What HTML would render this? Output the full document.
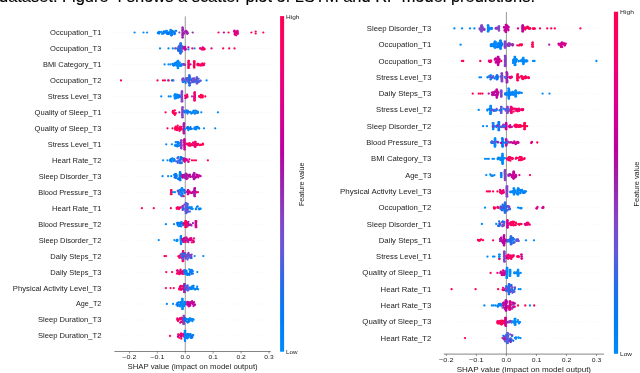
<!DOCTYPE html><html><head><meta charset="utf-8"><style>html,body{margin:0;padding:0;background:#fff;width:640px;height:373px;overflow:hidden}svg{display:block;filter:blur(0.3px)}</style></head><body><svg width="640" height="373" viewBox="0 0 640 373" font-family="Liberation Sans, sans-serif">
<defs><linearGradient id="cg" x1="0" y1="0" x2="0" y2="1"><stop offset="0.0" stop-color="#ff0051"/><stop offset="0.1" stop-color="#f90067"/><stop offset="0.2" stop-color="#e9007c"/><stop offset="0.3" stop-color="#d5008f"/><stop offset="0.4" stop-color="#bb00a0"/><stop offset="0.5" stop-color="#9b23ad"/><stop offset="0.6" stop-color="#8443c6"/><stop offset="0.7" stop-color="#6359da"/><stop offset="0.8" stop-color="#236cea"/><stop offset="0.9" stop-color="#007cf5"/><stop offset="1.0" stop-color="#008bfb"/></linearGradient></defs>
<rect width="640" height="373" fill="#ffffff"/>
<text x="-1" y="2.2" font-size="16.4" textLength="536" lengthAdjust="spacingAndGlyphs" fill="#000000" stroke="#000" stroke-width="0.12">dataset. Figure 4 shows a scatter plot of LSTM and RF model predictions.</text>
<line x1="114.40" y1="32.50" x2="270.80" y2="32.50" stroke="#d8d8d8" stroke-width="0.5" stroke-dasharray="0.5 2.6"/>
<line x1="114.40" y1="48.47" x2="270.80" y2="48.47" stroke="#d8d8d8" stroke-width="0.5" stroke-dasharray="0.5 2.6"/>
<line x1="114.40" y1="64.44" x2="270.80" y2="64.44" stroke="#d8d8d8" stroke-width="0.5" stroke-dasharray="0.5 2.6"/>
<line x1="114.40" y1="80.41" x2="270.80" y2="80.41" stroke="#d8d8d8" stroke-width="0.5" stroke-dasharray="0.5 2.6"/>
<line x1="114.40" y1="96.38" x2="270.80" y2="96.38" stroke="#d8d8d8" stroke-width="0.5" stroke-dasharray="0.5 2.6"/>
<line x1="114.40" y1="112.35" x2="270.80" y2="112.35" stroke="#d8d8d8" stroke-width="0.5" stroke-dasharray="0.5 2.6"/>
<line x1="114.40" y1="128.32" x2="270.80" y2="128.32" stroke="#d8d8d8" stroke-width="0.5" stroke-dasharray="0.5 2.6"/>
<line x1="114.40" y1="144.29" x2="270.80" y2="144.29" stroke="#d8d8d8" stroke-width="0.5" stroke-dasharray="0.5 2.6"/>
<line x1="114.40" y1="160.26" x2="270.80" y2="160.26" stroke="#d8d8d8" stroke-width="0.5" stroke-dasharray="0.5 2.6"/>
<line x1="114.40" y1="176.23" x2="270.80" y2="176.23" stroke="#d8d8d8" stroke-width="0.5" stroke-dasharray="0.5 2.6"/>
<line x1="114.40" y1="192.20" x2="270.80" y2="192.20" stroke="#d8d8d8" stroke-width="0.5" stroke-dasharray="0.5 2.6"/>
<line x1="114.40" y1="208.17" x2="270.80" y2="208.17" stroke="#d8d8d8" stroke-width="0.5" stroke-dasharray="0.5 2.6"/>
<line x1="114.40" y1="224.14" x2="270.80" y2="224.14" stroke="#d8d8d8" stroke-width="0.5" stroke-dasharray="0.5 2.6"/>
<line x1="114.40" y1="240.11" x2="270.80" y2="240.11" stroke="#d8d8d8" stroke-width="0.5" stroke-dasharray="0.5 2.6"/>
<line x1="114.40" y1="256.08" x2="270.80" y2="256.08" stroke="#d8d8d8" stroke-width="0.5" stroke-dasharray="0.5 2.6"/>
<line x1="114.40" y1="272.05" x2="270.80" y2="272.05" stroke="#d8d8d8" stroke-width="0.5" stroke-dasharray="0.5 2.6"/>
<line x1="114.40" y1="288.02" x2="270.80" y2="288.02" stroke="#d8d8d8" stroke-width="0.5" stroke-dasharray="0.5 2.6"/>
<line x1="114.40" y1="303.99" x2="270.80" y2="303.99" stroke="#d8d8d8" stroke-width="0.5" stroke-dasharray="0.5 2.6"/>
<line x1="114.40" y1="319.96" x2="270.80" y2="319.96" stroke="#d8d8d8" stroke-width="0.5" stroke-dasharray="0.5 2.6"/>
<line x1="114.40" y1="335.93" x2="270.80" y2="335.93" stroke="#d8d8d8" stroke-width="0.5" stroke-dasharray="0.5 2.6"/>
<line x1="185.25" y1="16.40" x2="185.25" y2="351.50" stroke="#999999" stroke-width="1"/>
<text x="101.40" y="34.98" text-anchor="end" font-size="7.31" textLength="51.27" lengthAdjust="spacingAndGlyphs" fill="#222222">Occupation_T1</text>
<text x="101.40" y="50.95" text-anchor="end" font-size="7.31" textLength="51.27" lengthAdjust="spacingAndGlyphs" fill="#222222">Occupation_T3</text>
<text x="101.40" y="66.92" text-anchor="end" font-size="7.31" textLength="58.49" lengthAdjust="spacingAndGlyphs" fill="#222222">BMI Category_T1</text>
<text x="101.40" y="82.89" text-anchor="end" font-size="7.31" textLength="51.27" lengthAdjust="spacingAndGlyphs" fill="#222222">Occupation_T2</text>
<text x="101.40" y="98.86" text-anchor="end" font-size="7.31" textLength="53.67" lengthAdjust="spacingAndGlyphs" fill="#222222">Stress Level_T3</text>
<text x="101.40" y="114.83" text-anchor="end" font-size="7.31" textLength="66.91" lengthAdjust="spacingAndGlyphs" fill="#222222">Quality of Sleep_T1</text>
<text x="101.40" y="130.80" text-anchor="end" font-size="7.31" textLength="66.91" lengthAdjust="spacingAndGlyphs" fill="#222222">Quality of Sleep_T3</text>
<text x="101.40" y="146.77" text-anchor="end" font-size="7.31" textLength="53.67" lengthAdjust="spacingAndGlyphs" fill="#222222">Stress Level_T1</text>
<text x="101.40" y="162.74" text-anchor="end" font-size="7.31" textLength="49.27" lengthAdjust="spacingAndGlyphs" fill="#222222">Heart Rate_T2</text>
<text x="101.40" y="178.71" text-anchor="end" font-size="7.31" textLength="62.64" lengthAdjust="spacingAndGlyphs" fill="#222222">Sleep Disorder_T3</text>
<text x="101.40" y="194.68" text-anchor="end" font-size="7.31" textLength="63.19" lengthAdjust="spacingAndGlyphs" fill="#222222">Blood Pressure_T3</text>
<text x="101.40" y="210.65" text-anchor="end" font-size="7.31" textLength="49.27" lengthAdjust="spacingAndGlyphs" fill="#222222">Heart Rate_T1</text>
<text x="101.40" y="226.62" text-anchor="end" font-size="7.31" textLength="63.19" lengthAdjust="spacingAndGlyphs" fill="#222222">Blood Pressure_T2</text>
<text x="101.40" y="242.59" text-anchor="end" font-size="7.31" textLength="62.64" lengthAdjust="spacingAndGlyphs" fill="#222222">Sleep Disorder_T2</text>
<text x="101.40" y="258.56" text-anchor="end" font-size="7.31" textLength="51.01" lengthAdjust="spacingAndGlyphs" fill="#222222">Daily Steps_T2</text>
<text x="101.40" y="274.53" text-anchor="end" font-size="7.31" textLength="51.01" lengthAdjust="spacingAndGlyphs" fill="#222222">Daily Steps_T3</text>
<text x="101.40" y="290.50" text-anchor="end" font-size="7.31" textLength="88.53" lengthAdjust="spacingAndGlyphs" fill="#222222">Physical Activity Level_T3</text>
<text x="101.40" y="306.47" text-anchor="end" font-size="7.31" textLength="25.40" lengthAdjust="spacingAndGlyphs" fill="#222222">Age_T2</text>
<text x="101.40" y="322.44" text-anchor="end" font-size="7.31" textLength="63.38" lengthAdjust="spacingAndGlyphs" fill="#222222">Sleep Duration_T3</text>
<text x="101.40" y="338.41" text-anchor="end" font-size="7.31" textLength="63.38" lengthAdjust="spacingAndGlyphs" fill="#222222">Sleep Duration_T2</text>
<line x1="114.40" y1="351.50" x2="270.80" y2="351.50" stroke="#333333" stroke-width="0.6"/>
<line x1="129.41" y1="351.50" x2="129.41" y2="353.50" stroke="#333333" stroke-width="0.5"/>
<text x="129.41" y="358.96" text-anchor="middle" font-size="5.84" textLength="14.18" lengthAdjust="spacingAndGlyphs" fill="#222222">−0.2</text>
<line x1="157.33" y1="351.50" x2="157.33" y2="353.50" stroke="#333333" stroke-width="0.5"/>
<text x="157.33" y="358.96" text-anchor="middle" font-size="5.84" textLength="14.18" lengthAdjust="spacingAndGlyphs" fill="#222222">−0.1</text>
<line x1="185.25" y1="351.50" x2="185.25" y2="353.50" stroke="#333333" stroke-width="0.5"/>
<text x="185.25" y="358.96" text-anchor="middle" font-size="5.84" textLength="9.29" lengthAdjust="spacingAndGlyphs" fill="#222222">0.0</text>
<line x1="213.17" y1="351.50" x2="213.17" y2="353.50" stroke="#333333" stroke-width="0.5"/>
<text x="213.17" y="358.96" text-anchor="middle" font-size="5.84" textLength="9.29" lengthAdjust="spacingAndGlyphs" fill="#222222">0.1</text>
<line x1="241.09" y1="351.50" x2="241.09" y2="353.50" stroke="#333333" stroke-width="0.5"/>
<text x="241.09" y="358.96" text-anchor="middle" font-size="5.84" textLength="9.29" lengthAdjust="spacingAndGlyphs" fill="#222222">0.2</text>
<line x1="269.01" y1="351.50" x2="269.01" y2="353.50" stroke="#333333" stroke-width="0.5"/>
<text x="269.01" y="358.96" text-anchor="middle" font-size="5.84" textLength="9.29" lengthAdjust="spacingAndGlyphs" fill="#222222">0.3</text>
<text x="192.60" y="369.00" text-anchor="middle" font-size="6.90" textLength="130.23" lengthAdjust="spacingAndGlyphs" fill="#222222">SHAP value (impact on model output)</text>
<rect x="280.10" y="16.10" width="4.00" height="335.60" fill="url(#cg)"/>
<text x="286.10" y="18.70" font-size="5.84" textLength="13.42" lengthAdjust="spacingAndGlyphs" fill="#222222">High</text>
<text x="286.10" y="354.10" font-size="5.84" textLength="11.50" lengthAdjust="spacingAndGlyphs" fill="#222222">Low</text>
<text transform="translate(304.49,184.30) rotate(-90)" text-anchor="middle" font-size="6.37" textLength="43.49" lengthAdjust="spacingAndGlyphs" fill="#222222">Feature value</text>
<circle cx="134.60" cy="32.50" r="1.12" fill="#008bfb"/>
<circle cx="143.50" cy="32.50" r="1.12" fill="#008bfb"/>
<circle cx="147.10" cy="32.50" r="1.12" fill="#008bfb"/>
<circle cx="158.64" cy="33.16" r="1.12" fill="#0080f7"/>
<circle cx="159.67" cy="32.49" r="1.12" fill="#0084f9"/>
<circle cx="163.04" cy="33.23" r="1.12" fill="#0089fa"/>
<circle cx="157.74" cy="33.03" r="1.12" fill="#0085f9"/>
<circle cx="163.98" cy="31.40" r="1.12" fill="#0084f9"/>
<circle cx="163.63" cy="31.87" r="1.12" fill="#007df6"/>
<circle cx="165.16" cy="31.66" r="1.12" fill="#008afb"/>
<circle cx="162.10" cy="33.76" r="1.12" fill="#0085f9"/>
<circle cx="159.34" cy="32.33" r="1.12" fill="#008afb"/>
<circle cx="159.38" cy="32.37" r="1.12" fill="#0084f9"/>
<circle cx="159.48" cy="31.91" r="1.12" fill="#0088fa"/>
<circle cx="161.41" cy="31.89" r="1.12" fill="#008afb"/>
<circle cx="164.62" cy="32.61" r="1.12" fill="#0082f8"/>
<circle cx="159.08" cy="33.51" r="1.12" fill="#007ef6"/>
<circle cx="158.53" cy="32.19" r="1.12" fill="#0080f7"/>
<circle cx="163.55" cy="33.53" r="1.12" fill="#0085f9"/>
<circle cx="174.72" cy="33.18" r="1.12" fill="#0082f8"/>
<circle cx="172.17" cy="34.59" r="1.12" fill="#0071ee"/>
<circle cx="171.31" cy="33.03" r="1.12" fill="#008afb"/>
<circle cx="168.55" cy="33.83" r="1.12" fill="#007ff6"/>
<circle cx="167.82" cy="32.70" r="1.12" fill="#0076f1"/>
<circle cx="173.08" cy="31.88" r="1.12" fill="#007ef6"/>
<circle cx="171.34" cy="34.16" r="1.12" fill="#007cf5"/>
<circle cx="170.13" cy="32.44" r="1.12" fill="#008afb"/>
<circle cx="166.46" cy="33.16" r="1.12" fill="#1f6deb"/>
<circle cx="172.23" cy="31.92" r="1.12" fill="#0086f9"/>
<circle cx="171.27" cy="35.39" r="1.12" fill="#0074f0"/>
<circle cx="171.67" cy="34.58" r="1.12" fill="#0084f9"/>
<circle cx="171.39" cy="35.18" r="1.12" fill="#007af4"/>
<circle cx="170.82" cy="31.17" r="1.12" fill="#007bf4"/>
<circle cx="176.05" cy="30.89" r="1.12" fill="#0073f0"/>
<circle cx="174.62" cy="34.07" r="1.12" fill="#0075f1"/>
<circle cx="174.50" cy="32.58" r="1.12" fill="#007af4"/>
<circle cx="170.47" cy="30.03" r="1.12" fill="#0070ee"/>
<circle cx="171.98" cy="30.83" r="1.12" fill="#007cf5"/>
<circle cx="171.09" cy="31.65" r="1.12" fill="#0081f7"/>
<circle cx="171.65" cy="33.21" r="1.12" fill="#0079f3"/>
<circle cx="170.81" cy="29.79" r="1.12" fill="#0084f9"/>
<circle cx="167.86" cy="32.84" r="1.12" fill="#0071ee"/>
<circle cx="174.38" cy="33.75" r="1.12" fill="#0072ef"/>
<circle cx="168.68" cy="34.05" r="1.12" fill="#0077f2"/>
<circle cx="166.87" cy="30.81" r="1.12" fill="#008afb"/>
<circle cx="173.93" cy="31.38" r="1.12" fill="#0088fa"/>
<circle cx="172.56" cy="31.68" r="1.12" fill="#0089fa"/>
<circle cx="167.68" cy="32.61" r="1.12" fill="#0086f9"/>
<circle cx="168.87" cy="33.48" r="1.12" fill="#007ef6"/>
<circle cx="169.38" cy="32.37" r="1.12" fill="#008afb"/>
<circle cx="170.06" cy="32.08" r="1.12" fill="#0085f9"/>
<circle cx="167.14" cy="33.96" r="1.12" fill="#007cf5"/>
<circle cx="168.20" cy="32.95" r="1.12" fill="#0072ef"/>
<circle cx="166.22" cy="30.99" r="1.12" fill="#0087fa"/>
<circle cx="179.40" cy="32.50" r="1.12" fill="#6359da"/>
<circle cx="182.39" cy="27.50" r="1.12" fill="#9b23ad"/>
<circle cx="182.76" cy="27.50" r="1.12" fill="#9b23ad"/>
<circle cx="182.38" cy="29.17" r="1.12" fill="#9b23ad"/>
<circle cx="182.97" cy="29.17" r="1.12" fill="#9b23ad"/>
<circle cx="182.32" cy="30.83" r="1.12" fill="#9b23ad"/>
<circle cx="182.79" cy="30.83" r="1.12" fill="#9b23ad"/>
<circle cx="182.49" cy="32.50" r="1.12" fill="#9b23ad"/>
<circle cx="183.02" cy="32.50" r="1.12" fill="#9b23ad"/>
<circle cx="182.31" cy="34.17" r="1.12" fill="#9b23ad"/>
<circle cx="182.79" cy="34.17" r="1.12" fill="#9b23ad"/>
<circle cx="182.36" cy="35.83" r="1.12" fill="#9b23ad"/>
<circle cx="182.86" cy="35.83" r="1.12" fill="#9b23ad"/>
<circle cx="182.33" cy="37.50" r="1.12" fill="#9b23ad"/>
<circle cx="182.83" cy="37.50" r="1.12" fill="#9b23ad"/>
<circle cx="186.34" cy="30.97" r="1.12" fill="#a01fab"/>
<circle cx="187.86" cy="33.30" r="1.12" fill="#a01fab"/>
<circle cx="187.36" cy="32.01" r="1.12" fill="#aa16a7"/>
<circle cx="186.85" cy="32.25" r="1.12" fill="#9f20ab"/>
<circle cx="183.54" cy="33.27" r="1.12" fill="#9c23ad"/>
<circle cx="187.19" cy="33.76" r="1.12" fill="#a51ca9"/>
<circle cx="184.27" cy="33.49" r="1.12" fill="#ab16a7"/>
<circle cx="186.67" cy="32.53" r="1.12" fill="#a11eab"/>
<circle cx="185.06" cy="31.50" r="1.12" fill="#a61aa9"/>
<circle cx="185.45" cy="31.36" r="1.12" fill="#9d22ac"/>
<circle cx="192.70" cy="32.50" r="1.12" fill="#9b23ad"/>
<circle cx="218.50" cy="32.50" r="1.12" fill="#ff0051"/>
<circle cx="223.90" cy="32.50" r="1.12" fill="#bb00a0"/>
<circle cx="228.50" cy="32.50" r="1.12" fill="#ff0051"/>
<circle cx="236.66" cy="31.31" r="1.12" fill="#e00086"/>
<circle cx="235.30" cy="34.65" r="1.12" fill="#e7007e"/>
<circle cx="234.07" cy="31.42" r="1.12" fill="#dc0089"/>
<circle cx="237.95" cy="33.52" r="1.12" fill="#dc0089"/>
<circle cx="234.85" cy="33.37" r="1.12" fill="#e6007f"/>
<circle cx="237.73" cy="31.88" r="1.12" fill="#e7007e"/>
<circle cx="236.75" cy="32.41" r="1.12" fill="#e9007c"/>
<circle cx="234.94" cy="33.66" r="1.12" fill="#d7008d"/>
<circle cx="234.68" cy="34.43" r="1.12" fill="#d9008b"/>
<circle cx="237.04" cy="33.02" r="1.12" fill="#e6007f"/>
<circle cx="235.47" cy="31.53" r="1.12" fill="#db008a"/>
<circle cx="237.47" cy="32.96" r="1.12" fill="#e8007d"/>
<circle cx="237.55" cy="30.94" r="1.12" fill="#e10085"/>
<circle cx="234.42" cy="30.55" r="1.12" fill="#d6008e"/>
<circle cx="237.46" cy="33.78" r="1.12" fill="#e6007f"/>
<circle cx="235.36" cy="33.18" r="1.12" fill="#e50080"/>
<circle cx="235.51" cy="32.94" r="1.12" fill="#da008b"/>
<circle cx="234.33" cy="31.55" r="1.12" fill="#e7007e"/>
<circle cx="236.26" cy="35.28" r="1.12" fill="#df0087"/>
<circle cx="251.40" cy="32.50" r="1.12" fill="#ff0051"/>
<circle cx="255.70" cy="31.50" r="1.12" fill="#ff0051"/>
<circle cx="255.70" cy="33.50" r="1.12" fill="#ff0051"/>
<circle cx="263.30" cy="32.50" r="1.12" fill="#ff0051"/>
<circle cx="160.00" cy="48.47" r="1.12" fill="#008bfb"/>
<circle cx="168.50" cy="48.47" r="1.12" fill="#008bfb"/>
<circle cx="172.80" cy="48.47" r="1.12" fill="#008bfb"/>
<circle cx="175.20" cy="48.47" r="1.12" fill="#ff0051"/>
<circle cx="176.00" cy="48.47" r="1.12" fill="#008bfb"/>
<circle cx="179.50" cy="50.25" r="1.12" fill="#8145c8"/>
<circle cx="178.07" cy="49.17" r="1.12" fill="#0077f2"/>
<circle cx="178.62" cy="50.36" r="1.12" fill="#007af4"/>
<circle cx="179.29" cy="51.36" r="1.12" fill="#4964e3"/>
<circle cx="178.62" cy="46.83" r="1.12" fill="#066fec"/>
<circle cx="182.02" cy="46.07" r="1.12" fill="#893ec1"/>
<circle cx="180.04" cy="51.77" r="1.12" fill="#893ec1"/>
<circle cx="179.59" cy="46.90" r="1.12" fill="#5460e0"/>
<circle cx="178.54" cy="49.20" r="1.12" fill="#007af4"/>
<circle cx="178.06" cy="50.44" r="1.12" fill="#286bea"/>
<circle cx="181.22" cy="48.11" r="1.12" fill="#2e6ae9"/>
<circle cx="178.34" cy="50.33" r="1.12" fill="#8e38bc"/>
<circle cx="183.24" cy="46.82" r="1.12" fill="#0070ed"/>
<circle cx="181.34" cy="51.86" r="1.12" fill="#5e5bdc"/>
<circle cx="181.72" cy="49.52" r="1.12" fill="#156eec"/>
<circle cx="180.92" cy="46.99" r="1.12" fill="#0b6eec"/>
<circle cx="178.44" cy="47.45" r="1.12" fill="#8f37bb"/>
<circle cx="180.42" cy="49.62" r="1.12" fill="#6c54d6"/>
<circle cx="183.08" cy="47.98" r="1.12" fill="#2c6be9"/>
<circle cx="179.77" cy="47.26" r="1.12" fill="#8344c6"/>
<circle cx="182.82" cy="47.51" r="1.12" fill="#3469e8"/>
<circle cx="180.94" cy="49.07" r="1.12" fill="#6658d9"/>
<circle cx="179.32" cy="45.61" r="1.12" fill="#086fec"/>
<circle cx="178.39" cy="48.70" r="1.12" fill="#0078f3"/>
<circle cx="178.41" cy="49.09" r="1.12" fill="#266cea"/>
<circle cx="182.28" cy="48.43" r="1.12" fill="#8542c5"/>
<circle cx="178.83" cy="48.48" r="1.12" fill="#7e48cb"/>
<circle cx="178.42" cy="50.54" r="1.12" fill="#0073ef"/>
<circle cx="182.19" cy="51.28" r="1.12" fill="#8146c9"/>
<circle cx="179.73" cy="45.89" r="1.12" fill="#5a5dde"/>
<circle cx="182.96" cy="47.51" r="1.12" fill="#873fc3"/>
<circle cx="178.77" cy="50.58" r="1.12" fill="#007bf4"/>
<circle cx="180.23" cy="43.47" r="1.12" fill="#236cea"/>
<circle cx="181.06" cy="43.47" r="1.12" fill="#236cea"/>
<circle cx="180.42" cy="45.14" r="1.12" fill="#236cea"/>
<circle cx="181.06" cy="45.14" r="1.12" fill="#236cea"/>
<circle cx="180.44" cy="46.80" r="1.12" fill="#236cea"/>
<circle cx="181.00" cy="46.80" r="1.12" fill="#236cea"/>
<circle cx="180.38" cy="48.47" r="1.12" fill="#236cea"/>
<circle cx="180.77" cy="48.47" r="1.12" fill="#236cea"/>
<circle cx="180.27" cy="50.14" r="1.12" fill="#236cea"/>
<circle cx="180.76" cy="50.14" r="1.12" fill="#236cea"/>
<circle cx="180.39" cy="51.80" r="1.12" fill="#236cea"/>
<circle cx="180.97" cy="51.80" r="1.12" fill="#236cea"/>
<circle cx="180.20" cy="53.47" r="1.12" fill="#236cea"/>
<circle cx="180.73" cy="53.47" r="1.12" fill="#236cea"/>
<circle cx="185.93" cy="49.13" r="1.12" fill="#ca0097"/>
<circle cx="185.08" cy="49.82" r="1.12" fill="#c70098"/>
<circle cx="184.79" cy="47.89" r="1.12" fill="#c2009c"/>
<circle cx="184.05" cy="48.78" r="1.12" fill="#c60099"/>
<circle cx="185.14" cy="46.84" r="1.12" fill="#c4009a"/>
<circle cx="184.28" cy="47.51" r="1.12" fill="#c2009c"/>
<circle cx="188.40" cy="47.47" r="1.12" fill="#bb00a0"/>
<circle cx="188.40" cy="49.47" r="1.12" fill="#008bfb"/>
<circle cx="192.30" cy="48.47" r="1.12" fill="#ff0051"/>
<circle cx="194.50" cy="48.47" r="1.12" fill="#008bfb"/>
<circle cx="204.07" cy="48.26" r="1.12" fill="#ed0078"/>
<circle cx="202.64" cy="47.76" r="1.12" fill="#d5008f"/>
<circle cx="202.09" cy="48.47" r="1.12" fill="#f80068"/>
<circle cx="201.49" cy="49.00" r="1.12" fill="#fb0063"/>
<circle cx="200.17" cy="48.46" r="1.12" fill="#f10073"/>
<circle cx="200.09" cy="48.28" r="1.12" fill="#f4006e"/>
<circle cx="204.59" cy="49.21" r="1.12" fill="#e6007f"/>
<circle cx="202.87" cy="47.31" r="1.12" fill="#d9008b"/>
<circle cx="201.98" cy="49.59" r="1.12" fill="#df0086"/>
<circle cx="203.66" cy="49.31" r="1.12" fill="#e8007d"/>
<circle cx="203.17" cy="49.32" r="1.12" fill="#eb007a"/>
<circle cx="203.23" cy="49.04" r="1.12" fill="#f6006c"/>
<circle cx="204.25" cy="49.24" r="1.12" fill="#ff0054"/>
<circle cx="211.50" cy="48.47" r="1.12" fill="#d5008f"/>
<circle cx="223.20" cy="48.47" r="1.12" fill="#ff0051"/>
<circle cx="229.20" cy="48.47" r="1.12" fill="#ff0051"/>
<circle cx="234.50" cy="48.47" r="1.12" fill="#ff0051"/>
<circle cx="164.60" cy="64.44" r="1.12" fill="#008bfb"/>
<circle cx="168.50" cy="64.44" r="1.12" fill="#008bfb"/>
<circle cx="170.50" cy="64.44" r="1.12" fill="#008bfb"/>
<circle cx="177.93" cy="62.94" r="1.12" fill="#0087fa"/>
<circle cx="174.57" cy="64.69" r="1.12" fill="#0080f7"/>
<circle cx="173.00" cy="64.94" r="1.12" fill="#0080f7"/>
<circle cx="175.81" cy="64.50" r="1.12" fill="#0088fa"/>
<circle cx="179.43" cy="62.67" r="1.12" fill="#007df5"/>
<circle cx="180.18" cy="64.88" r="1.12" fill="#0087fa"/>
<circle cx="181.17" cy="65.79" r="1.12" fill="#0089fa"/>
<circle cx="179.87" cy="65.68" r="1.12" fill="#0081f8"/>
<circle cx="179.15" cy="64.22" r="1.12" fill="#007df6"/>
<circle cx="181.73" cy="64.13" r="1.12" fill="#007ff7"/>
<circle cx="176.61" cy="62.88" r="1.12" fill="#0086f9"/>
<circle cx="173.70" cy="65.72" r="1.12" fill="#007df5"/>
<circle cx="173.63" cy="64.75" r="1.12" fill="#0085f9"/>
<circle cx="173.62" cy="63.81" r="1.12" fill="#0087fa"/>
<circle cx="179.62" cy="62.58" r="1.12" fill="#0088fa"/>
<circle cx="176.67" cy="62.19" r="1.12" fill="#0082f8"/>
<circle cx="178.25" cy="65.94" r="1.12" fill="#0088fa"/>
<circle cx="175.21" cy="64.61" r="1.12" fill="#0087fa"/>
<circle cx="178.06" cy="63.30" r="1.12" fill="#0081f7"/>
<circle cx="180.02" cy="65.53" r="1.12" fill="#007df5"/>
<circle cx="177.68" cy="64.40" r="1.12" fill="#007ef6"/>
<circle cx="179.81" cy="64.70" r="1.12" fill="#0085f9"/>
<circle cx="175.20" cy="62.90" r="1.12" fill="#007ff7"/>
<circle cx="173.62" cy="65.20" r="1.12" fill="#0083f8"/>
<circle cx="181.67" cy="65.14" r="1.12" fill="#007df5"/>
<circle cx="173.80" cy="64.44" r="1.12" fill="#0083f8"/>
<circle cx="175.46" cy="64.45" r="1.12" fill="#0086f9"/>
<circle cx="177.52" cy="62.02" r="1.12" fill="#0084f9"/>
<circle cx="176.77" cy="63.51" r="1.12" fill="#0085f9"/>
<circle cx="179.94" cy="65.10" r="1.12" fill="#0084f9"/>
<circle cx="178.65" cy="63.92" r="1.12" fill="#0088fa"/>
<circle cx="172.54" cy="63.88" r="1.12" fill="#0082f8"/>
<circle cx="180.88" cy="65.46" r="1.12" fill="#0083f8"/>
<circle cx="181.88" cy="64.34" r="1.12" fill="#007ff6"/>
<circle cx="176.39" cy="65.55" r="1.12" fill="#007cf5"/>
<circle cx="175.40" cy="63.11" r="1.12" fill="#0082f8"/>
<circle cx="177.54" cy="63.76" r="1.12" fill="#008bfb"/>
<circle cx="176.20" cy="64.11" r="1.12" fill="#0085f9"/>
<circle cx="177.74" cy="60.84" r="1.12" fill="#008bfb"/>
<circle cx="178.23" cy="60.84" r="1.12" fill="#008bfb"/>
<circle cx="177.69" cy="62.64" r="1.12" fill="#008bfb"/>
<circle cx="178.36" cy="62.64" r="1.12" fill="#008bfb"/>
<circle cx="177.70" cy="64.44" r="1.12" fill="#008bfb"/>
<circle cx="178.20" cy="64.44" r="1.12" fill="#008bfb"/>
<circle cx="177.70" cy="66.24" r="1.12" fill="#008bfb"/>
<circle cx="178.26" cy="66.24" r="1.12" fill="#008bfb"/>
<circle cx="177.66" cy="68.04" r="1.12" fill="#008bfb"/>
<circle cx="178.25" cy="68.04" r="1.12" fill="#008bfb"/>
<circle cx="183.81" cy="64.67" r="1.12" fill="#9331b6"/>
<circle cx="184.87" cy="64.76" r="1.12" fill="#9829b1"/>
<circle cx="184.53" cy="64.90" r="1.12" fill="#9331b7"/>
<circle cx="183.70" cy="64.04" r="1.12" fill="#952eb4"/>
<circle cx="184.75" cy="64.50" r="1.12" fill="#883fc2"/>
<circle cx="188.43" cy="60.94" r="1.12" fill="#ff0051"/>
<circle cx="188.89" cy="60.94" r="1.12" fill="#ff0051"/>
<circle cx="188.29" cy="62.69" r="1.12" fill="#ff0051"/>
<circle cx="188.72" cy="62.69" r="1.12" fill="#ff0051"/>
<circle cx="188.30" cy="64.44" r="1.12" fill="#ff0051"/>
<circle cx="189.00" cy="64.44" r="1.12" fill="#ff0051"/>
<circle cx="188.27" cy="66.19" r="1.12" fill="#ff0051"/>
<circle cx="188.84" cy="66.19" r="1.12" fill="#ff0051"/>
<circle cx="188.36" cy="67.94" r="1.12" fill="#ff0051"/>
<circle cx="188.71" cy="67.94" r="1.12" fill="#ff0051"/>
<circle cx="190.50" cy="64.44" r="1.12" fill="#bb00a0"/>
<circle cx="193.90" cy="61.44" r="1.12" fill="#ff0051"/>
<circle cx="194.68" cy="61.44" r="1.12" fill="#ff0051"/>
<circle cx="193.98" cy="62.94" r="1.12" fill="#ff0051"/>
<circle cx="194.46" cy="62.94" r="1.12" fill="#ff0051"/>
<circle cx="193.98" cy="64.44" r="1.12" fill="#ff0051"/>
<circle cx="194.54" cy="64.44" r="1.12" fill="#ff0051"/>
<circle cx="193.78" cy="65.94" r="1.12" fill="#ff0051"/>
<circle cx="194.38" cy="65.94" r="1.12" fill="#ff0051"/>
<circle cx="194.05" cy="67.44" r="1.12" fill="#ff0051"/>
<circle cx="194.41" cy="67.44" r="1.12" fill="#ff0051"/>
<circle cx="197.37" cy="65.01" r="1.12" fill="#fc0061"/>
<circle cx="200.01" cy="64.47" r="1.12" fill="#ff005a"/>
<circle cx="198.22" cy="64.75" r="1.12" fill="#ff005b"/>
<circle cx="204.04" cy="63.97" r="1.12" fill="#fd005e"/>
<circle cx="198.79" cy="64.57" r="1.12" fill="#f5006c"/>
<circle cx="203.81" cy="65.22" r="1.12" fill="#f90067"/>
<circle cx="198.70" cy="65.45" r="1.12" fill="#ff005b"/>
<circle cx="204.29" cy="63.52" r="1.12" fill="#ff0054"/>
<circle cx="202.30" cy="63.96" r="1.12" fill="#fa0064"/>
<circle cx="203.55" cy="65.07" r="1.12" fill="#f6006c"/>
<circle cx="202.33" cy="63.56" r="1.12" fill="#ff0052"/>
<circle cx="200.69" cy="65.61" r="1.12" fill="#ff005a"/>
<circle cx="202.16" cy="63.80" r="1.12" fill="#fc0061"/>
<circle cx="197.95" cy="63.75" r="1.12" fill="#ff005b"/>
<circle cx="199.95" cy="65.09" r="1.12" fill="#f7006a"/>
<circle cx="203.16" cy="64.95" r="1.12" fill="#f80068"/>
<circle cx="197.66" cy="64.25" r="1.12" fill="#fb0062"/>
<circle cx="197.60" cy="63.88" r="1.12" fill="#f30070"/>
<circle cx="202.08" cy="65.49" r="1.12" fill="#f6006b"/>
<circle cx="121.00" cy="80.41" r="1.12" fill="#ff0051"/>
<circle cx="157.50" cy="80.41" r="1.12" fill="#ff0051"/>
<circle cx="163.00" cy="80.41" r="1.12" fill="#ff0051"/>
<circle cx="165.00" cy="80.41" r="1.12" fill="#ff0051"/>
<circle cx="168.00" cy="80.41" r="1.12" fill="#008bfb"/>
<circle cx="168.75" cy="80.41" r="1.12" fill="#ff0051"/>
<circle cx="171.90" cy="80.41" r="1.12" fill="#008bfb"/>
<circle cx="172.80" cy="80.41" r="1.12" fill="#ff0051"/>
<circle cx="173.40" cy="80.41" r="1.12" fill="#008bfb"/>
<circle cx="182.68" cy="81.17" r="1.12" fill="#8641c4"/>
<circle cx="195.50" cy="80.83" r="1.12" fill="#0071ee"/>
<circle cx="193.76" cy="78.64" r="1.12" fill="#744fd1"/>
<circle cx="183.51" cy="79.99" r="1.12" fill="#4964e3"/>
<circle cx="187.41" cy="78.37" r="1.12" fill="#007af4"/>
<circle cx="193.52" cy="80.23" r="1.12" fill="#5e5bdc"/>
<circle cx="185.12" cy="81.48" r="1.12" fill="#0072ef"/>
<circle cx="190.39" cy="83.01" r="1.12" fill="#9b24ae"/>
<circle cx="182.84" cy="81.55" r="1.12" fill="#8b3bbf"/>
<circle cx="186.61" cy="79.74" r="1.12" fill="#5e5bdc"/>
<circle cx="194.88" cy="80.00" r="1.12" fill="#8e38bc"/>
<circle cx="192.67" cy="78.61" r="1.12" fill="#9233b8"/>
<circle cx="182.41" cy="79.13" r="1.12" fill="#6f53d4"/>
<circle cx="182.99" cy="79.94" r="1.12" fill="#0081f8"/>
<circle cx="188.59" cy="82.70" r="1.12" fill="#9134b9"/>
<circle cx="182.69" cy="78.76" r="1.12" fill="#893dc1"/>
<circle cx="182.79" cy="79.55" r="1.12" fill="#0082f8"/>
<circle cx="183.46" cy="78.46" r="1.12" fill="#6a55d7"/>
<circle cx="192.48" cy="81.40" r="1.12" fill="#8a3dc0"/>
<circle cx="191.35" cy="79.76" r="1.12" fill="#6956d7"/>
<circle cx="195.58" cy="80.94" r="1.12" fill="#0079f3"/>
<circle cx="183.03" cy="82.12" r="1.12" fill="#615adb"/>
<circle cx="187.02" cy="81.04" r="1.12" fill="#5a5dde"/>
<circle cx="189.41" cy="77.40" r="1.12" fill="#0070ed"/>
<circle cx="187.89" cy="78.49" r="1.12" fill="#8e38bc"/>
<circle cx="188.05" cy="81.46" r="1.12" fill="#774dcf"/>
<circle cx="192.46" cy="81.58" r="1.12" fill="#7d49cb"/>
<circle cx="185.67" cy="82.92" r="1.12" fill="#0080f7"/>
<circle cx="194.88" cy="81.85" r="1.12" fill="#8b3cc0"/>
<circle cx="182.93" cy="78.83" r="1.12" fill="#8641c4"/>
<circle cx="188.67" cy="79.53" r="1.12" fill="#9926af"/>
<circle cx="182.75" cy="80.53" r="1.12" fill="#3868e7"/>
<circle cx="183.97" cy="79.95" r="1.12" fill="#764ed0"/>
<circle cx="194.38" cy="78.35" r="1.12" fill="#5161e1"/>
<circle cx="183.45" cy="81.65" r="1.12" fill="#0085f9"/>
<circle cx="182.67" cy="79.98" r="1.12" fill="#7a4bcd"/>
<circle cx="186.52" cy="78.30" r="1.12" fill="#8343c6"/>
<circle cx="193.34" cy="82.14" r="1.12" fill="#0074f0"/>
<circle cx="188.06" cy="78.76" r="1.12" fill="#595ede"/>
<circle cx="186.76" cy="79.47" r="1.12" fill="#8245c8"/>
<circle cx="195.40" cy="80.73" r="1.12" fill="#0083f8"/>
<circle cx="191.21" cy="80.11" r="1.12" fill="#9a25ae"/>
<circle cx="192.13" cy="82.24" r="1.12" fill="#754ed0"/>
<circle cx="189.59" cy="83.09" r="1.12" fill="#883fc2"/>
<circle cx="186.22" cy="78.51" r="1.12" fill="#086fec"/>
<circle cx="189.39" cy="77.65" r="1.12" fill="#0071ee"/>
<circle cx="190.13" cy="77.45" r="1.12" fill="#8641c4"/>
<circle cx="191.19" cy="79.30" r="1.12" fill="#0075f0"/>
<circle cx="189.04" cy="75.41" r="1.12" fill="#236cea"/>
<circle cx="189.63" cy="75.41" r="1.12" fill="#236cea"/>
<circle cx="189.20" cy="77.08" r="1.12" fill="#236cea"/>
<circle cx="189.70" cy="77.08" r="1.12" fill="#236cea"/>
<circle cx="189.11" cy="78.74" r="1.12" fill="#236cea"/>
<circle cx="189.56" cy="78.74" r="1.12" fill="#236cea"/>
<circle cx="189.27" cy="80.41" r="1.12" fill="#236cea"/>
<circle cx="189.63" cy="80.41" r="1.12" fill="#236cea"/>
<circle cx="189.03" cy="82.08" r="1.12" fill="#236cea"/>
<circle cx="189.53" cy="82.08" r="1.12" fill="#236cea"/>
<circle cx="189.29" cy="83.74" r="1.12" fill="#236cea"/>
<circle cx="189.69" cy="83.74" r="1.12" fill="#236cea"/>
<circle cx="189.27" cy="85.41" r="1.12" fill="#236cea"/>
<circle cx="189.87" cy="85.41" r="1.12" fill="#236cea"/>
<circle cx="196.59" cy="77.41" r="1.12" fill="#6359da"/>
<circle cx="197.13" cy="77.41" r="1.12" fill="#6359da"/>
<circle cx="196.57" cy="78.91" r="1.12" fill="#6359da"/>
<circle cx="197.17" cy="78.91" r="1.12" fill="#6359da"/>
<circle cx="196.52" cy="80.41" r="1.12" fill="#6359da"/>
<circle cx="196.85" cy="80.41" r="1.12" fill="#6359da"/>
<circle cx="196.41" cy="81.91" r="1.12" fill="#6359da"/>
<circle cx="197.03" cy="81.91" r="1.12" fill="#6359da"/>
<circle cx="196.60" cy="83.41" r="1.12" fill="#6359da"/>
<circle cx="197.11" cy="83.41" r="1.12" fill="#6359da"/>
<circle cx="199.51" cy="81.20" r="1.12" fill="#6658d9"/>
<circle cx="200.71" cy="80.73" r="1.12" fill="#6b55d6"/>
<circle cx="198.32" cy="82.26" r="1.12" fill="#784ccf"/>
<circle cx="196.84" cy="79.47" r="1.12" fill="#8641c4"/>
<circle cx="198.81" cy="81.94" r="1.12" fill="#4e62e2"/>
<circle cx="198.06" cy="81.24" r="1.12" fill="#3369e8"/>
<circle cx="196.50" cy="80.52" r="1.12" fill="#5a5dde"/>
<circle cx="196.53" cy="79.83" r="1.12" fill="#8145c8"/>
<circle cx="198.63" cy="78.77" r="1.12" fill="#3868e7"/>
<circle cx="200.25" cy="80.78" r="1.12" fill="#4c63e3"/>
<circle cx="206.60" cy="80.41" r="1.12" fill="#008bfb"/>
<circle cx="161.25" cy="96.38" r="1.12" fill="#008bfb"/>
<circle cx="168.75" cy="96.38" r="1.12" fill="#008bfb"/>
<circle cx="170.60" cy="96.38" r="1.12" fill="#008bfb"/>
<circle cx="178.96" cy="95.16" r="1.12" fill="#0085f9"/>
<circle cx="178.86" cy="96.93" r="1.12" fill="#0087fa"/>
<circle cx="179.18" cy="96.62" r="1.12" fill="#007ef6"/>
<circle cx="179.20" cy="96.20" r="1.12" fill="#0081f7"/>
<circle cx="176.58" cy="98.08" r="1.12" fill="#007ff7"/>
<circle cx="177.94" cy="97.35" r="1.12" fill="#007cf5"/>
<circle cx="174.42" cy="95.48" r="1.12" fill="#0080f7"/>
<circle cx="178.28" cy="96.42" r="1.12" fill="#0084f9"/>
<circle cx="175.53" cy="97.76" r="1.12" fill="#007ff7"/>
<circle cx="176.88" cy="94.70" r="1.12" fill="#007ff6"/>
<circle cx="175.94" cy="95.19" r="1.12" fill="#0086fa"/>
<circle cx="177.69" cy="94.78" r="1.12" fill="#0089fa"/>
<circle cx="174.77" cy="97.62" r="1.12" fill="#0080f7"/>
<circle cx="179.78" cy="96.47" r="1.12" fill="#0083f8"/>
<circle cx="176.64" cy="96.48" r="1.12" fill="#0083f8"/>
<circle cx="178.64" cy="97.62" r="1.12" fill="#0085f9"/>
<circle cx="177.22" cy="95.71" r="1.12" fill="#0086fa"/>
<circle cx="176.30" cy="96.72" r="1.12" fill="#0083f8"/>
<circle cx="179.82" cy="95.67" r="1.12" fill="#0082f8"/>
<circle cx="179.96" cy="96.86" r="1.12" fill="#0083f8"/>
<circle cx="175.26" cy="96.04" r="1.12" fill="#007df6"/>
<circle cx="179.21" cy="96.79" r="1.12" fill="#007ef6"/>
<circle cx="174.87" cy="94.38" r="1.12" fill="#008bfb"/>
<circle cx="175.44" cy="94.38" r="1.12" fill="#008bfb"/>
<circle cx="174.65" cy="96.38" r="1.12" fill="#008bfb"/>
<circle cx="175.29" cy="96.38" r="1.12" fill="#008bfb"/>
<circle cx="174.82" cy="98.38" r="1.12" fill="#008bfb"/>
<circle cx="175.25" cy="98.38" r="1.12" fill="#008bfb"/>
<circle cx="181.70" cy="91.38" r="1.12" fill="#8443c6"/>
<circle cx="182.19" cy="91.38" r="1.12" fill="#8443c6"/>
<circle cx="181.53" cy="93.05" r="1.12" fill="#8443c6"/>
<circle cx="182.18" cy="93.05" r="1.12" fill="#8443c6"/>
<circle cx="181.45" cy="94.71" r="1.12" fill="#8443c6"/>
<circle cx="182.14" cy="94.71" r="1.12" fill="#8443c6"/>
<circle cx="181.57" cy="96.38" r="1.12" fill="#8443c6"/>
<circle cx="182.01" cy="96.38" r="1.12" fill="#8443c6"/>
<circle cx="181.47" cy="98.05" r="1.12" fill="#8443c6"/>
<circle cx="182.10" cy="98.05" r="1.12" fill="#8443c6"/>
<circle cx="181.74" cy="99.71" r="1.12" fill="#8443c6"/>
<circle cx="182.24" cy="99.71" r="1.12" fill="#8443c6"/>
<circle cx="181.51" cy="101.38" r="1.12" fill="#8443c6"/>
<circle cx="182.40" cy="101.38" r="1.12" fill="#8443c6"/>
<circle cx="185.64" cy="96.44" r="1.12" fill="#fb0062"/>
<circle cx="186.73" cy="96.06" r="1.12" fill="#fc0060"/>
<circle cx="186.21" cy="97.65" r="1.12" fill="#f10072"/>
<circle cx="187.43" cy="97.07" r="1.12" fill="#db008a"/>
<circle cx="185.32" cy="98.14" r="1.12" fill="#e30082"/>
<circle cx="185.07" cy="95.60" r="1.12" fill="#f10073"/>
<circle cx="187.38" cy="96.05" r="1.12" fill="#fb0063"/>
<circle cx="187.09" cy="94.74" r="1.12" fill="#f6006b"/>
<circle cx="192.00" cy="96.38" r="1.12" fill="#8443c6"/>
<circle cx="194.50" cy="92.38" r="1.12" fill="#f20072"/>
<circle cx="194.92" cy="92.38" r="1.12" fill="#f20072"/>
<circle cx="194.31" cy="93.71" r="1.12" fill="#f20072"/>
<circle cx="194.84" cy="93.71" r="1.12" fill="#f20072"/>
<circle cx="194.48" cy="95.05" r="1.12" fill="#f20072"/>
<circle cx="195.09" cy="95.05" r="1.12" fill="#f20072"/>
<circle cx="194.14" cy="96.38" r="1.12" fill="#f20072"/>
<circle cx="194.92" cy="96.38" r="1.12" fill="#f20072"/>
<circle cx="194.27" cy="97.71" r="1.12" fill="#f20072"/>
<circle cx="194.97" cy="97.71" r="1.12" fill="#f20072"/>
<circle cx="194.15" cy="99.05" r="1.12" fill="#f20072"/>
<circle cx="194.81" cy="99.05" r="1.12" fill="#f20072"/>
<circle cx="194.21" cy="100.38" r="1.12" fill="#f20072"/>
<circle cx="194.89" cy="100.38" r="1.12" fill="#f20072"/>
<circle cx="202.33" cy="97.14" r="1.12" fill="#ff0051"/>
<circle cx="201.78" cy="95.36" r="1.12" fill="#ff0051"/>
<circle cx="201.74" cy="95.87" r="1.12" fill="#ff0051"/>
<circle cx="202.85" cy="95.69" r="1.12" fill="#ff0051"/>
<circle cx="199.10" cy="96.17" r="1.12" fill="#ff0051"/>
<circle cx="199.55" cy="96.42" r="1.12" fill="#ff0051"/>
<circle cx="202.77" cy="97.28" r="1.12" fill="#ff0051"/>
<circle cx="200.91" cy="97.56" r="1.12" fill="#ff0051"/>
<circle cx="199.61" cy="96.94" r="1.12" fill="#ff0051"/>
<circle cx="200.88" cy="94.93" r="1.12" fill="#ff0051"/>
<circle cx="205.30" cy="96.38" r="1.12" fill="#ff0051"/>
<circle cx="165.60" cy="112.35" r="1.12" fill="#ff0051"/>
<circle cx="175.00" cy="114.50" r="1.12" fill="#ff0052"/>
<circle cx="173.52" cy="112.54" r="1.12" fill="#fe005e"/>
<circle cx="175.39" cy="113.87" r="1.12" fill="#fb0062"/>
<circle cx="173.54" cy="113.31" r="1.12" fill="#fd005e"/>
<circle cx="172.99" cy="111.20" r="1.12" fill="#ff005b"/>
<circle cx="174.77" cy="114.84" r="1.12" fill="#ff005c"/>
<circle cx="174.81" cy="110.47" r="1.12" fill="#fd005e"/>
<circle cx="173.56" cy="113.26" r="1.12" fill="#fc0061"/>
<circle cx="173.31" cy="111.78" r="1.12" fill="#fe005d"/>
<circle cx="173.79" cy="112.88" r="1.12" fill="#fb0063"/>
<circle cx="175.84" cy="113.07" r="1.12" fill="#ff005b"/>
<circle cx="172.72" cy="111.77" r="1.12" fill="#ff0058"/>
<circle cx="174.95" cy="113.95" r="1.12" fill="#ff0054"/>
<circle cx="173.70" cy="112.32" r="1.12" fill="#fc0060"/>
<circle cx="172.99" cy="110.99" r="1.12" fill="#fc0062"/>
<circle cx="172.83" cy="112.49" r="1.12" fill="#ff0058"/>
<circle cx="179.40" cy="112.35" r="1.12" fill="#bb00a0"/>
<circle cx="182.23" cy="107.35" r="1.12" fill="#8443c6"/>
<circle cx="182.87" cy="107.35" r="1.12" fill="#8443c6"/>
<circle cx="182.09" cy="109.02" r="1.12" fill="#8443c6"/>
<circle cx="182.68" cy="109.02" r="1.12" fill="#8443c6"/>
<circle cx="182.23" cy="110.68" r="1.12" fill="#8443c6"/>
<circle cx="182.95" cy="110.68" r="1.12" fill="#8443c6"/>
<circle cx="182.17" cy="112.35" r="1.12" fill="#8443c6"/>
<circle cx="182.60" cy="112.35" r="1.12" fill="#8443c6"/>
<circle cx="182.01" cy="114.02" r="1.12" fill="#8443c6"/>
<circle cx="182.72" cy="114.02" r="1.12" fill="#8443c6"/>
<circle cx="182.25" cy="115.68" r="1.12" fill="#8443c6"/>
<circle cx="182.63" cy="115.68" r="1.12" fill="#8443c6"/>
<circle cx="182.09" cy="117.35" r="1.12" fill="#8443c6"/>
<circle cx="182.87" cy="117.35" r="1.12" fill="#8443c6"/>
<circle cx="189.89" cy="112.02" r="1.12" fill="#006fed"/>
<circle cx="186.63" cy="110.48" r="1.12" fill="#007cf5"/>
<circle cx="183.98" cy="111.71" r="1.12" fill="#3f67e6"/>
<circle cx="187.77" cy="110.85" r="1.12" fill="#0087fa"/>
<circle cx="188.07" cy="111.12" r="1.12" fill="#007df5"/>
<circle cx="184.89" cy="110.96" r="1.12" fill="#0089fa"/>
<circle cx="183.97" cy="112.09" r="1.12" fill="#5a5dde"/>
<circle cx="187.47" cy="111.46" r="1.12" fill="#286bea"/>
<circle cx="184.92" cy="112.40" r="1.12" fill="#007df5"/>
<circle cx="189.64" cy="112.02" r="1.12" fill="#4565e4"/>
<circle cx="187.49" cy="113.53" r="1.12" fill="#006fed"/>
<circle cx="189.09" cy="112.11" r="1.12" fill="#286bea"/>
<circle cx="187.34" cy="112.45" r="1.12" fill="#0071ee"/>
<circle cx="186.75" cy="111.94" r="1.12" fill="#555fe0"/>
<circle cx="187.43" cy="112.52" r="1.12" fill="#0088fa"/>
<circle cx="186.56" cy="111.06" r="1.12" fill="#0082f8"/>
<circle cx="193.74" cy="112.52" r="1.12" fill="#0087fa"/>
<circle cx="192.33" cy="112.44" r="1.12" fill="#0084f9"/>
<circle cx="193.47" cy="110.92" r="1.12" fill="#0085f9"/>
<circle cx="195.63" cy="112.50" r="1.12" fill="#0083f8"/>
<circle cx="197.26" cy="112.94" r="1.12" fill="#0081f7"/>
<circle cx="190.26" cy="111.94" r="1.12" fill="#0081f7"/>
<circle cx="191.34" cy="113.43" r="1.12" fill="#0089fa"/>
<circle cx="197.56" cy="111.65" r="1.12" fill="#007ff6"/>
<circle cx="197.29" cy="111.92" r="1.12" fill="#007ef6"/>
<circle cx="191.37" cy="113.27" r="1.12" fill="#0085f9"/>
<circle cx="193.78" cy="110.91" r="1.12" fill="#0082f8"/>
<circle cx="192.32" cy="112.86" r="1.12" fill="#007ff7"/>
<circle cx="195.19" cy="110.59" r="1.12" fill="#007df5"/>
<circle cx="197.91" cy="112.68" r="1.12" fill="#0085f9"/>
<circle cx="194.83" cy="113.79" r="1.12" fill="#0084f9"/>
<circle cx="196.70" cy="112.63" r="1.12" fill="#0085f9"/>
<circle cx="198.03" cy="112.14" r="1.12" fill="#0082f8"/>
<circle cx="190.46" cy="112.29" r="1.12" fill="#008afb"/>
<circle cx="196.06" cy="110.76" r="1.12" fill="#008afb"/>
<circle cx="201.30" cy="112.35" r="1.12" fill="#008bfb"/>
<circle cx="217.90" cy="112.35" r="1.12" fill="#008bfb"/>
<circle cx="167.50" cy="128.32" r="1.12" fill="#ff0051"/>
<circle cx="172.50" cy="128.32" r="1.12" fill="#ff0051"/>
<circle cx="175.77" cy="127.00" r="1.12" fill="#fe005c"/>
<circle cx="177.46" cy="127.14" r="1.12" fill="#ff0051"/>
<circle cx="181.27" cy="128.87" r="1.12" fill="#ff0056"/>
<circle cx="180.66" cy="127.28" r="1.12" fill="#ff0055"/>
<circle cx="176.65" cy="128.60" r="1.12" fill="#fd005f"/>
<circle cx="176.09" cy="129.41" r="1.12" fill="#ff0053"/>
<circle cx="177.16" cy="130.17" r="1.12" fill="#fd0060"/>
<circle cx="179.54" cy="130.83" r="1.12" fill="#ff0056"/>
<circle cx="175.38" cy="128.10" r="1.12" fill="#fd005f"/>
<circle cx="177.03" cy="129.83" r="1.12" fill="#fe005e"/>
<circle cx="179.82" cy="128.97" r="1.12" fill="#fe005c"/>
<circle cx="175.39" cy="128.90" r="1.12" fill="#ff0054"/>
<circle cx="176.19" cy="128.90" r="1.12" fill="#fe005d"/>
<circle cx="177.35" cy="129.38" r="1.12" fill="#ff0052"/>
<circle cx="175.15" cy="129.56" r="1.12" fill="#fd005f"/>
<circle cx="180.75" cy="127.02" r="1.12" fill="#ff0057"/>
<circle cx="175.69" cy="127.73" r="1.12" fill="#ff0052"/>
<circle cx="179.53" cy="129.76" r="1.12" fill="#fe005d"/>
<circle cx="178.25" cy="128.28" r="1.12" fill="#ff0056"/>
<circle cx="179.99" cy="126.89" r="1.12" fill="#fe005e"/>
<circle cx="178.74" cy="128.73" r="1.12" fill="#ff0053"/>
<circle cx="180.79" cy="126.93" r="1.12" fill="#fd005f"/>
<circle cx="175.75" cy="126.59" r="1.12" fill="#fa0066"/>
<circle cx="176.26" cy="129.41" r="1.12" fill="#ff0059"/>
<circle cx="180.51" cy="127.43" r="1.12" fill="#fa0064"/>
<circle cx="181.71" cy="129.35" r="1.12" fill="#ff0052"/>
<circle cx="175.13" cy="128.00" r="1.12" fill="#ff0059"/>
<circle cx="180.08" cy="130.21" r="1.12" fill="#ff005b"/>
<circle cx="177.70" cy="125.68" r="1.12" fill="#ff0055"/>
<circle cx="183.64" cy="123.32" r="1.12" fill="#ab15a7"/>
<circle cx="184.21" cy="123.32" r="1.12" fill="#ab15a7"/>
<circle cx="183.51" cy="124.99" r="1.12" fill="#ab15a7"/>
<circle cx="183.99" cy="124.99" r="1.12" fill="#ab15a7"/>
<circle cx="183.35" cy="126.65" r="1.12" fill="#ab15a7"/>
<circle cx="184.16" cy="126.65" r="1.12" fill="#ab15a7"/>
<circle cx="183.62" cy="128.32" r="1.12" fill="#ab15a7"/>
<circle cx="184.23" cy="128.32" r="1.12" fill="#ab15a7"/>
<circle cx="183.32" cy="129.99" r="1.12" fill="#ab15a7"/>
<circle cx="184.08" cy="129.99" r="1.12" fill="#ab15a7"/>
<circle cx="183.46" cy="131.65" r="1.12" fill="#ab15a7"/>
<circle cx="184.02" cy="131.65" r="1.12" fill="#ab15a7"/>
<circle cx="183.57" cy="133.32" r="1.12" fill="#ab15a7"/>
<circle cx="184.22" cy="133.32" r="1.12" fill="#ab15a7"/>
<circle cx="190.07" cy="128.94" r="1.12" fill="#0076f2"/>
<circle cx="189.57" cy="128.44" r="1.12" fill="#0084f9"/>
<circle cx="190.46" cy="127.22" r="1.12" fill="#0078f2"/>
<circle cx="187.71" cy="128.53" r="1.12" fill="#0078f3"/>
<circle cx="188.35" cy="130.19" r="1.12" fill="#0084f9"/>
<circle cx="185.09" cy="129.25" r="1.12" fill="#0082f8"/>
<circle cx="186.95" cy="128.06" r="1.12" fill="#0079f3"/>
<circle cx="191.90" cy="128.75" r="1.12" fill="#0082f8"/>
<circle cx="188.74" cy="128.12" r="1.12" fill="#007cf5"/>
<circle cx="187.92" cy="127.10" r="1.12" fill="#007ff7"/>
<circle cx="187.72" cy="127.26" r="1.12" fill="#0072ef"/>
<circle cx="187.52" cy="127.12" r="1.12" fill="#007af4"/>
<circle cx="190.91" cy="129.06" r="1.12" fill="#0079f3"/>
<circle cx="198.39" cy="127.82" r="1.12" fill="#0089fa"/>
<circle cx="195.53" cy="127.87" r="1.12" fill="#0087fa"/>
<circle cx="196.81" cy="126.96" r="1.12" fill="#0089fa"/>
<circle cx="195.52" cy="127.41" r="1.12" fill="#007ff7"/>
<circle cx="197.23" cy="127.16" r="1.12" fill="#0085f9"/>
<circle cx="199.23" cy="128.51" r="1.12" fill="#0083f8"/>
<circle cx="196.35" cy="127.24" r="1.12" fill="#0082f8"/>
<circle cx="194.46" cy="128.98" r="1.12" fill="#008afb"/>
<circle cx="198.48" cy="127.97" r="1.12" fill="#0081f7"/>
<circle cx="197.55" cy="126.97" r="1.12" fill="#0083f8"/>
<circle cx="194.45" cy="127.73" r="1.12" fill="#0085f9"/>
<circle cx="195.71" cy="128.83" r="1.12" fill="#007cf5"/>
<circle cx="196.14" cy="129.48" r="1.12" fill="#0087fa"/>
<circle cx="198.26" cy="127.84" r="1.12" fill="#0083f8"/>
<circle cx="194.53" cy="129.09" r="1.12" fill="#0088fa"/>
<circle cx="196.78" cy="127.51" r="1.12" fill="#007ff7"/>
<circle cx="204.00" cy="128.32" r="1.12" fill="#008bfb"/>
<circle cx="215.20" cy="128.32" r="1.12" fill="#008bfb"/>
<circle cx="166.25" cy="144.29" r="1.12" fill="#008bfb"/>
<circle cx="171.90" cy="144.29" r="1.12" fill="#008bfb"/>
<circle cx="177.72" cy="144.92" r="1.12" fill="#0080f7"/>
<circle cx="175.83" cy="142.29" r="1.12" fill="#007ff6"/>
<circle cx="176.17" cy="145.82" r="1.12" fill="#007df5"/>
<circle cx="177.92" cy="142.22" r="1.12" fill="#007ef6"/>
<circle cx="177.95" cy="142.97" r="1.12" fill="#0088fa"/>
<circle cx="177.24" cy="142.04" r="1.12" fill="#007ef6"/>
<circle cx="178.36" cy="145.81" r="1.12" fill="#0085f9"/>
<circle cx="179.57" cy="143.02" r="1.12" fill="#0081f7"/>
<circle cx="175.83" cy="142.04" r="1.12" fill="#0089fa"/>
<circle cx="175.53" cy="145.40" r="1.12" fill="#0085f9"/>
<circle cx="177.10" cy="144.96" r="1.12" fill="#0087fa"/>
<circle cx="177.98" cy="145.18" r="1.12" fill="#007df6"/>
<circle cx="177.22" cy="146.42" r="1.12" fill="#007df5"/>
<circle cx="178.71" cy="143.94" r="1.12" fill="#0087fa"/>
<circle cx="174.95" cy="145.48" r="1.12" fill="#0089fa"/>
<circle cx="177.53" cy="144.03" r="1.12" fill="#008afb"/>
<circle cx="175.60" cy="145.67" r="1.12" fill="#0083f8"/>
<circle cx="179.58" cy="145.70" r="1.12" fill="#0089fa"/>
<circle cx="178.20" cy="142.03" r="1.12" fill="#0085f9"/>
<circle cx="180.93" cy="140.29" r="1.12" fill="#8443c6"/>
<circle cx="181.73" cy="140.29" r="1.12" fill="#8443c6"/>
<circle cx="180.99" cy="141.62" r="1.12" fill="#8443c6"/>
<circle cx="181.43" cy="141.62" r="1.12" fill="#8443c6"/>
<circle cx="180.95" cy="142.96" r="1.12" fill="#8443c6"/>
<circle cx="181.56" cy="142.96" r="1.12" fill="#8443c6"/>
<circle cx="180.83" cy="144.29" r="1.12" fill="#8443c6"/>
<circle cx="181.49" cy="144.29" r="1.12" fill="#8443c6"/>
<circle cx="181.10" cy="145.62" r="1.12" fill="#8443c6"/>
<circle cx="181.74" cy="145.62" r="1.12" fill="#8443c6"/>
<circle cx="181.06" cy="146.96" r="1.12" fill="#8443c6"/>
<circle cx="181.38" cy="146.96" r="1.12" fill="#8443c6"/>
<circle cx="181.11" cy="148.29" r="1.12" fill="#8443c6"/>
<circle cx="181.53" cy="148.29" r="1.12" fill="#8443c6"/>
<circle cx="184.23" cy="139.29" r="1.12" fill="#d5008f"/>
<circle cx="184.57" cy="139.29" r="1.12" fill="#d5008f"/>
<circle cx="183.96" cy="140.96" r="1.12" fill="#d5008f"/>
<circle cx="184.86" cy="140.96" r="1.12" fill="#d5008f"/>
<circle cx="184.01" cy="142.62" r="1.12" fill="#d5008f"/>
<circle cx="184.52" cy="142.62" r="1.12" fill="#d5008f"/>
<circle cx="184.10" cy="144.29" r="1.12" fill="#d5008f"/>
<circle cx="184.90" cy="144.29" r="1.12" fill="#d5008f"/>
<circle cx="184.23" cy="145.96" r="1.12" fill="#d5008f"/>
<circle cx="184.66" cy="145.96" r="1.12" fill="#d5008f"/>
<circle cx="184.30" cy="147.62" r="1.12" fill="#d5008f"/>
<circle cx="184.82" cy="147.62" r="1.12" fill="#d5008f"/>
<circle cx="184.24" cy="149.29" r="1.12" fill="#d5008f"/>
<circle cx="184.76" cy="149.29" r="1.12" fill="#d5008f"/>
<circle cx="190.54" cy="145.74" r="1.12" fill="#fb0063"/>
<circle cx="196.75" cy="144.41" r="1.12" fill="#ff0054"/>
<circle cx="191.49" cy="144.00" r="1.12" fill="#fd005f"/>
<circle cx="189.65" cy="143.14" r="1.12" fill="#fd005f"/>
<circle cx="195.79" cy="143.71" r="1.12" fill="#ff0056"/>
<circle cx="195.05" cy="145.08" r="1.12" fill="#fa0064"/>
<circle cx="197.49" cy="144.87" r="1.12" fill="#fd005f"/>
<circle cx="187.31" cy="144.47" r="1.12" fill="#f20071"/>
<circle cx="196.38" cy="143.90" r="1.12" fill="#f90066"/>
<circle cx="192.34" cy="144.81" r="1.12" fill="#fd005f"/>
<circle cx="191.58" cy="144.82" r="1.12" fill="#ff0056"/>
<circle cx="191.13" cy="144.29" r="1.12" fill="#ff0057"/>
<circle cx="186.04" cy="143.61" r="1.12" fill="#f80067"/>
<circle cx="188.46" cy="145.42" r="1.12" fill="#f5006d"/>
<circle cx="187.24" cy="143.85" r="1.12" fill="#fc0061"/>
<circle cx="195.45" cy="145.64" r="1.12" fill="#ff0056"/>
<circle cx="193.00" cy="142.64" r="1.12" fill="#f30070"/>
<circle cx="193.25" cy="145.40" r="1.12" fill="#f70069"/>
<circle cx="197.15" cy="144.40" r="1.12" fill="#fd005f"/>
<circle cx="193.11" cy="142.79" r="1.12" fill="#f5006c"/>
<circle cx="196.77" cy="143.77" r="1.12" fill="#f3006f"/>
<circle cx="189.25" cy="145.00" r="1.12" fill="#f70069"/>
<circle cx="188.42" cy="143.66" r="1.12" fill="#fb0062"/>
<circle cx="194.48" cy="143.68" r="1.12" fill="#ff0055"/>
<circle cx="197.22" cy="144.97" r="1.12" fill="#f3006f"/>
<circle cx="189.63" cy="145.68" r="1.12" fill="#ff0056"/>
<circle cx="194.85" cy="141.79" r="1.12" fill="#e9007c"/>
<circle cx="195.58" cy="141.79" r="1.12" fill="#e9007c"/>
<circle cx="194.95" cy="144.29" r="1.12" fill="#e9007c"/>
<circle cx="195.70" cy="144.29" r="1.12" fill="#e9007c"/>
<circle cx="194.81" cy="146.79" r="1.12" fill="#e9007c"/>
<circle cx="195.53" cy="146.79" r="1.12" fill="#e9007c"/>
<circle cx="201.85" cy="144.87" r="1.12" fill="#ff0051"/>
<circle cx="200.91" cy="144.59" r="1.12" fill="#ff0051"/>
<circle cx="199.96" cy="145.16" r="1.12" fill="#ff0051"/>
<circle cx="198.17" cy="143.84" r="1.12" fill="#ff0051"/>
<circle cx="198.21" cy="144.00" r="1.12" fill="#ff0051"/>
<circle cx="197.82" cy="144.80" r="1.12" fill="#ff0051"/>
<circle cx="203.09" cy="144.53" r="1.12" fill="#ff0051"/>
<circle cx="202.91" cy="143.73" r="1.12" fill="#ff0051"/>
<circle cx="163.10" cy="160.26" r="1.12" fill="#008bfb"/>
<circle cx="167.50" cy="160.26" r="1.12" fill="#008bfb"/>
<circle cx="170.16" cy="159.73" r="1.12" fill="#0083f8"/>
<circle cx="170.05" cy="160.80" r="1.12" fill="#0089fa"/>
<circle cx="174.09" cy="158.99" r="1.12" fill="#0083f8"/>
<circle cx="171.05" cy="159.66" r="1.12" fill="#0084f9"/>
<circle cx="171.86" cy="159.88" r="1.12" fill="#0081f8"/>
<circle cx="170.98" cy="159.37" r="1.12" fill="#0081f7"/>
<circle cx="171.48" cy="161.64" r="1.12" fill="#0085f9"/>
<circle cx="172.37" cy="158.40" r="1.12" fill="#008afb"/>
<circle cx="170.52" cy="160.56" r="1.12" fill="#0081f8"/>
<circle cx="174.76" cy="160.11" r="1.12" fill="#0081f7"/>
<circle cx="171.72" cy="158.82" r="1.12" fill="#0085f9"/>
<circle cx="173.51" cy="161.23" r="1.12" fill="#007df5"/>
<circle cx="174.16" cy="160.43" r="1.12" fill="#0083f8"/>
<circle cx="179.88" cy="160.08" r="1.12" fill="#4d62e2"/>
<circle cx="180.46" cy="162.90" r="1.12" fill="#086fec"/>
<circle cx="179.65" cy="162.84" r="1.12" fill="#4c63e3"/>
<circle cx="180.06" cy="160.76" r="1.12" fill="#5f5bdc"/>
<circle cx="180.71" cy="158.54" r="1.12" fill="#0076f1"/>
<circle cx="180.69" cy="157.01" r="1.12" fill="#0d6eec"/>
<circle cx="182.91" cy="158.96" r="1.12" fill="#036fec"/>
<circle cx="181.42" cy="162.98" r="1.12" fill="#5061e2"/>
<circle cx="180.85" cy="159.45" r="1.12" fill="#006fed"/>
<circle cx="180.98" cy="159.27" r="1.12" fill="#5c5cdd"/>
<circle cx="176.06" cy="161.28" r="1.12" fill="#575fdf"/>
<circle cx="178.37" cy="157.13" r="1.12" fill="#0074f0"/>
<circle cx="180.57" cy="162.35" r="1.12" fill="#6757d8"/>
<circle cx="177.62" cy="157.89" r="1.12" fill="#007ef6"/>
<circle cx="183.67" cy="160.85" r="1.12" fill="#007ef6"/>
<circle cx="181.35" cy="163.23" r="1.12" fill="#4066e6"/>
<circle cx="177.80" cy="162.97" r="1.12" fill="#5061e1"/>
<circle cx="177.42" cy="161.71" r="1.12" fill="#256cea"/>
<circle cx="180.45" cy="159.27" r="1.12" fill="#0076f2"/>
<circle cx="179.26" cy="160.45" r="1.12" fill="#106eec"/>
<circle cx="182.71" cy="158.10" r="1.12" fill="#007bf4"/>
<circle cx="183.27" cy="160.75" r="1.12" fill="#4266e5"/>
<circle cx="180.88" cy="158.47" r="1.12" fill="#0071ee"/>
<circle cx="177.63" cy="158.28" r="1.12" fill="#744fd1"/>
<circle cx="181.76" cy="162.55" r="1.12" fill="#0084f9"/>
<circle cx="181.46" cy="159.03" r="1.12" fill="#236cea"/>
<circle cx="181.23" cy="157.17" r="1.12" fill="#0073ef"/>
<circle cx="180.29" cy="163.09" r="1.12" fill="#286bea"/>
<circle cx="178.46" cy="160.94" r="1.12" fill="#3b68e7"/>
<circle cx="185.75" cy="160.49" r="1.12" fill="#c70098"/>
<circle cx="184.07" cy="159.68" r="1.12" fill="#b507a2"/>
<circle cx="186.95" cy="160.27" r="1.12" fill="#f20071"/>
<circle cx="188.49" cy="161.39" r="1.12" fill="#f80068"/>
<circle cx="185.59" cy="159.68" r="1.12" fill="#c3009b"/>
<circle cx="184.61" cy="160.32" r="1.12" fill="#db008a"/>
<circle cx="184.78" cy="161.86" r="1.12" fill="#f80069"/>
<circle cx="184.41" cy="158.57" r="1.12" fill="#b20ca4"/>
<circle cx="188.39" cy="161.88" r="1.12" fill="#b30ba3"/>
<circle cx="184.05" cy="160.38" r="1.12" fill="#cc0095"/>
<circle cx="184.11" cy="158.73" r="1.12" fill="#c1009c"/>
<circle cx="185.20" cy="159.40" r="1.12" fill="#de0087"/>
<circle cx="185.51" cy="159.06" r="1.12" fill="#c1009c"/>
<circle cx="189.32" cy="159.30" r="1.12" fill="#de0087"/>
<circle cx="186.72" cy="159.30" r="1.12" fill="#d30090"/>
<circle cx="184.10" cy="159.28" r="1.12" fill="#e40081"/>
<circle cx="192.00" cy="160.26" r="1.12" fill="#ff0051"/>
<circle cx="194.00" cy="160.26" r="1.12" fill="#ff0051"/>
<circle cx="196.00" cy="160.26" r="1.12" fill="#ff0051"/>
<circle cx="207.90" cy="160.26" r="1.12" fill="#ff0051"/>
<circle cx="162.50" cy="176.23" r="1.12" fill="#008bfb"/>
<circle cx="168.10" cy="176.23" r="1.12" fill="#008bfb"/>
<circle cx="171.25" cy="176.23" r="1.12" fill="#008bfb"/>
<circle cx="180.02" cy="174.77" r="1.12" fill="#0086f9"/>
<circle cx="181.15" cy="174.56" r="1.12" fill="#0073ef"/>
<circle cx="180.94" cy="174.69" r="1.12" fill="#0072ee"/>
<circle cx="175.19" cy="174.15" r="1.12" fill="#0083f8"/>
<circle cx="176.72" cy="176.76" r="1.12" fill="#007ef6"/>
<circle cx="180.27" cy="177.04" r="1.12" fill="#0087fa"/>
<circle cx="175.60" cy="177.44" r="1.12" fill="#0087fa"/>
<circle cx="181.53" cy="177.42" r="1.12" fill="#0084f9"/>
<circle cx="176.26" cy="174.87" r="1.12" fill="#007ff6"/>
<circle cx="175.96" cy="173.78" r="1.12" fill="#0084f9"/>
<circle cx="175.54" cy="175.50" r="1.12" fill="#007ef6"/>
<circle cx="180.91" cy="176.93" r="1.12" fill="#0079f3"/>
<circle cx="180.83" cy="175.73" r="1.12" fill="#007ef6"/>
<circle cx="175.93" cy="177.95" r="1.12" fill="#0070ed"/>
<circle cx="181.20" cy="176.66" r="1.12" fill="#0087fa"/>
<circle cx="174.57" cy="177.42" r="1.12" fill="#0070ed"/>
<circle cx="178.20" cy="179.08" r="1.12" fill="#0a6eec"/>
<circle cx="179.96" cy="175.55" r="1.12" fill="#007ef6"/>
<circle cx="176.78" cy="175.61" r="1.12" fill="#007df6"/>
<circle cx="174.14" cy="174.88" r="1.12" fill="#0086f9"/>
<circle cx="178.48" cy="178.66" r="1.12" fill="#0076f1"/>
<circle cx="175.18" cy="176.04" r="1.12" fill="#0078f3"/>
<circle cx="175.07" cy="174.36" r="1.12" fill="#0079f3"/>
<circle cx="175.86" cy="176.98" r="1.12" fill="#0086f9"/>
<circle cx="180.76" cy="175.37" r="1.12" fill="#007ef6"/>
<circle cx="178.34" cy="178.80" r="1.12" fill="#046fec"/>
<circle cx="180.67" cy="177.08" r="1.12" fill="#0089fa"/>
<circle cx="175.48" cy="176.40" r="1.12" fill="#1f6deb"/>
<circle cx="179.74" cy="174.56" r="1.12" fill="#0081f7"/>
<circle cx="179.88" cy="172.23" r="1.12" fill="#007cf5"/>
<circle cx="180.30" cy="172.23" r="1.12" fill="#007cf5"/>
<circle cx="179.85" cy="173.56" r="1.12" fill="#007cf5"/>
<circle cx="180.44" cy="173.56" r="1.12" fill="#007cf5"/>
<circle cx="179.81" cy="174.90" r="1.12" fill="#007cf5"/>
<circle cx="180.35" cy="174.90" r="1.12" fill="#007cf5"/>
<circle cx="179.77" cy="176.23" r="1.12" fill="#007cf5"/>
<circle cx="180.24" cy="176.23" r="1.12" fill="#007cf5"/>
<circle cx="179.55" cy="177.56" r="1.12" fill="#007cf5"/>
<circle cx="180.48" cy="177.56" r="1.12" fill="#007cf5"/>
<circle cx="179.51" cy="178.90" r="1.12" fill="#007cf5"/>
<circle cx="180.21" cy="178.90" r="1.12" fill="#007cf5"/>
<circle cx="179.75" cy="180.23" r="1.12" fill="#007cf5"/>
<circle cx="180.49" cy="180.23" r="1.12" fill="#007cf5"/>
<circle cx="182.00" cy="176.23" r="1.12" fill="#ff0051"/>
<circle cx="184.08" cy="175.15" r="1.12" fill="#cd0094"/>
<circle cx="184.95" cy="175.75" r="1.12" fill="#b20ca4"/>
<circle cx="182.87" cy="177.69" r="1.12" fill="#c50099"/>
<circle cx="182.55" cy="175.00" r="1.12" fill="#a41caa"/>
<circle cx="185.27" cy="178.26" r="1.12" fill="#a41ca9"/>
<circle cx="184.21" cy="175.41" r="1.12" fill="#bb009f"/>
<circle cx="189.26" cy="176.37" r="1.12" fill="#d00092"/>
<circle cx="186.56" cy="175.84" r="1.12" fill="#ce0094"/>
<circle cx="186.86" cy="176.09" r="1.12" fill="#bb009f"/>
<circle cx="185.17" cy="175.89" r="1.12" fill="#a01fab"/>
<circle cx="184.04" cy="177.34" r="1.12" fill="#a41caa"/>
<circle cx="184.06" cy="174.80" r="1.12" fill="#b20ca4"/>
<circle cx="182.87" cy="175.77" r="1.12" fill="#c1009c"/>
<circle cx="187.58" cy="178.04" r="1.12" fill="#a11fab"/>
<circle cx="187.33" cy="174.67" r="1.12" fill="#b10ea4"/>
<circle cx="186.81" cy="178.11" r="1.12" fill="#c4009a"/>
<circle cx="189.89" cy="174.74" r="1.12" fill="#b010a5"/>
<circle cx="186.10" cy="173.50" r="1.12" fill="#9e21ac"/>
<circle cx="185.25" cy="176.54" r="1.12" fill="#a41caa"/>
<circle cx="183.01" cy="175.61" r="1.12" fill="#c80098"/>
<circle cx="186.75" cy="179.01" r="1.12" fill="#c0009c"/>
<circle cx="189.18" cy="176.50" r="1.12" fill="#b900a0"/>
<circle cx="185.62" cy="173.88" r="1.12" fill="#9f20ab"/>
<circle cx="187.44" cy="178.04" r="1.12" fill="#9c22ac"/>
<circle cx="183.85" cy="175.53" r="1.12" fill="#af10a5"/>
<circle cx="188.76" cy="175.24" r="1.12" fill="#af11a5"/>
<circle cx="194.88" cy="178.01" r="1.12" fill="#ae12a5"/>
<circle cx="196.34" cy="174.67" r="1.12" fill="#b704a2"/>
<circle cx="199.27" cy="175.58" r="1.12" fill="#b20ca4"/>
<circle cx="196.54" cy="176.45" r="1.12" fill="#bf009d"/>
<circle cx="196.09" cy="176.86" r="1.12" fill="#b010a5"/>
<circle cx="193.52" cy="175.88" r="1.12" fill="#bc009f"/>
<circle cx="195.67" cy="177.63" r="1.12" fill="#b408a3"/>
<circle cx="194.49" cy="177.49" r="1.12" fill="#d30090"/>
<circle cx="192.43" cy="176.91" r="1.12" fill="#ab15a7"/>
<circle cx="197.41" cy="174.83" r="1.12" fill="#bb009f"/>
<circle cx="195.70" cy="176.97" r="1.12" fill="#d10092"/>
<circle cx="197.95" cy="176.41" r="1.12" fill="#ba00a0"/>
<circle cx="190.13" cy="176.34" r="1.12" fill="#be009e"/>
<circle cx="197.42" cy="175.22" r="1.12" fill="#c0009d"/>
<circle cx="190.52" cy="176.73" r="1.12" fill="#cc0095"/>
<circle cx="194.38" cy="176.93" r="1.12" fill="#c4009b"/>
<circle cx="193.04" cy="174.91" r="1.12" fill="#c90097"/>
<circle cx="193.57" cy="175.07" r="1.12" fill="#b703a1"/>
<circle cx="198.33" cy="177.44" r="1.12" fill="#be009e"/>
<circle cx="199.70" cy="175.54" r="1.12" fill="#ba00a0"/>
<circle cx="190.08" cy="175.69" r="1.12" fill="#cf0093"/>
<circle cx="190.59" cy="176.58" r="1.12" fill="#bb009f"/>
<circle cx="193.90" cy="173.23" r="1.12" fill="#ab15a7"/>
<circle cx="194.50" cy="173.23" r="1.12" fill="#ab15a7"/>
<circle cx="193.55" cy="174.73" r="1.12" fill="#ab15a7"/>
<circle cx="194.20" cy="174.73" r="1.12" fill="#ab15a7"/>
<circle cx="193.90" cy="176.23" r="1.12" fill="#ab15a7"/>
<circle cx="194.23" cy="176.23" r="1.12" fill="#ab15a7"/>
<circle cx="193.57" cy="177.73" r="1.12" fill="#ab15a7"/>
<circle cx="194.46" cy="177.73" r="1.12" fill="#ab15a7"/>
<circle cx="193.75" cy="179.23" r="1.12" fill="#ab15a7"/>
<circle cx="194.22" cy="179.23" r="1.12" fill="#ab15a7"/>
<circle cx="200.60" cy="176.23" r="1.12" fill="#d5008f"/>
<circle cx="170.97" cy="190.20" r="1.12" fill="#ff0051"/>
<circle cx="171.52" cy="190.20" r="1.12" fill="#ff0051"/>
<circle cx="170.93" cy="192.20" r="1.12" fill="#ff0051"/>
<circle cx="171.57" cy="192.20" r="1.12" fill="#ff0051"/>
<circle cx="170.82" cy="194.20" r="1.12" fill="#ff0051"/>
<circle cx="171.60" cy="194.20" r="1.12" fill="#ff0051"/>
<circle cx="173.00" cy="192.20" r="1.12" fill="#008bfb"/>
<circle cx="175.00" cy="192.20" r="1.12" fill="#008bfb"/>
<circle cx="184.66" cy="192.60" r="1.12" fill="#7d49cb"/>
<circle cx="179.62" cy="190.04" r="1.12" fill="#007cf5"/>
<circle cx="184.86" cy="190.62" r="1.12" fill="#4066e6"/>
<circle cx="182.41" cy="193.79" r="1.12" fill="#6956d7"/>
<circle cx="180.80" cy="194.57" r="1.12" fill="#4d62e2"/>
<circle cx="183.76" cy="189.83" r="1.12" fill="#764ed0"/>
<circle cx="178.23" cy="191.66" r="1.12" fill="#4e62e2"/>
<circle cx="178.86" cy="191.92" r="1.12" fill="#8443c6"/>
<circle cx="177.77" cy="190.89" r="1.12" fill="#8f37bc"/>
<circle cx="180.87" cy="191.36" r="1.12" fill="#893ec1"/>
<circle cx="183.32" cy="190.31" r="1.12" fill="#6657d9"/>
<circle cx="178.85" cy="193.70" r="1.12" fill="#605adb"/>
<circle cx="183.49" cy="189.76" r="1.12" fill="#8b3cc0"/>
<circle cx="179.22" cy="194.24" r="1.12" fill="#4d62e2"/>
<circle cx="184.17" cy="190.25" r="1.12" fill="#0079f3"/>
<circle cx="181.01" cy="195.53" r="1.12" fill="#5261e1"/>
<circle cx="181.31" cy="189.53" r="1.12" fill="#5e5bdc"/>
<circle cx="180.70" cy="195.08" r="1.12" fill="#784dcf"/>
<circle cx="181.08" cy="189.45" r="1.12" fill="#0074f0"/>
<circle cx="184.78" cy="192.67" r="1.12" fill="#0070ed"/>
<circle cx="183.58" cy="190.64" r="1.12" fill="#5061e2"/>
<circle cx="184.08" cy="190.22" r="1.12" fill="#0077f2"/>
<circle cx="177.89" cy="190.66" r="1.12" fill="#3f67e6"/>
<circle cx="179.91" cy="190.75" r="1.12" fill="#007cf5"/>
<circle cx="181.15" cy="191.77" r="1.12" fill="#784dcf"/>
<circle cx="179.77" cy="192.72" r="1.12" fill="#2e6ae9"/>
<circle cx="181.80" cy="188.20" r="1.12" fill="#008bfb"/>
<circle cx="182.17" cy="188.20" r="1.12" fill="#008bfb"/>
<circle cx="181.70" cy="189.53" r="1.12" fill="#008bfb"/>
<circle cx="182.28" cy="189.53" r="1.12" fill="#008bfb"/>
<circle cx="181.68" cy="190.87" r="1.12" fill="#008bfb"/>
<circle cx="182.32" cy="190.87" r="1.12" fill="#008bfb"/>
<circle cx="181.71" cy="192.20" r="1.12" fill="#008bfb"/>
<circle cx="182.23" cy="192.20" r="1.12" fill="#008bfb"/>
<circle cx="181.83" cy="193.53" r="1.12" fill="#008bfb"/>
<circle cx="182.48" cy="193.53" r="1.12" fill="#008bfb"/>
<circle cx="181.72" cy="194.87" r="1.12" fill="#008bfb"/>
<circle cx="182.35" cy="194.87" r="1.12" fill="#008bfb"/>
<circle cx="181.79" cy="196.20" r="1.12" fill="#008bfb"/>
<circle cx="182.23" cy="196.20" r="1.12" fill="#008bfb"/>
<circle cx="183.75" cy="196.20" r="1.12" fill="#ff0051"/>
<circle cx="187.74" cy="190.20" r="1.12" fill="#d5008f"/>
<circle cx="188.29" cy="190.20" r="1.12" fill="#d5008f"/>
<circle cx="187.69" cy="192.20" r="1.12" fill="#d5008f"/>
<circle cx="188.26" cy="192.20" r="1.12" fill="#d5008f"/>
<circle cx="187.71" cy="194.20" r="1.12" fill="#d5008f"/>
<circle cx="188.19" cy="194.20" r="1.12" fill="#d5008f"/>
<circle cx="188.65" cy="191.31" r="1.12" fill="#d20091"/>
<circle cx="188.70" cy="193.04" r="1.12" fill="#dd0088"/>
<circle cx="194.36" cy="191.69" r="1.12" fill="#de0087"/>
<circle cx="189.79" cy="191.73" r="1.12" fill="#d20091"/>
<circle cx="193.27" cy="191.89" r="1.12" fill="#d9008c"/>
<circle cx="195.39" cy="191.65" r="1.12" fill="#c4009a"/>
<circle cx="190.37" cy="192.91" r="1.12" fill="#d5008f"/>
<circle cx="187.93" cy="191.90" r="1.12" fill="#dd0089"/>
<circle cx="196.56" cy="192.43" r="1.12" fill="#d8008c"/>
<circle cx="195.24" cy="191.47" r="1.12" fill="#bd009e"/>
<circle cx="192.72" cy="191.79" r="1.12" fill="#d6008e"/>
<circle cx="189.23" cy="191.99" r="1.12" fill="#d9008b"/>
<circle cx="187.03" cy="191.98" r="1.12" fill="#c1009c"/>
<circle cx="191.87" cy="193.10" r="1.12" fill="#df0086"/>
<circle cx="194.29" cy="191.14" r="1.12" fill="#cc0095"/>
<circle cx="191.96" cy="192.73" r="1.12" fill="#d6008e"/>
<circle cx="194.49" cy="188.20" r="1.12" fill="#ab15a7"/>
<circle cx="195.08" cy="188.20" r="1.12" fill="#ab15a7"/>
<circle cx="194.18" cy="189.53" r="1.12" fill="#ab15a7"/>
<circle cx="194.76" cy="189.53" r="1.12" fill="#ab15a7"/>
<circle cx="194.49" cy="190.87" r="1.12" fill="#ab15a7"/>
<circle cx="194.76" cy="190.87" r="1.12" fill="#ab15a7"/>
<circle cx="194.49" cy="192.20" r="1.12" fill="#ab15a7"/>
<circle cx="194.75" cy="192.20" r="1.12" fill="#ab15a7"/>
<circle cx="194.33" cy="193.53" r="1.12" fill="#ab15a7"/>
<circle cx="194.75" cy="193.53" r="1.12" fill="#ab15a7"/>
<circle cx="194.15" cy="194.87" r="1.12" fill="#ab15a7"/>
<circle cx="194.83" cy="194.87" r="1.12" fill="#ab15a7"/>
<circle cx="194.42" cy="196.20" r="1.12" fill="#ab15a7"/>
<circle cx="194.98" cy="196.20" r="1.12" fill="#ab15a7"/>
<circle cx="198.00" cy="192.20" r="1.12" fill="#ff0051"/>
<circle cx="141.90" cy="208.17" r="1.12" fill="#ff0051"/>
<circle cx="153.75" cy="208.17" r="1.12" fill="#ff0051"/>
<circle cx="170.90" cy="208.17" r="1.12" fill="#ff0051"/>
<circle cx="177.63" cy="207.58" r="1.12" fill="#f90066"/>
<circle cx="176.71" cy="207.81" r="1.12" fill="#fc0062"/>
<circle cx="178.73" cy="209.01" r="1.12" fill="#f4006f"/>
<circle cx="179.01" cy="208.30" r="1.12" fill="#f5006d"/>
<circle cx="177.91" cy="207.55" r="1.12" fill="#ff0055"/>
<circle cx="177.83" cy="207.43" r="1.12" fill="#fb0063"/>
<circle cx="178.99" cy="208.92" r="1.12" fill="#ff005b"/>
<circle cx="176.92" cy="208.75" r="1.12" fill="#f20072"/>
<circle cx="180.06" cy="207.43" r="1.12" fill="#ff0057"/>
<circle cx="176.81" cy="208.58" r="1.12" fill="#ff0057"/>
<circle cx="180.54" cy="207.60" r="1.12" fill="#fa0065"/>
<circle cx="183.05" cy="209.49" r="1.12" fill="#9b24ae"/>
<circle cx="187.23" cy="209.66" r="1.12" fill="#7a4bcd"/>
<circle cx="183.43" cy="207.34" r="1.12" fill="#4565e5"/>
<circle cx="189.51" cy="207.51" r="1.12" fill="#4964e3"/>
<circle cx="187.49" cy="205.37" r="1.12" fill="#0078f3"/>
<circle cx="184.38" cy="204.63" r="1.12" fill="#7b4bcd"/>
<circle cx="186.57" cy="209.29" r="1.12" fill="#6d54d5"/>
<circle cx="182.54" cy="209.92" r="1.12" fill="#8b3bbf"/>
<circle cx="182.08" cy="207.82" r="1.12" fill="#883fc2"/>
<circle cx="186.15" cy="211.46" r="1.12" fill="#7e48cb"/>
<circle cx="188.61" cy="211.58" r="1.12" fill="#8740c3"/>
<circle cx="187.85" cy="204.03" r="1.12" fill="#5b5dde"/>
<circle cx="188.89" cy="208.36" r="1.12" fill="#7052d4"/>
<circle cx="185.49" cy="211.07" r="1.12" fill="#216ceb"/>
<circle cx="188.40" cy="207.63" r="1.12" fill="#0073ef"/>
<circle cx="182.19" cy="206.25" r="1.12" fill="#3369e8"/>
<circle cx="186.72" cy="203.57" r="1.12" fill="#0078f3"/>
<circle cx="189.96" cy="211.55" r="1.12" fill="#565fdf"/>
<circle cx="186.70" cy="209.17" r="1.12" fill="#0076f2"/>
<circle cx="187.39" cy="209.84" r="1.12" fill="#962cb3"/>
<circle cx="188.43" cy="208.55" r="1.12" fill="#5260e1"/>
<circle cx="191.12" cy="208.31" r="1.12" fill="#5f5bdc"/>
<circle cx="189.34" cy="207.69" r="1.12" fill="#0078f3"/>
<circle cx="187.92" cy="211.49" r="1.12" fill="#4963e3"/>
<circle cx="182.96" cy="205.82" r="1.12" fill="#9331b7"/>
<circle cx="183.11" cy="209.11" r="1.12" fill="#0077f2"/>
<circle cx="187.12" cy="212.23" r="1.12" fill="#1b6deb"/>
<circle cx="185.07" cy="209.07" r="1.12" fill="#6e53d5"/>
<circle cx="187.60" cy="207.16" r="1.12" fill="#007af4"/>
<circle cx="185.74" cy="203.17" r="1.12" fill="#6359da"/>
<circle cx="186.21" cy="203.17" r="1.12" fill="#6359da"/>
<circle cx="185.75" cy="204.84" r="1.12" fill="#6359da"/>
<circle cx="186.28" cy="204.84" r="1.12" fill="#6359da"/>
<circle cx="185.61" cy="206.50" r="1.12" fill="#6359da"/>
<circle cx="186.50" cy="206.50" r="1.12" fill="#6359da"/>
<circle cx="185.63" cy="208.17" r="1.12" fill="#6359da"/>
<circle cx="186.49" cy="208.17" r="1.12" fill="#6359da"/>
<circle cx="185.69" cy="209.84" r="1.12" fill="#6359da"/>
<circle cx="186.31" cy="209.84" r="1.12" fill="#6359da"/>
<circle cx="185.61" cy="211.50" r="1.12" fill="#6359da"/>
<circle cx="186.17" cy="211.50" r="1.12" fill="#6359da"/>
<circle cx="185.78" cy="213.17" r="1.12" fill="#6359da"/>
<circle cx="186.28" cy="213.17" r="1.12" fill="#6359da"/>
<circle cx="191.76" cy="207.01" r="1.12" fill="#008bfb"/>
<circle cx="191.98" cy="209.04" r="1.12" fill="#008bfb"/>
<circle cx="191.24" cy="208.85" r="1.12" fill="#008bfb"/>
<circle cx="191.43" cy="208.68" r="1.12" fill="#008bfb"/>
<circle cx="190.19" cy="207.38" r="1.12" fill="#008bfb"/>
<circle cx="192.68" cy="208.96" r="1.12" fill="#008bfb"/>
<circle cx="199.75" cy="208.94" r="1.12" fill="#0087fa"/>
<circle cx="196.91" cy="206.91" r="1.12" fill="#0084f9"/>
<circle cx="200.59" cy="208.87" r="1.12" fill="#0088fa"/>
<circle cx="199.17" cy="209.43" r="1.12" fill="#0087fa"/>
<circle cx="195.96" cy="209.36" r="1.12" fill="#0087fa"/>
<circle cx="199.38" cy="208.53" r="1.12" fill="#008afb"/>
<circle cx="197.75" cy="206.29" r="1.12" fill="#0089fa"/>
<circle cx="200.40" cy="208.58" r="1.12" fill="#0087fa"/>
<circle cx="195.89" cy="208.62" r="1.12" fill="#0086fa"/>
<circle cx="198.68" cy="208.82" r="1.12" fill="#0084f9"/>
<circle cx="165.90" cy="224.14" r="1.12" fill="#008bfb"/>
<circle cx="174.00" cy="224.14" r="1.12" fill="#008bfb"/>
<circle cx="179.63" cy="224.77" r="1.12" fill="#007bf5"/>
<circle cx="180.49" cy="225.12" r="1.12" fill="#0085f9"/>
<circle cx="177.24" cy="222.86" r="1.12" fill="#0089fa"/>
<circle cx="180.29" cy="223.04" r="1.12" fill="#0073f0"/>
<circle cx="177.89" cy="222.75" r="1.12" fill="#0071ee"/>
<circle cx="177.45" cy="223.62" r="1.12" fill="#0076f2"/>
<circle cx="180.33" cy="222.83" r="1.12" fill="#0087fa"/>
<circle cx="180.42" cy="222.75" r="1.12" fill="#0071ee"/>
<circle cx="178.52" cy="226.13" r="1.12" fill="#008afb"/>
<circle cx="180.63" cy="222.98" r="1.12" fill="#007df5"/>
<circle cx="179.56" cy="225.88" r="1.12" fill="#0085f9"/>
<circle cx="181.58" cy="222.09" r="1.12" fill="#0078f3"/>
<circle cx="181.92" cy="223.85" r="1.12" fill="#0071ee"/>
<circle cx="179.06" cy="223.40" r="1.12" fill="#016fed"/>
<circle cx="182.94" cy="225.02" r="1.12" fill="#0084f9"/>
<circle cx="182.65" cy="223.69" r="1.12" fill="#0071ee"/>
<circle cx="178.86" cy="222.75" r="1.12" fill="#0083f8"/>
<circle cx="181.11" cy="226.47" r="1.12" fill="#007cf5"/>
<circle cx="177.55" cy="224.81" r="1.12" fill="#0070ed"/>
<circle cx="188.47" cy="221.99" r="1.12" fill="#a31daa"/>
<circle cx="188.44" cy="225.01" r="1.12" fill="#e9007c"/>
<circle cx="189.29" cy="225.22" r="1.12" fill="#cf0093"/>
<circle cx="185.66" cy="221.68" r="1.12" fill="#d6008e"/>
<circle cx="186.20" cy="226.24" r="1.12" fill="#9134b9"/>
<circle cx="189.00" cy="224.70" r="1.12" fill="#e10085"/>
<circle cx="187.91" cy="223.83" r="1.12" fill="#bc009f"/>
<circle cx="183.69" cy="223.22" r="1.12" fill="#c3009b"/>
<circle cx="184.24" cy="223.56" r="1.12" fill="#ca0096"/>
<circle cx="187.16" cy="226.28" r="1.12" fill="#b30ba3"/>
<circle cx="186.88" cy="223.70" r="1.12" fill="#d5008f"/>
<circle cx="187.38" cy="226.48" r="1.12" fill="#9233b8"/>
<circle cx="183.89" cy="223.36" r="1.12" fill="#c70098"/>
<circle cx="187.47" cy="222.60" r="1.12" fill="#9e21ac"/>
<circle cx="187.17" cy="222.86" r="1.12" fill="#dc0089"/>
<circle cx="183.75" cy="225.17" r="1.12" fill="#9331b7"/>
<circle cx="185.39" cy="221.14" r="1.12" fill="#ff0051"/>
<circle cx="186.01" cy="221.14" r="1.12" fill="#ff0051"/>
<circle cx="185.48" cy="222.64" r="1.12" fill="#ff0051"/>
<circle cx="186.06" cy="222.64" r="1.12" fill="#ff0051"/>
<circle cx="185.11" cy="224.14" r="1.12" fill="#ff0051"/>
<circle cx="185.96" cy="224.14" r="1.12" fill="#ff0051"/>
<circle cx="185.46" cy="225.64" r="1.12" fill="#ff0051"/>
<circle cx="186.01" cy="225.64" r="1.12" fill="#ff0051"/>
<circle cx="185.28" cy="227.14" r="1.12" fill="#ff0051"/>
<circle cx="186.00" cy="227.14" r="1.12" fill="#ff0051"/>
<circle cx="190.85" cy="225.09" r="1.12" fill="#9927af"/>
<circle cx="192.91" cy="223.14" r="1.12" fill="#9e21ac"/>
<circle cx="190.39" cy="224.81" r="1.12" fill="#ab16a7"/>
<circle cx="191.48" cy="225.49" r="1.12" fill="#962db4"/>
<circle cx="190.08" cy="224.78" r="1.12" fill="#9927af"/>
<circle cx="190.25" cy="224.54" r="1.12" fill="#a819a8"/>
<circle cx="195.53" cy="221.14" r="1.12" fill="#d5008f"/>
<circle cx="196.34" cy="221.14" r="1.12" fill="#d5008f"/>
<circle cx="195.64" cy="222.64" r="1.12" fill="#d5008f"/>
<circle cx="196.12" cy="222.64" r="1.12" fill="#d5008f"/>
<circle cx="195.53" cy="224.14" r="1.12" fill="#d5008f"/>
<circle cx="196.12" cy="224.14" r="1.12" fill="#d5008f"/>
<circle cx="195.62" cy="225.64" r="1.12" fill="#d5008f"/>
<circle cx="196.22" cy="225.64" r="1.12" fill="#d5008f"/>
<circle cx="195.71" cy="227.14" r="1.12" fill="#d5008f"/>
<circle cx="196.35" cy="227.14" r="1.12" fill="#d5008f"/>
<circle cx="158.75" cy="240.11" r="1.12" fill="#008bfb"/>
<circle cx="177.46" cy="240.57" r="1.12" fill="#008bfb"/>
<circle cx="176.66" cy="240.77" r="1.12" fill="#008bfb"/>
<circle cx="176.57" cy="240.99" r="1.12" fill="#008bfb"/>
<circle cx="176.93" cy="239.81" r="1.12" fill="#008bfb"/>
<circle cx="177.39" cy="239.87" r="1.12" fill="#008bfb"/>
<circle cx="174.42" cy="240.09" r="1.12" fill="#008bfb"/>
<circle cx="180.81" cy="236.11" r="1.12" fill="#008bfb"/>
<circle cx="181.16" cy="236.11" r="1.12" fill="#008bfb"/>
<circle cx="180.60" cy="237.44" r="1.12" fill="#008bfb"/>
<circle cx="181.16" cy="237.44" r="1.12" fill="#008bfb"/>
<circle cx="180.60" cy="238.78" r="1.12" fill="#008bfb"/>
<circle cx="181.18" cy="238.78" r="1.12" fill="#008bfb"/>
<circle cx="180.57" cy="240.11" r="1.12" fill="#008bfb"/>
<circle cx="181.32" cy="240.11" r="1.12" fill="#008bfb"/>
<circle cx="180.87" cy="241.44" r="1.12" fill="#008bfb"/>
<circle cx="181.44" cy="241.44" r="1.12" fill="#008bfb"/>
<circle cx="180.75" cy="242.78" r="1.12" fill="#008bfb"/>
<circle cx="181.23" cy="242.78" r="1.12" fill="#008bfb"/>
<circle cx="180.86" cy="244.11" r="1.12" fill="#008bfb"/>
<circle cx="181.18" cy="244.11" r="1.12" fill="#008bfb"/>
<circle cx="182.31" cy="239.19" r="1.12" fill="#f80068"/>
<circle cx="187.61" cy="239.20" r="1.12" fill="#bd009e"/>
<circle cx="187.10" cy="240.17" r="1.12" fill="#f80068"/>
<circle cx="185.57" cy="237.75" r="1.12" fill="#a71aa9"/>
<circle cx="183.85" cy="240.21" r="1.12" fill="#f30070"/>
<circle cx="186.45" cy="237.33" r="1.12" fill="#ff0056"/>
<circle cx="185.67" cy="240.34" r="1.12" fill="#b900a0"/>
<circle cx="183.95" cy="238.84" r="1.12" fill="#ea007b"/>
<circle cx="189.27" cy="239.27" r="1.12" fill="#cf0093"/>
<circle cx="184.30" cy="237.88" r="1.12" fill="#9d22ac"/>
<circle cx="188.25" cy="242.17" r="1.12" fill="#a21eaa"/>
<circle cx="182.62" cy="239.94" r="1.12" fill="#c90097"/>
<circle cx="183.97" cy="241.77" r="1.12" fill="#ba00a0"/>
<circle cx="183.56" cy="241.80" r="1.12" fill="#eb007a"/>
<circle cx="187.49" cy="240.93" r="1.12" fill="#9f20ab"/>
<circle cx="189.82" cy="238.63" r="1.12" fill="#be009d"/>
<circle cx="185.80" cy="242.09" r="1.12" fill="#ff0057"/>
<circle cx="182.07" cy="239.01" r="1.12" fill="#9e21ac"/>
<circle cx="183.10" cy="241.69" r="1.12" fill="#a918a8"/>
<circle cx="186.31" cy="238.35" r="1.12" fill="#9c22ac"/>
<circle cx="184.24" cy="238.98" r="1.12" fill="#e40082"/>
<circle cx="188.99" cy="240.22" r="1.12" fill="#e30083"/>
<circle cx="191.28" cy="238.61" r="1.12" fill="#f10073"/>
<circle cx="191.81" cy="242.26" r="1.12" fill="#e20083"/>
<circle cx="190.12" cy="238.70" r="1.12" fill="#e8007d"/>
<circle cx="191.01" cy="239.67" r="1.12" fill="#ff0059"/>
<circle cx="193.35" cy="240.54" r="1.12" fill="#fe005c"/>
<circle cx="194.04" cy="238.49" r="1.12" fill="#f90066"/>
<circle cx="190.60" cy="239.77" r="1.12" fill="#ec0079"/>
<circle cx="191.25" cy="238.00" r="1.12" fill="#e10084"/>
<circle cx="193.25" cy="242.29" r="1.12" fill="#ff0057"/>
<circle cx="190.11" cy="240.33" r="1.12" fill="#e10084"/>
<circle cx="192.40" cy="240.31" r="1.12" fill="#df0086"/>
<circle cx="190.40" cy="240.04" r="1.12" fill="#d8008c"/>
<circle cx="193.87" cy="241.65" r="1.12" fill="#d6008e"/>
<circle cx="164.50" cy="256.08" r="1.12" fill="#ff0051"/>
<circle cx="166.00" cy="256.08" r="1.12" fill="#ff0051"/>
<circle cx="181.71" cy="257.03" r="1.12" fill="#eb007a"/>
<circle cx="180.32" cy="255.99" r="1.12" fill="#ef0075"/>
<circle cx="181.82" cy="256.26" r="1.12" fill="#ff0059"/>
<circle cx="182.58" cy="257.14" r="1.12" fill="#fc0060"/>
<circle cx="182.17" cy="254.98" r="1.12" fill="#f4006e"/>
<circle cx="179.59" cy="256.13" r="1.12" fill="#f5006d"/>
<circle cx="181.81" cy="256.30" r="1.12" fill="#ff0058"/>
<circle cx="179.38" cy="257.75" r="1.12" fill="#f5006d"/>
<circle cx="182.96" cy="256.21" r="1.12" fill="#f5006c"/>
<circle cx="180.53" cy="254.70" r="1.12" fill="#fd005f"/>
<circle cx="180.40" cy="257.18" r="1.12" fill="#ec0079"/>
<circle cx="179.23" cy="256.40" r="1.12" fill="#eb0079"/>
<circle cx="181.46" cy="257.26" r="1.12" fill="#fc0062"/>
<circle cx="181.47" cy="257.39" r="1.12" fill="#f70069"/>
<circle cx="179.83" cy="257.61" r="1.12" fill="#fd005f"/>
<circle cx="178.30" cy="256.36" r="1.12" fill="#ff005b"/>
<circle cx="182.84" cy="251.08" r="1.12" fill="#f20072"/>
<circle cx="183.15" cy="251.08" r="1.12" fill="#f20072"/>
<circle cx="182.57" cy="252.75" r="1.12" fill="#f20072"/>
<circle cx="183.37" cy="252.75" r="1.12" fill="#f20072"/>
<circle cx="182.79" cy="254.41" r="1.12" fill="#f20072"/>
<circle cx="183.39" cy="254.41" r="1.12" fill="#f20072"/>
<circle cx="182.70" cy="256.08" r="1.12" fill="#f20072"/>
<circle cx="183.25" cy="256.08" r="1.12" fill="#f20072"/>
<circle cx="182.88" cy="257.75" r="1.12" fill="#f20072"/>
<circle cx="183.20" cy="257.75" r="1.12" fill="#f20072"/>
<circle cx="182.61" cy="259.41" r="1.12" fill="#f20072"/>
<circle cx="183.11" cy="259.41" r="1.12" fill="#f20072"/>
<circle cx="182.53" cy="261.08" r="1.12" fill="#f20072"/>
<circle cx="183.35" cy="261.08" r="1.12" fill="#f20072"/>
<circle cx="188.29" cy="254.20" r="1.12" fill="#8344c7"/>
<circle cx="182.87" cy="255.39" r="1.12" fill="#774ed0"/>
<circle cx="189.55" cy="255.81" r="1.12" fill="#8a3cc0"/>
<circle cx="186.19" cy="257.35" r="1.12" fill="#8d3abe"/>
<circle cx="187.19" cy="256.55" r="1.12" fill="#962db4"/>
<circle cx="181.37" cy="254.02" r="1.12" fill="#007af4"/>
<circle cx="184.42" cy="256.32" r="1.12" fill="#744fd1"/>
<circle cx="188.50" cy="252.92" r="1.12" fill="#9035ba"/>
<circle cx="183.61" cy="258.84" r="1.12" fill="#4465e5"/>
<circle cx="190.29" cy="257.19" r="1.12" fill="#007bf4"/>
<circle cx="186.63" cy="255.24" r="1.12" fill="#9b24ae"/>
<circle cx="183.55" cy="255.47" r="1.12" fill="#0071ee"/>
<circle cx="181.05" cy="256.24" r="1.12" fill="#744fd1"/>
<circle cx="182.79" cy="257.87" r="1.12" fill="#116eec"/>
<circle cx="191.31" cy="256.86" r="1.12" fill="#9928b0"/>
<circle cx="185.82" cy="258.62" r="1.12" fill="#7250d2"/>
<circle cx="188.86" cy="255.52" r="1.12" fill="#6558da"/>
<circle cx="183.99" cy="255.07" r="1.12" fill="#952eb5"/>
<circle cx="181.86" cy="257.62" r="1.12" fill="#8443c6"/>
<circle cx="182.78" cy="255.71" r="1.12" fill="#8d39be"/>
<circle cx="186.60" cy="256.14" r="1.12" fill="#6359da"/>
<circle cx="182.89" cy="258.72" r="1.12" fill="#8443c6"/>
<circle cx="184.14" cy="255.12" r="1.12" fill="#7f47ca"/>
<circle cx="190.57" cy="256.34" r="1.12" fill="#326ae8"/>
<circle cx="184.95" cy="256.39" r="1.12" fill="#9233b9"/>
<circle cx="188.74" cy="254.33" r="1.12" fill="#007bf4"/>
<circle cx="188.23" cy="254.48" r="1.12" fill="#9135ba"/>
<circle cx="182.76" cy="258.70" r="1.12" fill="#893dc1"/>
<circle cx="183.78" cy="253.17" r="1.12" fill="#8b3bbf"/>
<circle cx="182.22" cy="254.38" r="1.12" fill="#4d62e2"/>
<circle cx="182.90" cy="253.90" r="1.12" fill="#6a55d7"/>
<circle cx="188.20" cy="258.01" r="1.12" fill="#0079f3"/>
<circle cx="181.56" cy="255.96" r="1.12" fill="#8344c6"/>
<circle cx="183.29" cy="256.62" r="1.12" fill="#0075f1"/>
<circle cx="190.89" cy="257.88" r="1.12" fill="#962db3"/>
<circle cx="185.28" cy="253.11" r="1.12" fill="#8b3bbf"/>
<circle cx="185.86" cy="254.95" r="1.12" fill="#565fe0"/>
<circle cx="188.80" cy="257.52" r="1.12" fill="#575edf"/>
<circle cx="183.93" cy="253.94" r="1.12" fill="#0079f3"/>
<circle cx="191.58" cy="258.09" r="1.12" fill="#0078f3"/>
<circle cx="187.52" cy="259.51" r="1.12" fill="#6e53d5"/>
<circle cx="191.68" cy="254.58" r="1.12" fill="#8146c8"/>
<circle cx="190.84" cy="255.06" r="1.12" fill="#8443c6"/>
<circle cx="190.95" cy="255.49" r="1.12" fill="#8443c6"/>
<circle cx="190.91" cy="256.58" r="1.12" fill="#8443c6"/>
<circle cx="194.60" cy="256.08" r="1.12" fill="#008bfb"/>
<circle cx="203.30" cy="256.08" r="1.12" fill="#008bfb"/>
<circle cx="166.25" cy="272.05" r="1.12" fill="#ff0051"/>
<circle cx="172.10" cy="272.05" r="1.12" fill="#ff0051"/>
<circle cx="176.90" cy="270.55" r="1.12" fill="#ff0051"/>
<circle cx="176.90" cy="273.55" r="1.12" fill="#ff0051"/>
<circle cx="179.74" cy="273.73" r="1.12" fill="#ca0097"/>
<circle cx="180.50" cy="271.99" r="1.12" fill="#f6006b"/>
<circle cx="177.76" cy="270.69" r="1.12" fill="#df0086"/>
<circle cx="178.67" cy="273.66" r="1.12" fill="#e50080"/>
<circle cx="181.92" cy="271.65" r="1.12" fill="#fe005e"/>
<circle cx="184.44" cy="273.43" r="1.12" fill="#c4009b"/>
<circle cx="182.08" cy="273.53" r="1.12" fill="#ff0058"/>
<circle cx="181.67" cy="271.88" r="1.12" fill="#cd0094"/>
<circle cx="177.56" cy="270.60" r="1.12" fill="#d7008d"/>
<circle cx="182.90" cy="271.59" r="1.12" fill="#ec0079"/>
<circle cx="179.54" cy="274.24" r="1.12" fill="#ff0058"/>
<circle cx="179.48" cy="271.52" r="1.12" fill="#c60099"/>
<circle cx="180.46" cy="270.66" r="1.12" fill="#f70069"/>
<circle cx="179.85" cy="272.96" r="1.12" fill="#be009e"/>
<circle cx="182.80" cy="272.70" r="1.12" fill="#d8008c"/>
<circle cx="183.28" cy="273.64" r="1.12" fill="#ff005a"/>
<circle cx="182.71" cy="271.76" r="1.12" fill="#ef0075"/>
<circle cx="183.22" cy="271.23" r="1.12" fill="#ff005c"/>
<circle cx="183.40" cy="272.88" r="1.12" fill="#f90066"/>
<circle cx="177.88" cy="273.09" r="1.12" fill="#e50080"/>
<circle cx="182.65" cy="272.79" r="1.12" fill="#e40082"/>
<circle cx="183.02" cy="273.69" r="1.12" fill="#ff0052"/>
<circle cx="177.63" cy="273.34" r="1.12" fill="#fa0065"/>
<circle cx="181.97" cy="273.47" r="1.12" fill="#dd0088"/>
<circle cx="180.53" cy="269.56" r="1.12" fill="#ff0058"/>
<circle cx="183.55" cy="272.12" r="1.12" fill="#f10073"/>
<circle cx="183.68" cy="270.70" r="1.12" fill="#ee0076"/>
<circle cx="182.92" cy="272.44" r="1.12" fill="#ff0053"/>
<circle cx="179.42" cy="272.86" r="1.12" fill="#fa0065"/>
<circle cx="187.52" cy="274.80" r="1.12" fill="#007ff6"/>
<circle cx="185.32" cy="270.56" r="1.12" fill="#007ff7"/>
<circle cx="192.88" cy="273.54" r="1.12" fill="#006fed"/>
<circle cx="189.97" cy="272.07" r="1.12" fill="#0078f3"/>
<circle cx="189.45" cy="274.90" r="1.12" fill="#007ff7"/>
<circle cx="187.53" cy="273.48" r="1.12" fill="#0073ef"/>
<circle cx="190.65" cy="270.24" r="1.12" fill="#0078f3"/>
<circle cx="186.42" cy="270.83" r="1.12" fill="#0083f8"/>
<circle cx="184.08" cy="270.70" r="1.12" fill="#0077f2"/>
<circle cx="191.16" cy="270.11" r="1.12" fill="#126eec"/>
<circle cx="188.19" cy="273.96" r="1.12" fill="#0089fa"/>
<circle cx="184.72" cy="273.33" r="1.12" fill="#0088fa"/>
<circle cx="184.34" cy="272.64" r="1.12" fill="#0089fa"/>
<circle cx="187.73" cy="274.07" r="1.12" fill="#0087fa"/>
<circle cx="191.58" cy="273.94" r="1.12" fill="#1d6deb"/>
<circle cx="189.53" cy="274.04" r="1.12" fill="#0086f9"/>
<circle cx="189.17" cy="274.48" r="1.12" fill="#0071ee"/>
<circle cx="185.54" cy="273.60" r="1.12" fill="#007ff7"/>
<circle cx="188.61" cy="274.10" r="1.12" fill="#0077f2"/>
<circle cx="186.93" cy="274.11" r="1.12" fill="#0a6eec"/>
<circle cx="191.28" cy="269.87" r="1.12" fill="#008afb"/>
<circle cx="189.18" cy="269.46" r="1.12" fill="#0088fa"/>
<circle cx="191.84" cy="270.06" r="1.12" fill="#0083f8"/>
<circle cx="186.74" cy="274.49" r="1.12" fill="#126eec"/>
<circle cx="191.06" cy="271.84" r="1.12" fill="#0087fa"/>
<circle cx="192.67" cy="271.01" r="1.12" fill="#0078f3"/>
<circle cx="191.01" cy="272.10" r="1.12" fill="#0070ed"/>
<circle cx="192.45" cy="271.52" r="1.12" fill="#0076f1"/>
<circle cx="184.85" cy="271.76" r="1.12" fill="#0077f2"/>
<circle cx="186.47" cy="271.36" r="1.12" fill="#0074f0"/>
<circle cx="185.90" cy="274.15" r="1.12" fill="#0087fa"/>
<circle cx="186.01" cy="272.63" r="1.12" fill="#0084f9"/>
<circle cx="191.56" cy="271.40" r="1.12" fill="#0087fa"/>
<circle cx="190.02" cy="271.63" r="1.12" fill="#0078f3"/>
<circle cx="185.01" cy="270.14" r="1.12" fill="#0082f8"/>
<circle cx="197.30" cy="272.05" r="1.12" fill="#008bfb"/>
<circle cx="165.90" cy="288.02" r="1.12" fill="#ff0051"/>
<circle cx="170.60" cy="288.02" r="1.12" fill="#ff0051"/>
<circle cx="173.75" cy="288.02" r="1.12" fill="#ff0051"/>
<circle cx="182.09" cy="286.24" r="1.12" fill="#e20083"/>
<circle cx="184.02" cy="286.99" r="1.12" fill="#ea007b"/>
<circle cx="184.23" cy="289.90" r="1.12" fill="#fc0060"/>
<circle cx="179.84" cy="289.04" r="1.12" fill="#db008a"/>
<circle cx="183.80" cy="287.08" r="1.12" fill="#e30083"/>
<circle cx="181.56" cy="286.03" r="1.12" fill="#f90067"/>
<circle cx="183.94" cy="288.70" r="1.12" fill="#fd005f"/>
<circle cx="179.97" cy="287.12" r="1.12" fill="#fe005c"/>
<circle cx="180.96" cy="289.24" r="1.12" fill="#f5006d"/>
<circle cx="179.90" cy="286.93" r="1.12" fill="#ff0056"/>
<circle cx="184.41" cy="288.36" r="1.12" fill="#d6008e"/>
<circle cx="179.10" cy="289.38" r="1.12" fill="#fd005f"/>
<circle cx="183.19" cy="286.86" r="1.12" fill="#ff0057"/>
<circle cx="179.44" cy="288.67" r="1.12" fill="#f90066"/>
<circle cx="181.22" cy="289.65" r="1.12" fill="#e10084"/>
<circle cx="184.77" cy="289.42" r="1.12" fill="#ea007c"/>
<circle cx="180.98" cy="289.49" r="1.12" fill="#ea007b"/>
<circle cx="182.53" cy="289.07" r="1.12" fill="#ff0055"/>
<circle cx="183.52" cy="287.02" r="1.12" fill="#ea007b"/>
<circle cx="179.45" cy="289.07" r="1.12" fill="#ff005b"/>
<circle cx="180.34" cy="287.90" r="1.12" fill="#ea007b"/>
<circle cx="180.70" cy="285.81" r="1.12" fill="#f6006c"/>
<circle cx="184.70" cy="286.94" r="1.12" fill="#fc0061"/>
<circle cx="183.64" cy="288.17" r="1.12" fill="#ff005b"/>
<circle cx="181.54" cy="288.69" r="1.12" fill="#d9008b"/>
<circle cx="179.92" cy="288.36" r="1.12" fill="#fe005c"/>
<circle cx="184.09" cy="284.02" r="1.12" fill="#9b23ad"/>
<circle cx="184.87" cy="284.02" r="1.12" fill="#9b23ad"/>
<circle cx="184.10" cy="285.35" r="1.12" fill="#9b23ad"/>
<circle cx="184.66" cy="285.35" r="1.12" fill="#9b23ad"/>
<circle cx="184.21" cy="286.69" r="1.12" fill="#9b23ad"/>
<circle cx="184.87" cy="286.69" r="1.12" fill="#9b23ad"/>
<circle cx="184.26" cy="288.02" r="1.12" fill="#9b23ad"/>
<circle cx="184.76" cy="288.02" r="1.12" fill="#9b23ad"/>
<circle cx="183.99" cy="289.35" r="1.12" fill="#9b23ad"/>
<circle cx="184.62" cy="289.35" r="1.12" fill="#9b23ad"/>
<circle cx="184.12" cy="290.69" r="1.12" fill="#9b23ad"/>
<circle cx="184.51" cy="290.69" r="1.12" fill="#9b23ad"/>
<circle cx="184.02" cy="292.02" r="1.12" fill="#9b23ad"/>
<circle cx="184.82" cy="292.02" r="1.12" fill="#9b23ad"/>
<circle cx="186.26" cy="288.69" r="1.12" fill="#2b6be9"/>
<circle cx="185.67" cy="287.39" r="1.12" fill="#316ae9"/>
<circle cx="186.39" cy="287.14" r="1.12" fill="#8a3dc1"/>
<circle cx="187.87" cy="288.00" r="1.12" fill="#196deb"/>
<circle cx="186.45" cy="289.44" r="1.12" fill="#3469e8"/>
<circle cx="185.75" cy="287.58" r="1.12" fill="#7052d4"/>
<circle cx="189.70" cy="289.14" r="1.12" fill="#575fdf"/>
<circle cx="185.84" cy="289.57" r="1.12" fill="#007af4"/>
<circle cx="187.91" cy="290.61" r="1.12" fill="#2f6ae9"/>
<circle cx="187.61" cy="286.88" r="1.12" fill="#4864e4"/>
<circle cx="185.54" cy="288.45" r="1.12" fill="#7450d2"/>
<circle cx="185.65" cy="286.17" r="1.12" fill="#066fec"/>
<circle cx="186.77" cy="287.68" r="1.12" fill="#754fd1"/>
<circle cx="187.60" cy="285.27" r="1.12" fill="#007bf5"/>
<circle cx="187.22" cy="286.14" r="1.12" fill="#7f47ca"/>
<circle cx="188.73" cy="289.40" r="1.12" fill="#6956d7"/>
<circle cx="186.05" cy="289.26" r="1.12" fill="#256cea"/>
<circle cx="185.82" cy="286.18" r="1.12" fill="#4366e5"/>
<circle cx="189.77" cy="288.62" r="1.12" fill="#6f53d4"/>
<circle cx="186.90" cy="287.68" r="1.12" fill="#893ec1"/>
<circle cx="189.99" cy="287.52" r="1.12" fill="#6558d9"/>
<circle cx="187.43" cy="286.26" r="1.12" fill="#595ede"/>
<circle cx="190.76" cy="288.89" r="1.12" fill="#0085f9"/>
<circle cx="195.63" cy="289.21" r="1.12" fill="#0087fa"/>
<circle cx="198.15" cy="289.36" r="1.12" fill="#0084f9"/>
<circle cx="190.62" cy="288.42" r="1.12" fill="#0081f7"/>
<circle cx="191.88" cy="289.02" r="1.12" fill="#0087fa"/>
<circle cx="192.24" cy="286.44" r="1.12" fill="#0082f8"/>
<circle cx="196.50" cy="288.74" r="1.12" fill="#0086fa"/>
<circle cx="192.56" cy="286.24" r="1.12" fill="#0088fa"/>
<circle cx="192.19" cy="286.92" r="1.12" fill="#008afb"/>
<circle cx="193.43" cy="285.82" r="1.12" fill="#0084f9"/>
<circle cx="190.02" cy="287.72" r="1.12" fill="#0089fa"/>
<circle cx="191.39" cy="288.67" r="1.12" fill="#008afb"/>
<circle cx="196.71" cy="288.67" r="1.12" fill="#0082f8"/>
<circle cx="194.56" cy="289.10" r="1.12" fill="#0088fa"/>
<circle cx="193.49" cy="285.84" r="1.12" fill="#008bfb"/>
<circle cx="193.57" cy="288.56" r="1.12" fill="#007df5"/>
<circle cx="197.21" cy="286.54" r="1.12" fill="#007ef6"/>
<circle cx="193.40" cy="287.64" r="1.12" fill="#0088fa"/>
<circle cx="190.79" cy="287.88" r="1.12" fill="#0083f8"/>
<circle cx="197.33" cy="288.55" r="1.12" fill="#0088fa"/>
<circle cx="195.12" cy="289.47" r="1.12" fill="#0087fa"/>
<circle cx="192.52" cy="287.06" r="1.12" fill="#007df5"/>
<circle cx="166.90" cy="303.99" r="1.12" fill="#008bfb"/>
<circle cx="173.10" cy="303.99" r="1.12" fill="#008bfb"/>
<circle cx="177.90" cy="304.59" r="1.12" fill="#0080f7"/>
<circle cx="183.39" cy="303.99" r="1.12" fill="#0085f9"/>
<circle cx="184.67" cy="304.16" r="1.12" fill="#008afb"/>
<circle cx="178.58" cy="302.32" r="1.12" fill="#0082f8"/>
<circle cx="178.05" cy="304.66" r="1.12" fill="#0079f3"/>
<circle cx="180.18" cy="302.48" r="1.12" fill="#0078f3"/>
<circle cx="180.07" cy="305.63" r="1.12" fill="#0071ee"/>
<circle cx="183.34" cy="306.39" r="1.12" fill="#0082f8"/>
<circle cx="184.59" cy="303.56" r="1.12" fill="#0071ee"/>
<circle cx="182.37" cy="302.67" r="1.12" fill="#0083f8"/>
<circle cx="184.64" cy="303.91" r="1.12" fill="#0086fa"/>
<circle cx="182.01" cy="301.68" r="1.12" fill="#0089fa"/>
<circle cx="178.97" cy="305.45" r="1.12" fill="#0085f9"/>
<circle cx="184.70" cy="301.94" r="1.12" fill="#0081f7"/>
<circle cx="176.54" cy="304.65" r="1.12" fill="#0079f3"/>
<circle cx="183.95" cy="305.57" r="1.12" fill="#006fed"/>
<circle cx="180.52" cy="303.13" r="1.12" fill="#0079f3"/>
<circle cx="181.12" cy="301.88" r="1.12" fill="#007ef6"/>
<circle cx="180.22" cy="306.42" r="1.12" fill="#0088fa"/>
<circle cx="183.40" cy="305.10" r="1.12" fill="#026fed"/>
<circle cx="181.90" cy="305.33" r="1.12" fill="#0087fa"/>
<circle cx="184.80" cy="302.03" r="1.12" fill="#0079f3"/>
<circle cx="177.57" cy="302.83" r="1.12" fill="#0076f2"/>
<circle cx="180.14" cy="305.14" r="1.12" fill="#0084f9"/>
<circle cx="177.41" cy="303.35" r="1.12" fill="#007cf5"/>
<circle cx="184.19" cy="305.76" r="1.12" fill="#0080f7"/>
<circle cx="185.46" cy="304.24" r="1.12" fill="#0085f9"/>
<circle cx="181.28" cy="305.24" r="1.12" fill="#0074f0"/>
<circle cx="177.64" cy="306.04" r="1.12" fill="#007bf4"/>
<circle cx="182.00" cy="298.99" r="1.12" fill="#008bfb"/>
<circle cx="182.71" cy="298.99" r="1.12" fill="#008bfb"/>
<circle cx="182.33" cy="300.66" r="1.12" fill="#008bfb"/>
<circle cx="182.62" cy="300.66" r="1.12" fill="#008bfb"/>
<circle cx="182.12" cy="302.32" r="1.12" fill="#008bfb"/>
<circle cx="182.87" cy="302.32" r="1.12" fill="#008bfb"/>
<circle cx="182.05" cy="303.99" r="1.12" fill="#008bfb"/>
<circle cx="182.89" cy="303.99" r="1.12" fill="#008bfb"/>
<circle cx="182.24" cy="305.66" r="1.12" fill="#008bfb"/>
<circle cx="182.71" cy="305.66" r="1.12" fill="#008bfb"/>
<circle cx="182.32" cy="307.32" r="1.12" fill="#008bfb"/>
<circle cx="182.63" cy="307.32" r="1.12" fill="#008bfb"/>
<circle cx="182.08" cy="308.99" r="1.12" fill="#008bfb"/>
<circle cx="182.91" cy="308.99" r="1.12" fill="#008bfb"/>
<circle cx="188.41" cy="302.46" r="1.12" fill="#ca0096"/>
<circle cx="189.39" cy="302.71" r="1.12" fill="#a41daa"/>
<circle cx="187.99" cy="302.22" r="1.12" fill="#e40081"/>
<circle cx="186.98" cy="302.60" r="1.12" fill="#df0087"/>
<circle cx="189.84" cy="304.15" r="1.12" fill="#f7006a"/>
<circle cx="189.97" cy="304.76" r="1.12" fill="#db008a"/>
<circle cx="187.49" cy="301.79" r="1.12" fill="#d7008d"/>
<circle cx="186.72" cy="304.26" r="1.12" fill="#ce0094"/>
<circle cx="188.23" cy="304.42" r="1.12" fill="#da008b"/>
<circle cx="189.71" cy="304.18" r="1.12" fill="#ab16a7"/>
<circle cx="189.54" cy="304.88" r="1.12" fill="#c70098"/>
<circle cx="187.78" cy="304.34" r="1.12" fill="#ca0097"/>
<circle cx="188.68" cy="306.47" r="1.12" fill="#a21eaa"/>
<circle cx="189.67" cy="305.70" r="1.12" fill="#f10073"/>
<circle cx="187.85" cy="304.93" r="1.12" fill="#d10091"/>
<circle cx="187.49" cy="302.19" r="1.12" fill="#b507a2"/>
<circle cx="191.86" cy="302.71" r="1.12" fill="#b507a2"/>
<circle cx="192.65" cy="302.83" r="1.12" fill="#cf0093"/>
<circle cx="189.53" cy="303.03" r="1.12" fill="#be009d"/>
<circle cx="190.29" cy="305.43" r="1.12" fill="#c1009c"/>
<circle cx="189.37" cy="302.99" r="1.12" fill="#c90097"/>
<circle cx="190.85" cy="303.02" r="1.12" fill="#b507a2"/>
<circle cx="189.07" cy="304.78" r="1.12" fill="#ba00a0"/>
<circle cx="190.46" cy="302.23" r="1.12" fill="#c2009c"/>
<circle cx="193.43" cy="306.03" r="1.12" fill="#d20091"/>
<circle cx="189.10" cy="303.98" r="1.12" fill="#c1009c"/>
<circle cx="192.30" cy="303.57" r="1.12" fill="#d20091"/>
<circle cx="192.56" cy="303.64" r="1.12" fill="#d30090"/>
<circle cx="192.11" cy="301.09" r="1.12" fill="#c70099"/>
<circle cx="194.79" cy="304.48" r="1.12" fill="#b508a3"/>
<circle cx="194.03" cy="302.15" r="1.12" fill="#cf0093"/>
<circle cx="189.81" cy="305.29" r="1.12" fill="#b409a3"/>
<circle cx="189.88" cy="303.03" r="1.12" fill="#c2009c"/>
<circle cx="193.15" cy="304.05" r="1.12" fill="#af11a5"/>
<circle cx="194.68" cy="305.11" r="1.12" fill="#bc009f"/>
<circle cx="177.26" cy="319.67" r="1.12" fill="#ff0053"/>
<circle cx="183.68" cy="318.87" r="1.12" fill="#f00074"/>
<circle cx="183.84" cy="319.45" r="1.12" fill="#fd005f"/>
<circle cx="183.50" cy="321.08" r="1.12" fill="#ff005a"/>
<circle cx="181.29" cy="321.60" r="1.12" fill="#f10072"/>
<circle cx="183.33" cy="318.93" r="1.12" fill="#ee0077"/>
<circle cx="182.39" cy="322.11" r="1.12" fill="#fe005c"/>
<circle cx="181.36" cy="317.80" r="1.12" fill="#f90066"/>
<circle cx="178.25" cy="320.13" r="1.12" fill="#f6006b"/>
<circle cx="177.98" cy="320.13" r="1.12" fill="#ff005a"/>
<circle cx="182.00" cy="318.26" r="1.12" fill="#ff0054"/>
<circle cx="183.52" cy="319.48" r="1.12" fill="#ff0052"/>
<circle cx="178.33" cy="319.55" r="1.12" fill="#ff0058"/>
<circle cx="177.60" cy="319.59" r="1.12" fill="#ea007c"/>
<circle cx="178.48" cy="319.35" r="1.12" fill="#ff0059"/>
<circle cx="181.38" cy="317.83" r="1.12" fill="#ff005a"/>
<circle cx="182.31" cy="319.10" r="1.12" fill="#ef0075"/>
<circle cx="182.14" cy="321.97" r="1.12" fill="#f10073"/>
<circle cx="179.31" cy="319.13" r="1.12" fill="#ff0053"/>
<circle cx="177.36" cy="318.37" r="1.12" fill="#ef0075"/>
<circle cx="180.24" cy="322.65" r="1.12" fill="#eb007a"/>
<circle cx="182.58" cy="320.07" r="1.12" fill="#ff0056"/>
<circle cx="183.75" cy="320.66" r="1.12" fill="#f20072"/>
<circle cx="183.37" cy="318.23" r="1.12" fill="#ff0052"/>
<circle cx="179.89" cy="318.70" r="1.12" fill="#ff0056"/>
<circle cx="180.49" cy="319.28" r="1.12" fill="#f3006f"/>
<circle cx="179.93" cy="318.57" r="1.12" fill="#f90066"/>
<circle cx="180.05" cy="318.63" r="1.12" fill="#e9007c"/>
<circle cx="178.06" cy="321.06" r="1.12" fill="#fd005e"/>
<circle cx="183.62" cy="315.96" r="1.12" fill="#8443c6"/>
<circle cx="183.91" cy="315.96" r="1.12" fill="#8443c6"/>
<circle cx="183.62" cy="317.29" r="1.12" fill="#8443c6"/>
<circle cx="184.20" cy="317.29" r="1.12" fill="#8443c6"/>
<circle cx="183.39" cy="318.63" r="1.12" fill="#8443c6"/>
<circle cx="184.23" cy="318.63" r="1.12" fill="#8443c6"/>
<circle cx="183.64" cy="319.96" r="1.12" fill="#8443c6"/>
<circle cx="184.19" cy="319.96" r="1.12" fill="#8443c6"/>
<circle cx="183.47" cy="321.29" r="1.12" fill="#8443c6"/>
<circle cx="184.20" cy="321.29" r="1.12" fill="#8443c6"/>
<circle cx="183.31" cy="322.63" r="1.12" fill="#8443c6"/>
<circle cx="183.90" cy="322.63" r="1.12" fill="#8443c6"/>
<circle cx="183.31" cy="323.96" r="1.12" fill="#8443c6"/>
<circle cx="184.13" cy="323.96" r="1.12" fill="#8443c6"/>
<circle cx="189.76" cy="318.97" r="1.12" fill="#0087fa"/>
<circle cx="189.31" cy="321.35" r="1.12" fill="#0087fa"/>
<circle cx="184.20" cy="319.25" r="1.12" fill="#0083f8"/>
<circle cx="184.04" cy="318.88" r="1.12" fill="#0072ee"/>
<circle cx="184.38" cy="319.81" r="1.12" fill="#0076f1"/>
<circle cx="188.28" cy="319.06" r="1.12" fill="#0087fa"/>
<circle cx="186.56" cy="319.18" r="1.12" fill="#007ef6"/>
<circle cx="185.75" cy="319.84" r="1.12" fill="#1c6deb"/>
<circle cx="184.05" cy="319.14" r="1.12" fill="#0071ee"/>
<circle cx="187.00" cy="321.66" r="1.12" fill="#0088fa"/>
<circle cx="189.94" cy="318.44" r="1.12" fill="#0073f0"/>
<circle cx="185.47" cy="320.91" r="1.12" fill="#0073ef"/>
<circle cx="188.41" cy="322.05" r="1.12" fill="#0084f9"/>
<circle cx="189.11" cy="320.42" r="1.12" fill="#0086f9"/>
<circle cx="185.31" cy="318.20" r="1.12" fill="#006fed"/>
<circle cx="185.98" cy="319.20" r="1.12" fill="#0087fa"/>
<circle cx="188.82" cy="320.20" r="1.12" fill="#0085f9"/>
<circle cx="188.77" cy="320.11" r="1.12" fill="#0073ef"/>
<circle cx="188.24" cy="319.63" r="1.12" fill="#0081f7"/>
<circle cx="189.36" cy="318.80" r="1.12" fill="#0088fa"/>
<circle cx="189.15" cy="320.68" r="1.12" fill="#086fec"/>
<circle cx="187.66" cy="322.62" r="1.12" fill="#007ef6"/>
<circle cx="190.25" cy="320.24" r="1.12" fill="#008bfb"/>
<circle cx="191.57" cy="319.61" r="1.12" fill="#008bfb"/>
<circle cx="192.07" cy="320.25" r="1.12" fill="#008bfb"/>
<circle cx="193.57" cy="319.68" r="1.12" fill="#008bfb"/>
<circle cx="191.39" cy="318.99" r="1.12" fill="#008bfb"/>
<circle cx="190.90" cy="319.53" r="1.12" fill="#008bfb"/>
<circle cx="192.71" cy="319.20" r="1.12" fill="#008bfb"/>
<circle cx="192.46" cy="319.06" r="1.12" fill="#008bfb"/>
<circle cx="190.23" cy="320.23" r="1.12" fill="#008bfb"/>
<circle cx="192.36" cy="321.16" r="1.12" fill="#008bfb"/>
<circle cx="170.00" cy="335.93" r="1.12" fill="#ff0051"/>
<circle cx="181.69" cy="336.32" r="1.12" fill="#d4008f"/>
<circle cx="181.01" cy="333.34" r="1.12" fill="#e9007c"/>
<circle cx="184.76" cy="335.94" r="1.12" fill="#f80068"/>
<circle cx="184.27" cy="336.17" r="1.12" fill="#c90097"/>
<circle cx="184.93" cy="335.96" r="1.12" fill="#e40082"/>
<circle cx="177.97" cy="336.68" r="1.12" fill="#fd005f"/>
<circle cx="181.49" cy="334.10" r="1.12" fill="#f6006b"/>
<circle cx="178.92" cy="335.30" r="1.12" fill="#d40090"/>
<circle cx="181.45" cy="336.80" r="1.12" fill="#ed0077"/>
<circle cx="178.74" cy="334.87" r="1.12" fill="#d20091"/>
<circle cx="181.33" cy="338.68" r="1.12" fill="#f3006f"/>
<circle cx="183.95" cy="334.36" r="1.12" fill="#bd009e"/>
<circle cx="181.58" cy="334.38" r="1.12" fill="#dc0089"/>
<circle cx="182.98" cy="334.06" r="1.12" fill="#fe005c"/>
<circle cx="180.59" cy="336.44" r="1.12" fill="#bf009d"/>
<circle cx="177.97" cy="336.51" r="1.12" fill="#bf009d"/>
<circle cx="182.28" cy="334.95" r="1.12" fill="#d9008b"/>
<circle cx="184.67" cy="337.12" r="1.12" fill="#da008b"/>
<circle cx="180.39" cy="334.84" r="1.12" fill="#c80098"/>
<circle cx="184.65" cy="336.42" r="1.12" fill="#f7006a"/>
<circle cx="180.68" cy="334.31" r="1.12" fill="#f20071"/>
<circle cx="179.34" cy="337.78" r="1.12" fill="#ff0056"/>
<circle cx="184.76" cy="335.02" r="1.12" fill="#d9008c"/>
<circle cx="183.97" cy="335.80" r="1.12" fill="#ed0077"/>
<circle cx="182.85" cy="334.56" r="1.12" fill="#e7007f"/>
<circle cx="178.13" cy="334.29" r="1.12" fill="#ff0054"/>
<circle cx="184.79" cy="330.93" r="1.12" fill="#008bfb"/>
<circle cx="185.35" cy="330.93" r="1.12" fill="#008bfb"/>
<circle cx="184.58" cy="332.60" r="1.12" fill="#008bfb"/>
<circle cx="185.22" cy="332.60" r="1.12" fill="#008bfb"/>
<circle cx="184.87" cy="334.26" r="1.12" fill="#008bfb"/>
<circle cx="185.50" cy="334.26" r="1.12" fill="#008bfb"/>
<circle cx="184.76" cy="335.93" r="1.12" fill="#008bfb"/>
<circle cx="185.47" cy="335.93" r="1.12" fill="#008bfb"/>
<circle cx="184.66" cy="337.60" r="1.12" fill="#008bfb"/>
<circle cx="185.44" cy="337.60" r="1.12" fill="#008bfb"/>
<circle cx="184.79" cy="339.26" r="1.12" fill="#008bfb"/>
<circle cx="185.19" cy="339.26" r="1.12" fill="#008bfb"/>
<circle cx="184.87" cy="340.93" r="1.12" fill="#008bfb"/>
<circle cx="185.11" cy="340.93" r="1.12" fill="#008bfb"/>
<circle cx="187.23" cy="335.90" r="1.12" fill="#0e6eec"/>
<circle cx="187.92" cy="333.93" r="1.12" fill="#0075f1"/>
<circle cx="190.56" cy="334.04" r="1.12" fill="#0076f2"/>
<circle cx="188.22" cy="335.51" r="1.12" fill="#0f6eec"/>
<circle cx="191.91" cy="337.84" r="1.12" fill="#0076f1"/>
<circle cx="188.21" cy="335.26" r="1.12" fill="#0087fa"/>
<circle cx="185.56" cy="335.97" r="1.12" fill="#0086f9"/>
<circle cx="189.83" cy="334.34" r="1.12" fill="#007cf5"/>
<circle cx="192.45" cy="335.80" r="1.12" fill="#076fec"/>
<circle cx="187.50" cy="334.17" r="1.12" fill="#0076f1"/>
<circle cx="188.60" cy="336.87" r="1.12" fill="#007af4"/>
<circle cx="188.62" cy="335.16" r="1.12" fill="#0085f9"/>
<circle cx="193.23" cy="335.02" r="1.12" fill="#007df6"/>
<circle cx="192.41" cy="337.08" r="1.12" fill="#1f6deb"/>
<circle cx="190.17" cy="334.80" r="1.12" fill="#0071ee"/>
<circle cx="185.55" cy="337.43" r="1.12" fill="#007ef6"/>
<circle cx="190.66" cy="337.86" r="1.12" fill="#007cf5"/>
<circle cx="191.81" cy="337.31" r="1.12" fill="#007cf5"/>
<circle cx="192.56" cy="335.04" r="1.12" fill="#0086fa"/>
<circle cx="190.88" cy="337.47" r="1.12" fill="#007ff6"/>
<circle cx="185.25" cy="335.71" r="1.12" fill="#0084f9"/>
<circle cx="185.60" cy="334.78" r="1.12" fill="#0079f3"/>
<circle cx="188.15" cy="337.50" r="1.12" fill="#0084f9"/>
<circle cx="190.01" cy="334.68" r="1.12" fill="#0083f8"/>
<circle cx="186.24" cy="336.87" r="1.12" fill="#0083f8"/>
<circle cx="190.57" cy="336.87" r="1.12" fill="#007bf4"/>
<circle cx="190.50" cy="336.84" r="1.12" fill="#0088fa"/>
<circle cx="191.41" cy="336.01" r="1.12" fill="#0072ef"/>
<circle cx="185.92" cy="334.31" r="1.12" fill="#0078f2"/>
<circle cx="187.55" cy="338.28" r="1.12" fill="#0082f8"/>
<circle cx="188.74" cy="335.04" r="1.12" fill="#007af4"/>
<circle cx="186.76" cy="337.90" r="1.12" fill="#0083f8"/>
<line x1="443.75" y1="28.40" x2="604.00" y2="28.40" stroke="#d8d8d8" stroke-width="0.5" stroke-dasharray="0.5 2.6"/>
<line x1="443.75" y1="44.70" x2="604.00" y2="44.70" stroke="#d8d8d8" stroke-width="0.5" stroke-dasharray="0.5 2.6"/>
<line x1="443.75" y1="61.00" x2="604.00" y2="61.00" stroke="#d8d8d8" stroke-width="0.5" stroke-dasharray="0.5 2.6"/>
<line x1="443.75" y1="77.30" x2="604.00" y2="77.30" stroke="#d8d8d8" stroke-width="0.5" stroke-dasharray="0.5 2.6"/>
<line x1="443.75" y1="93.60" x2="604.00" y2="93.60" stroke="#d8d8d8" stroke-width="0.5" stroke-dasharray="0.5 2.6"/>
<line x1="443.75" y1="109.90" x2="604.00" y2="109.90" stroke="#d8d8d8" stroke-width="0.5" stroke-dasharray="0.5 2.6"/>
<line x1="443.75" y1="126.20" x2="604.00" y2="126.20" stroke="#d8d8d8" stroke-width="0.5" stroke-dasharray="0.5 2.6"/>
<line x1="443.75" y1="142.50" x2="604.00" y2="142.50" stroke="#d8d8d8" stroke-width="0.5" stroke-dasharray="0.5 2.6"/>
<line x1="443.75" y1="158.80" x2="604.00" y2="158.80" stroke="#d8d8d8" stroke-width="0.5" stroke-dasharray="0.5 2.6"/>
<line x1="443.75" y1="175.10" x2="604.00" y2="175.10" stroke="#d8d8d8" stroke-width="0.5" stroke-dasharray="0.5 2.6"/>
<line x1="443.75" y1="191.40" x2="604.00" y2="191.40" stroke="#d8d8d8" stroke-width="0.5" stroke-dasharray="0.5 2.6"/>
<line x1="443.75" y1="207.70" x2="604.00" y2="207.70" stroke="#d8d8d8" stroke-width="0.5" stroke-dasharray="0.5 2.6"/>
<line x1="443.75" y1="224.00" x2="604.00" y2="224.00" stroke="#d8d8d8" stroke-width="0.5" stroke-dasharray="0.5 2.6"/>
<line x1="443.75" y1="240.30" x2="604.00" y2="240.30" stroke="#d8d8d8" stroke-width="0.5" stroke-dasharray="0.5 2.6"/>
<line x1="443.75" y1="256.60" x2="604.00" y2="256.60" stroke="#d8d8d8" stroke-width="0.5" stroke-dasharray="0.5 2.6"/>
<line x1="443.75" y1="272.90" x2="604.00" y2="272.90" stroke="#d8d8d8" stroke-width="0.5" stroke-dasharray="0.5 2.6"/>
<line x1="443.75" y1="289.20" x2="604.00" y2="289.20" stroke="#d8d8d8" stroke-width="0.5" stroke-dasharray="0.5 2.6"/>
<line x1="443.75" y1="305.50" x2="604.00" y2="305.50" stroke="#d8d8d8" stroke-width="0.5" stroke-dasharray="0.5 2.6"/>
<line x1="443.75" y1="321.80" x2="604.00" y2="321.80" stroke="#d8d8d8" stroke-width="0.5" stroke-dasharray="0.5 2.6"/>
<line x1="443.75" y1="338.10" x2="604.00" y2="338.10" stroke="#d8d8d8" stroke-width="0.5" stroke-dasharray="0.5 2.6"/>
<line x1="506.40" y1="12.00" x2="506.40" y2="354.10" stroke="#999999" stroke-width="1"/>
<text x="431.40" y="30.96" text-anchor="end" font-size="7.55" textLength="64.64" lengthAdjust="spacingAndGlyphs" fill="#222222">Sleep Disorder_T3</text>
<text x="431.40" y="47.26" text-anchor="end" font-size="7.55" textLength="52.91" lengthAdjust="spacingAndGlyphs" fill="#222222">Occupation_T1</text>
<text x="431.40" y="63.56" text-anchor="end" font-size="7.55" textLength="52.91" lengthAdjust="spacingAndGlyphs" fill="#222222">Occupation_T3</text>
<text x="431.40" y="79.86" text-anchor="end" font-size="7.55" textLength="55.38" lengthAdjust="spacingAndGlyphs" fill="#222222">Stress Level_T3</text>
<text x="431.40" y="96.16" text-anchor="end" font-size="7.55" textLength="52.64" lengthAdjust="spacingAndGlyphs" fill="#222222">Daily Steps_T3</text>
<text x="431.40" y="112.46" text-anchor="end" font-size="7.55" textLength="55.38" lengthAdjust="spacingAndGlyphs" fill="#222222">Stress Level_T2</text>
<text x="431.40" y="128.76" text-anchor="end" font-size="7.55" textLength="64.64" lengthAdjust="spacingAndGlyphs" fill="#222222">Sleep Disorder_T2</text>
<text x="431.40" y="145.06" text-anchor="end" font-size="7.55" textLength="65.20" lengthAdjust="spacingAndGlyphs" fill="#222222">Blood Pressure_T3</text>
<text x="431.40" y="161.36" text-anchor="end" font-size="7.55" textLength="60.35" lengthAdjust="spacingAndGlyphs" fill="#222222">BMI Category_T3</text>
<text x="431.40" y="177.66" text-anchor="end" font-size="7.55" textLength="26.21" lengthAdjust="spacingAndGlyphs" fill="#222222">Age_T3</text>
<text x="431.40" y="193.96" text-anchor="end" font-size="7.55" textLength="91.35" lengthAdjust="spacingAndGlyphs" fill="#222222">Physical Activity Level_T3</text>
<text x="431.40" y="210.26" text-anchor="end" font-size="7.55" textLength="52.91" lengthAdjust="spacingAndGlyphs" fill="#222222">Occupation_T2</text>
<text x="431.40" y="226.56" text-anchor="end" font-size="7.55" textLength="64.64" lengthAdjust="spacingAndGlyphs" fill="#222222">Sleep Disorder_T1</text>
<text x="431.40" y="242.86" text-anchor="end" font-size="7.55" textLength="52.64" lengthAdjust="spacingAndGlyphs" fill="#222222">Daily Steps_T1</text>
<text x="431.40" y="259.16" text-anchor="end" font-size="7.55" textLength="55.38" lengthAdjust="spacingAndGlyphs" fill="#222222">Stress Level_T1</text>
<text x="431.40" y="275.46" text-anchor="end" font-size="7.55" textLength="69.05" lengthAdjust="spacingAndGlyphs" fill="#222222">Quality of Sleep_T1</text>
<text x="431.40" y="291.76" text-anchor="end" font-size="7.55" textLength="50.85" lengthAdjust="spacingAndGlyphs" fill="#222222">Heart Rate_T1</text>
<text x="431.40" y="308.06" text-anchor="end" font-size="7.55" textLength="50.85" lengthAdjust="spacingAndGlyphs" fill="#222222">Heart Rate_T3</text>
<text x="431.40" y="324.36" text-anchor="end" font-size="7.55" textLength="69.05" lengthAdjust="spacingAndGlyphs" fill="#222222">Quality of Sleep_T3</text>
<text x="431.40" y="340.66" text-anchor="end" font-size="7.55" textLength="50.85" lengthAdjust="spacingAndGlyphs" fill="#222222">Heart Rate_T2</text>
<line x1="443.75" y1="354.10" x2="604.00" y2="354.10" stroke="#333333" stroke-width="0.6"/>
<line x1="446.32" y1="354.10" x2="446.32" y2="356.10" stroke="#333333" stroke-width="0.5"/>
<text x="446.32" y="361.70" text-anchor="middle" font-size="6.02" textLength="14.63" lengthAdjust="spacingAndGlyphs" fill="#222222">−0.2</text>
<line x1="476.36" y1="354.10" x2="476.36" y2="356.10" stroke="#333333" stroke-width="0.5"/>
<text x="476.36" y="361.70" text-anchor="middle" font-size="6.02" textLength="14.63" lengthAdjust="spacingAndGlyphs" fill="#222222">−0.1</text>
<line x1="506.40" y1="354.10" x2="506.40" y2="356.10" stroke="#333333" stroke-width="0.5"/>
<text x="506.40" y="361.70" text-anchor="middle" font-size="6.02" textLength="9.58" lengthAdjust="spacingAndGlyphs" fill="#222222">0.0</text>
<line x1="536.44" y1="354.10" x2="536.44" y2="356.10" stroke="#333333" stroke-width="0.5"/>
<text x="536.44" y="361.70" text-anchor="middle" font-size="6.02" textLength="9.58" lengthAdjust="spacingAndGlyphs" fill="#222222">0.1</text>
<line x1="566.48" y1="354.10" x2="566.48" y2="356.10" stroke="#333333" stroke-width="0.5"/>
<text x="566.48" y="361.70" text-anchor="middle" font-size="6.02" textLength="9.58" lengthAdjust="spacingAndGlyphs" fill="#222222">0.2</text>
<line x1="596.52" y1="354.10" x2="596.52" y2="356.10" stroke="#333333" stroke-width="0.5"/>
<text x="596.52" y="361.70" text-anchor="middle" font-size="6.02" textLength="9.58" lengthAdjust="spacingAndGlyphs" fill="#222222">0.3</text>
<text x="523.88" y="371.60" text-anchor="middle" font-size="7.12" textLength="134.38" lengthAdjust="spacingAndGlyphs" fill="#222222">SHAP value (impact on model output)</text>
<rect x="613.90" y="11.70" width="4.20" height="342.10" fill="url(#cg)"/>
<text x="620.10" y="14.37" font-size="6.02" textLength="13.85" lengthAdjust="spacingAndGlyphs" fill="#222222">High</text>
<text x="620.10" y="356.27" font-size="6.02" textLength="11.86" lengthAdjust="spacingAndGlyphs" fill="#222222">Low</text>
<text transform="translate(638.57,184.00) rotate(-90)" text-anchor="middle" font-size="6.57" textLength="44.88" lengthAdjust="spacingAndGlyphs" fill="#222222">Feature value</text>
<circle cx="454.40" cy="28.40" r="1.16" fill="#008bfb"/>
<circle cx="462.10" cy="28.40" r="1.16" fill="#008bfb"/>
<circle cx="470.00" cy="28.40" r="1.16" fill="#008bfb"/>
<circle cx="474.40" cy="28.40" r="1.16" fill="#008bfb"/>
<circle cx="484.18" cy="29.86" r="1.16" fill="#774dcf"/>
<circle cx="479.82" cy="29.58" r="1.16" fill="#8a3cc0"/>
<circle cx="482.75" cy="27.44" r="1.16" fill="#8740c3"/>
<circle cx="482.43" cy="28.84" r="1.16" fill="#7a4bcd"/>
<circle cx="481.55" cy="27.81" r="1.16" fill="#8a3dc0"/>
<circle cx="484.37" cy="29.76" r="1.16" fill="#8542c5"/>
<circle cx="481.62" cy="27.09" r="1.16" fill="#764ed0"/>
<circle cx="479.54" cy="28.29" r="1.16" fill="#7f47ca"/>
<circle cx="481.30" cy="30.47" r="1.16" fill="#8542c5"/>
<circle cx="482.20" cy="26.91" r="1.16" fill="#764ed0"/>
<circle cx="481.03" cy="26.60" r="1.16" fill="#8442c5"/>
<circle cx="484.39" cy="28.92" r="1.16" fill="#7b4acd"/>
<circle cx="483.87" cy="29.48" r="1.16" fill="#8a3cc0"/>
<circle cx="481.36" cy="25.40" r="1.16" fill="#8443c6"/>
<circle cx="481.91" cy="25.40" r="1.16" fill="#8443c6"/>
<circle cx="481.32" cy="26.90" r="1.16" fill="#8443c6"/>
<circle cx="481.74" cy="26.90" r="1.16" fill="#8443c6"/>
<circle cx="481.39" cy="28.40" r="1.16" fill="#8443c6"/>
<circle cx="481.98" cy="28.40" r="1.16" fill="#8443c6"/>
<circle cx="481.06" cy="29.90" r="1.16" fill="#8443c6"/>
<circle cx="481.90" cy="29.90" r="1.16" fill="#8443c6"/>
<circle cx="481.29" cy="31.40" r="1.16" fill="#8443c6"/>
<circle cx="481.78" cy="31.40" r="1.16" fill="#8443c6"/>
<circle cx="487.81" cy="25.40" r="1.16" fill="#008bfb"/>
<circle cx="488.40" cy="25.40" r="1.16" fill="#008bfb"/>
<circle cx="487.97" cy="26.90" r="1.16" fill="#008bfb"/>
<circle cx="488.40" cy="26.90" r="1.16" fill="#008bfb"/>
<circle cx="487.93" cy="28.40" r="1.16" fill="#008bfb"/>
<circle cx="488.34" cy="28.40" r="1.16" fill="#008bfb"/>
<circle cx="487.95" cy="29.90" r="1.16" fill="#008bfb"/>
<circle cx="488.56" cy="29.90" r="1.16" fill="#008bfb"/>
<circle cx="487.78" cy="31.40" r="1.16" fill="#008bfb"/>
<circle cx="488.43" cy="31.40" r="1.16" fill="#008bfb"/>
<circle cx="491.76" cy="28.92" r="1.16" fill="#0084f9"/>
<circle cx="489.67" cy="27.89" r="1.16" fill="#0081f7"/>
<circle cx="489.50" cy="29.49" r="1.16" fill="#0087fa"/>
<circle cx="491.73" cy="27.95" r="1.16" fill="#007df5"/>
<circle cx="491.12" cy="28.41" r="1.16" fill="#0083f8"/>
<circle cx="490.95" cy="28.70" r="1.16" fill="#0086fa"/>
<circle cx="496.04" cy="28.42" r="1.16" fill="#9036bb"/>
<circle cx="498.12" cy="27.66" r="1.16" fill="#8e37bc"/>
<circle cx="498.63" cy="29.03" r="1.16" fill="#8740c3"/>
<circle cx="498.72" cy="27.73" r="1.16" fill="#8c3abe"/>
<circle cx="496.37" cy="27.98" r="1.16" fill="#8f37bb"/>
<circle cx="495.53" cy="28.43" r="1.16" fill="#8f37bc"/>
<circle cx="496.22" cy="27.97" r="1.16" fill="#8f37bb"/>
<circle cx="497.11" cy="28.80" r="1.16" fill="#8442c5"/>
<circle cx="498.64" cy="26.40" r="1.16" fill="#8443c6"/>
<circle cx="499.17" cy="26.40" r="1.16" fill="#8443c6"/>
<circle cx="498.77" cy="28.40" r="1.16" fill="#8443c6"/>
<circle cx="499.13" cy="28.40" r="1.16" fill="#8443c6"/>
<circle cx="498.88" cy="30.40" r="1.16" fill="#8443c6"/>
<circle cx="499.11" cy="30.40" r="1.16" fill="#8443c6"/>
<circle cx="507.40" cy="25.82" r="1.16" fill="#c2009c"/>
<circle cx="507.82" cy="26.75" r="1.16" fill="#c0009d"/>
<circle cx="507.21" cy="27.75" r="1.16" fill="#bc009f"/>
<circle cx="508.70" cy="27.16" r="1.16" fill="#bc009f"/>
<circle cx="505.47" cy="29.08" r="1.16" fill="#ce0094"/>
<circle cx="504.32" cy="27.70" r="1.16" fill="#bb009f"/>
<circle cx="505.99" cy="30.17" r="1.16" fill="#ce0094"/>
<circle cx="508.26" cy="29.47" r="1.16" fill="#d10091"/>
<circle cx="507.28" cy="28.25" r="1.16" fill="#c1009c"/>
<circle cx="507.05" cy="27.32" r="1.16" fill="#bd009e"/>
<circle cx="505.99" cy="30.89" r="1.16" fill="#be009e"/>
<circle cx="506.67" cy="27.71" r="1.16" fill="#c90097"/>
<circle cx="504.47" cy="30.47" r="1.16" fill="#c2009c"/>
<circle cx="506.78" cy="27.90" r="1.16" fill="#bb009f"/>
<circle cx="506.54" cy="26.03" r="1.16" fill="#bc009f"/>
<circle cx="503.92" cy="27.13" r="1.16" fill="#bd009e"/>
<circle cx="506.93" cy="28.45" r="1.16" fill="#d4008f"/>
<circle cx="508.42" cy="30.36" r="1.16" fill="#c1009c"/>
<circle cx="505.97" cy="26.75" r="1.16" fill="#cb0096"/>
<circle cx="505.75" cy="24.90" r="1.16" fill="#c80098"/>
<circle cx="506.42" cy="24.90" r="1.16" fill="#c80098"/>
<circle cx="505.78" cy="26.65" r="1.16" fill="#c80098"/>
<circle cx="506.20" cy="26.65" r="1.16" fill="#c80098"/>
<circle cx="505.67" cy="28.40" r="1.16" fill="#c80098"/>
<circle cx="506.31" cy="28.40" r="1.16" fill="#c80098"/>
<circle cx="505.50" cy="30.15" r="1.16" fill="#c80098"/>
<circle cx="506.11" cy="30.15" r="1.16" fill="#c80098"/>
<circle cx="505.66" cy="31.90" r="1.16" fill="#c80098"/>
<circle cx="506.14" cy="31.90" r="1.16" fill="#c80098"/>
<circle cx="518.00" cy="28.40" r="1.16" fill="#d5008f"/>
<circle cx="522.49" cy="25.40" r="1.16" fill="#bb00a0"/>
<circle cx="522.90" cy="25.40" r="1.16" fill="#bb00a0"/>
<circle cx="522.24" cy="26.90" r="1.16" fill="#bb00a0"/>
<circle cx="522.87" cy="26.90" r="1.16" fill="#bb00a0"/>
<circle cx="522.29" cy="28.40" r="1.16" fill="#bb00a0"/>
<circle cx="522.89" cy="28.40" r="1.16" fill="#bb00a0"/>
<circle cx="522.41" cy="29.90" r="1.16" fill="#bb00a0"/>
<circle cx="522.99" cy="29.90" r="1.16" fill="#bb00a0"/>
<circle cx="522.32" cy="31.40" r="1.16" fill="#bb00a0"/>
<circle cx="523.06" cy="31.40" r="1.16" fill="#bb00a0"/>
<circle cx="525.27" cy="29.56" r="1.16" fill="#ff0052"/>
<circle cx="528.37" cy="28.20" r="1.16" fill="#fe005c"/>
<circle cx="527.49" cy="26.75" r="1.16" fill="#fd005e"/>
<circle cx="527.15" cy="27.16" r="1.16" fill="#fa0065"/>
<circle cx="528.82" cy="28.03" r="1.16" fill="#fe005c"/>
<circle cx="529.53" cy="28.66" r="1.16" fill="#fc0061"/>
<circle cx="529.90" cy="28.14" r="1.16" fill="#f90067"/>
<circle cx="528.11" cy="27.10" r="1.16" fill="#fc0061"/>
<circle cx="529.04" cy="28.86" r="1.16" fill="#f90067"/>
<circle cx="526.71" cy="28.06" r="1.16" fill="#fe005d"/>
<circle cx="525.25" cy="28.65" r="1.16" fill="#fa0066"/>
<circle cx="525.71" cy="28.00" r="1.16" fill="#ff0053"/>
<circle cx="524.46" cy="28.99" r="1.16" fill="#fb0063"/>
<circle cx="527.43" cy="28.00" r="1.16" fill="#fe005d"/>
<circle cx="528.52" cy="28.09" r="1.16" fill="#fa0065"/>
<circle cx="524.73" cy="27.36" r="1.16" fill="#ff0054"/>
<circle cx="533.85" cy="28.79" r="1.16" fill="#ff0051"/>
<circle cx="530.15" cy="28.48" r="1.16" fill="#ff0051"/>
<circle cx="534.34" cy="28.40" r="1.16" fill="#ff0051"/>
<circle cx="532.74" cy="28.69" r="1.16" fill="#ff0051"/>
<circle cx="533.16" cy="28.38" r="1.16" fill="#ff0051"/>
<circle cx="534.83" cy="28.70" r="1.16" fill="#ff0051"/>
<circle cx="540.00" cy="28.40" r="1.16" fill="#ff0051"/>
<circle cx="547.20" cy="28.40" r="1.16" fill="#ff0051"/>
<circle cx="551.20" cy="28.40" r="1.16" fill="#ff0051"/>
<circle cx="554.80" cy="28.40" r="1.16" fill="#ff0051"/>
<circle cx="580.40" cy="28.40" r="1.16" fill="#ff0051"/>
<circle cx="460.60" cy="44.70" r="1.16" fill="#008bfb"/>
<circle cx="494.13" cy="43.42" r="1.16" fill="#0084f9"/>
<circle cx="493.69" cy="44.37" r="1.16" fill="#0081f7"/>
<circle cx="501.53" cy="45.00" r="1.16" fill="#007ff6"/>
<circle cx="491.74" cy="44.19" r="1.16" fill="#007cf5"/>
<circle cx="492.34" cy="44.38" r="1.16" fill="#008afb"/>
<circle cx="491.63" cy="46.09" r="1.16" fill="#007cf5"/>
<circle cx="498.31" cy="42.80" r="1.16" fill="#0087fa"/>
<circle cx="493.36" cy="45.45" r="1.16" fill="#0081f7"/>
<circle cx="495.82" cy="44.84" r="1.16" fill="#0089fa"/>
<circle cx="497.04" cy="47.29" r="1.16" fill="#0080f7"/>
<circle cx="491.74" cy="44.76" r="1.16" fill="#0081f7"/>
<circle cx="493.66" cy="46.49" r="1.16" fill="#0084f9"/>
<circle cx="498.97" cy="44.24" r="1.16" fill="#007cf5"/>
<circle cx="499.92" cy="45.02" r="1.16" fill="#0089fa"/>
<circle cx="495.85" cy="42.04" r="1.16" fill="#0082f8"/>
<circle cx="501.09" cy="43.51" r="1.16" fill="#0083f8"/>
<circle cx="496.34" cy="44.14" r="1.16" fill="#0081f7"/>
<circle cx="501.75" cy="45.39" r="1.16" fill="#0084f9"/>
<circle cx="502.05" cy="44.15" r="1.16" fill="#0080f7"/>
<circle cx="498.44" cy="46.02" r="1.16" fill="#007ef6"/>
<circle cx="493.28" cy="45.23" r="1.16" fill="#0085f9"/>
<circle cx="498.54" cy="47.09" r="1.16" fill="#0082f8"/>
<circle cx="490.74" cy="44.59" r="1.16" fill="#0081f7"/>
<circle cx="501.11" cy="45.26" r="1.16" fill="#007ff6"/>
<circle cx="490.80" cy="46.08" r="1.16" fill="#0080f7"/>
<circle cx="497.82" cy="46.87" r="1.16" fill="#007ef6"/>
<circle cx="491.80" cy="45.84" r="1.16" fill="#0080f7"/>
<circle cx="492.97" cy="45.73" r="1.16" fill="#0082f8"/>
<circle cx="492.88" cy="45.96" r="1.16" fill="#0089fa"/>
<circle cx="497.89" cy="44.35" r="1.16" fill="#0087fa"/>
<circle cx="497.34" cy="44.52" r="1.16" fill="#0088fa"/>
<circle cx="502.10" cy="43.33" r="1.16" fill="#008bfb"/>
<circle cx="496.38" cy="46.69" r="1.16" fill="#0081f8"/>
<circle cx="499.58" cy="44.63" r="1.16" fill="#0081f7"/>
<circle cx="494.59" cy="43.53" r="1.16" fill="#0084f9"/>
<circle cx="500.11" cy="40.70" r="1.16" fill="#007cf5"/>
<circle cx="500.73" cy="40.70" r="1.16" fill="#007cf5"/>
<circle cx="500.40" cy="42.03" r="1.16" fill="#007cf5"/>
<circle cx="500.77" cy="42.03" r="1.16" fill="#007cf5"/>
<circle cx="500.40" cy="43.37" r="1.16" fill="#007cf5"/>
<circle cx="501.01" cy="43.37" r="1.16" fill="#007cf5"/>
<circle cx="500.26" cy="44.70" r="1.16" fill="#007cf5"/>
<circle cx="500.97" cy="44.70" r="1.16" fill="#007cf5"/>
<circle cx="500.41" cy="46.03" r="1.16" fill="#007cf5"/>
<circle cx="501.05" cy="46.03" r="1.16" fill="#007cf5"/>
<circle cx="500.15" cy="47.37" r="1.16" fill="#007cf5"/>
<circle cx="500.77" cy="47.37" r="1.16" fill="#007cf5"/>
<circle cx="500.25" cy="48.70" r="1.16" fill="#007cf5"/>
<circle cx="500.89" cy="48.70" r="1.16" fill="#007cf5"/>
<circle cx="494.62" cy="41.70" r="1.16" fill="#008bfb"/>
<circle cx="495.10" cy="41.70" r="1.16" fill="#008bfb"/>
<circle cx="494.72" cy="43.20" r="1.16" fill="#008bfb"/>
<circle cx="495.49" cy="43.20" r="1.16" fill="#008bfb"/>
<circle cx="494.65" cy="44.70" r="1.16" fill="#008bfb"/>
<circle cx="495.32" cy="44.70" r="1.16" fill="#008bfb"/>
<circle cx="494.65" cy="46.20" r="1.16" fill="#008bfb"/>
<circle cx="495.28" cy="46.20" r="1.16" fill="#008bfb"/>
<circle cx="494.85" cy="47.70" r="1.16" fill="#008bfb"/>
<circle cx="495.22" cy="47.70" r="1.16" fill="#008bfb"/>
<circle cx="504.76" cy="41.70" r="1.16" fill="#8443c6"/>
<circle cx="505.29" cy="41.70" r="1.16" fill="#8443c6"/>
<circle cx="504.72" cy="43.20" r="1.16" fill="#8443c6"/>
<circle cx="505.47" cy="43.20" r="1.16" fill="#8443c6"/>
<circle cx="504.53" cy="44.70" r="1.16" fill="#8443c6"/>
<circle cx="505.43" cy="44.70" r="1.16" fill="#8443c6"/>
<circle cx="504.62" cy="46.20" r="1.16" fill="#8443c6"/>
<circle cx="505.36" cy="46.20" r="1.16" fill="#8443c6"/>
<circle cx="504.82" cy="47.70" r="1.16" fill="#8443c6"/>
<circle cx="505.36" cy="47.70" r="1.16" fill="#8443c6"/>
<circle cx="509.20" cy="45.92" r="1.16" fill="#8740c4"/>
<circle cx="511.00" cy="44.32" r="1.16" fill="#9134b9"/>
<circle cx="512.63" cy="45.47" r="1.16" fill="#9331b6"/>
<circle cx="508.56" cy="43.84" r="1.16" fill="#9036bb"/>
<circle cx="507.99" cy="44.05" r="1.16" fill="#9a25ae"/>
<circle cx="507.09" cy="45.48" r="1.16" fill="#8e38bd"/>
<circle cx="508.98" cy="44.07" r="1.16" fill="#8641c4"/>
<circle cx="509.68" cy="43.42" r="1.16" fill="#8f37bb"/>
<circle cx="508.44" cy="45.95" r="1.16" fill="#9926af"/>
<circle cx="509.56" cy="45.23" r="1.16" fill="#9a26af"/>
<circle cx="508.70" cy="43.38" r="1.16" fill="#8a3cc0"/>
<circle cx="507.67" cy="45.19" r="1.16" fill="#8e39bd"/>
<circle cx="508.92" cy="45.71" r="1.16" fill="#8a3cc0"/>
<circle cx="512.31" cy="45.07" r="1.16" fill="#8e38bc"/>
<circle cx="512.43" cy="44.27" r="1.16" fill="#9928b0"/>
<circle cx="513.19" cy="44.71" r="1.16" fill="#952fb5"/>
<circle cx="521.71" cy="44.97" r="1.16" fill="#ff0051"/>
<circle cx="521.25" cy="45.25" r="1.16" fill="#ff0051"/>
<circle cx="521.88" cy="44.48" r="1.16" fill="#ff0051"/>
<circle cx="520.11" cy="44.48" r="1.16" fill="#ff0051"/>
<circle cx="517.25" cy="45.32" r="1.16" fill="#ff0051"/>
<circle cx="518.99" cy="45.47" r="1.16" fill="#ff0051"/>
<circle cx="532.48" cy="42.70" r="1.16" fill="#ff0051"/>
<circle cx="532.75" cy="42.70" r="1.16" fill="#ff0051"/>
<circle cx="532.11" cy="44.70" r="1.16" fill="#ff0051"/>
<circle cx="532.84" cy="44.70" r="1.16" fill="#ff0051"/>
<circle cx="532.24" cy="46.70" r="1.16" fill="#ff0051"/>
<circle cx="533.07" cy="46.70" r="1.16" fill="#ff0051"/>
<circle cx="549.20" cy="44.70" r="1.16" fill="#9b23ad"/>
<circle cx="564.87" cy="45.51" r="1.16" fill="#d30090"/>
<circle cx="562.14" cy="43.44" r="1.16" fill="#dc0089"/>
<circle cx="560.92" cy="43.74" r="1.16" fill="#d8008d"/>
<circle cx="559.00" cy="44.10" r="1.16" fill="#de0087"/>
<circle cx="558.56" cy="43.64" r="1.16" fill="#cd0094"/>
<circle cx="559.81" cy="44.40" r="1.16" fill="#cf0093"/>
<circle cx="560.54" cy="43.63" r="1.16" fill="#ce0094"/>
<circle cx="562.68" cy="43.97" r="1.16" fill="#d20091"/>
<circle cx="563.94" cy="43.10" r="1.16" fill="#cc0095"/>
<circle cx="564.61" cy="44.47" r="1.16" fill="#db008a"/>
<circle cx="558.86" cy="44.77" r="1.16" fill="#dc0089"/>
<circle cx="560.50" cy="45.82" r="1.16" fill="#d7008d"/>
<circle cx="560.96" cy="46.92" r="1.16" fill="#d20091"/>
<circle cx="561.59" cy="45.28" r="1.16" fill="#d00092"/>
<circle cx="564.50" cy="45.02" r="1.16" fill="#d7008d"/>
<circle cx="562.11" cy="47.03" r="1.16" fill="#df0086"/>
<circle cx="564.53" cy="44.55" r="1.16" fill="#d30091"/>
<circle cx="562.00" cy="42.49" r="1.16" fill="#cb0096"/>
<circle cx="565.76" cy="43.76" r="1.16" fill="#de0087"/>
<circle cx="462.00" cy="61.00" r="1.16" fill="#ff0051"/>
<circle cx="463.20" cy="61.00" r="1.16" fill="#ff0051"/>
<circle cx="480.25" cy="61.00" r="1.16" fill="#ff0051"/>
<circle cx="490.45" cy="62.02" r="1.16" fill="#ec0079"/>
<circle cx="489.51" cy="61.72" r="1.16" fill="#ea007c"/>
<circle cx="489.01" cy="60.73" r="1.16" fill="#ef0075"/>
<circle cx="489.12" cy="61.33" r="1.16" fill="#ed0078"/>
<circle cx="491.18" cy="61.24" r="1.16" fill="#eb007a"/>
<circle cx="491.00" cy="60.53" r="1.16" fill="#f80068"/>
<circle cx="497.53" cy="58.28" r="1.16" fill="#c80098"/>
<circle cx="494.74" cy="59.65" r="1.16" fill="#d30090"/>
<circle cx="499.00" cy="61.12" r="1.16" fill="#cd0095"/>
<circle cx="499.30" cy="59.20" r="1.16" fill="#c80098"/>
<circle cx="495.14" cy="59.06" r="1.16" fill="#be009e"/>
<circle cx="495.59" cy="58.46" r="1.16" fill="#c1009c"/>
<circle cx="496.52" cy="61.86" r="1.16" fill="#d10092"/>
<circle cx="499.46" cy="62.04" r="1.16" fill="#c80098"/>
<circle cx="499.54" cy="59.43" r="1.16" fill="#be009e"/>
<circle cx="498.98" cy="61.69" r="1.16" fill="#c0009c"/>
<circle cx="496.51" cy="59.58" r="1.16" fill="#c60099"/>
<circle cx="496.80" cy="60.24" r="1.16" fill="#d00093"/>
<circle cx="498.94" cy="61.34" r="1.16" fill="#c80098"/>
<circle cx="495.99" cy="62.67" r="1.16" fill="#d4008f"/>
<circle cx="495.68" cy="62.18" r="1.16" fill="#cd0094"/>
<circle cx="498.09" cy="57.84" r="1.16" fill="#ca0097"/>
<circle cx="495.53" cy="59.28" r="1.16" fill="#ca0096"/>
<circle cx="498.01" cy="61.86" r="1.16" fill="#ce0094"/>
<circle cx="498.33" cy="60.84" r="1.16" fill="#bc009f"/>
<circle cx="497.81" cy="57.00" r="1.16" fill="#c80098"/>
<circle cx="498.43" cy="57.00" r="1.16" fill="#c80098"/>
<circle cx="497.83" cy="58.33" r="1.16" fill="#c80098"/>
<circle cx="498.34" cy="58.33" r="1.16" fill="#c80098"/>
<circle cx="497.52" cy="59.67" r="1.16" fill="#c80098"/>
<circle cx="498.18" cy="59.67" r="1.16" fill="#c80098"/>
<circle cx="497.54" cy="61.00" r="1.16" fill="#c80098"/>
<circle cx="498.35" cy="61.00" r="1.16" fill="#c80098"/>
<circle cx="497.72" cy="62.33" r="1.16" fill="#c80098"/>
<circle cx="498.17" cy="62.33" r="1.16" fill="#c80098"/>
<circle cx="497.88" cy="63.67" r="1.16" fill="#c80098"/>
<circle cx="498.49" cy="63.67" r="1.16" fill="#c80098"/>
<circle cx="497.86" cy="65.00" r="1.16" fill="#c80098"/>
<circle cx="498.29" cy="65.00" r="1.16" fill="#c80098"/>
<circle cx="501.25" cy="61.00" r="1.16" fill="#ff0051"/>
<circle cx="504.87" cy="56.00" r="1.16" fill="#8443c6"/>
<circle cx="505.43" cy="56.00" r="1.16" fill="#8443c6"/>
<circle cx="505.08" cy="57.67" r="1.16" fill="#8443c6"/>
<circle cx="505.63" cy="57.67" r="1.16" fill="#8443c6"/>
<circle cx="504.86" cy="59.33" r="1.16" fill="#8443c6"/>
<circle cx="505.71" cy="59.33" r="1.16" fill="#8443c6"/>
<circle cx="504.98" cy="61.00" r="1.16" fill="#8443c6"/>
<circle cx="505.52" cy="61.00" r="1.16" fill="#8443c6"/>
<circle cx="504.92" cy="62.67" r="1.16" fill="#8443c6"/>
<circle cx="505.64" cy="62.67" r="1.16" fill="#8443c6"/>
<circle cx="504.93" cy="64.33" r="1.16" fill="#8443c6"/>
<circle cx="505.61" cy="64.33" r="1.16" fill="#8443c6"/>
<circle cx="504.80" cy="66.00" r="1.16" fill="#8443c6"/>
<circle cx="505.63" cy="66.00" r="1.16" fill="#8443c6"/>
<circle cx="512.95" cy="62.90" r="1.16" fill="#0088fa"/>
<circle cx="513.33" cy="61.19" r="1.16" fill="#0085f9"/>
<circle cx="514.53" cy="63.48" r="1.16" fill="#0088fa"/>
<circle cx="516.08" cy="61.84" r="1.16" fill="#007ff7"/>
<circle cx="514.05" cy="60.74" r="1.16" fill="#0086f9"/>
<circle cx="514.21" cy="59.57" r="1.16" fill="#0088fa"/>
<circle cx="514.23" cy="59.20" r="1.16" fill="#0084f9"/>
<circle cx="514.83" cy="59.94" r="1.16" fill="#0088fa"/>
<circle cx="515.03" cy="62.93" r="1.16" fill="#0088fa"/>
<circle cx="515.10" cy="61.84" r="1.16" fill="#007ef6"/>
<circle cx="515.51" cy="60.06" r="1.16" fill="#0088fa"/>
<circle cx="516.48" cy="60.20" r="1.16" fill="#008afb"/>
<circle cx="516.69" cy="59.86" r="1.16" fill="#0086fa"/>
<circle cx="513.24" cy="59.80" r="1.16" fill="#0080f7"/>
<circle cx="513.39" cy="60.70" r="1.16" fill="#0085f9"/>
<circle cx="516.46" cy="59.07" r="1.16" fill="#0082f8"/>
<circle cx="514.55" cy="57.00" r="1.16" fill="#008bfb"/>
<circle cx="515.16" cy="57.00" r="1.16" fill="#008bfb"/>
<circle cx="514.74" cy="58.33" r="1.16" fill="#008bfb"/>
<circle cx="515.25" cy="58.33" r="1.16" fill="#008bfb"/>
<circle cx="514.53" cy="59.67" r="1.16" fill="#008bfb"/>
<circle cx="515.34" cy="59.67" r="1.16" fill="#008bfb"/>
<circle cx="514.87" cy="61.00" r="1.16" fill="#008bfb"/>
<circle cx="515.36" cy="61.00" r="1.16" fill="#008bfb"/>
<circle cx="514.70" cy="62.33" r="1.16" fill="#008bfb"/>
<circle cx="515.42" cy="62.33" r="1.16" fill="#008bfb"/>
<circle cx="514.87" cy="63.67" r="1.16" fill="#008bfb"/>
<circle cx="515.16" cy="63.67" r="1.16" fill="#008bfb"/>
<circle cx="514.62" cy="65.00" r="1.16" fill="#008bfb"/>
<circle cx="515.49" cy="65.00" r="1.16" fill="#008bfb"/>
<circle cx="526.33" cy="60.32" r="1.16" fill="#0081f7"/>
<circle cx="525.87" cy="61.23" r="1.16" fill="#0081f7"/>
<circle cx="522.72" cy="59.96" r="1.16" fill="#0088fa"/>
<circle cx="518.56" cy="61.37" r="1.16" fill="#0089fa"/>
<circle cx="523.59" cy="60.62" r="1.16" fill="#0085f9"/>
<circle cx="526.73" cy="60.77" r="1.16" fill="#0084f9"/>
<circle cx="521.42" cy="60.00" r="1.16" fill="#0088fa"/>
<circle cx="522.79" cy="62.23" r="1.16" fill="#0089fa"/>
<circle cx="526.51" cy="61.39" r="1.16" fill="#008afb"/>
<circle cx="524.36" cy="60.69" r="1.16" fill="#0083f8"/>
<circle cx="518.91" cy="61.02" r="1.16" fill="#0083f8"/>
<circle cx="525.04" cy="61.23" r="1.16" fill="#0081f7"/>
<circle cx="524.61" cy="60.15" r="1.16" fill="#008afb"/>
<circle cx="522.31" cy="59.55" r="1.16" fill="#0089fa"/>
<circle cx="520.90" cy="61.12" r="1.16" fill="#0082f8"/>
<circle cx="523.82" cy="62.51" r="1.16" fill="#0089fa"/>
<circle cx="523.02" cy="58.00" r="1.16" fill="#008bfb"/>
<circle cx="523.43" cy="58.00" r="1.16" fill="#008bfb"/>
<circle cx="523.07" cy="59.50" r="1.16" fill="#008bfb"/>
<circle cx="523.57" cy="59.50" r="1.16" fill="#008bfb"/>
<circle cx="522.86" cy="61.00" r="1.16" fill="#008bfb"/>
<circle cx="523.52" cy="61.00" r="1.16" fill="#008bfb"/>
<circle cx="523.06" cy="62.50" r="1.16" fill="#008bfb"/>
<circle cx="523.59" cy="62.50" r="1.16" fill="#008bfb"/>
<circle cx="523.18" cy="64.00" r="1.16" fill="#008bfb"/>
<circle cx="523.54" cy="64.00" r="1.16" fill="#008bfb"/>
<circle cx="527.30" cy="61.00" r="1.16" fill="#008bfb"/>
<circle cx="533.00" cy="61.00" r="1.16" fill="#008bfb"/>
<circle cx="534.50" cy="61.00" r="1.16" fill="#008bfb"/>
<circle cx="596.40" cy="61.00" r="1.16" fill="#008bfb"/>
<circle cx="479.50" cy="77.30" r="1.16" fill="#008bfb"/>
<circle cx="481.00" cy="77.30" r="1.16" fill="#008bfb"/>
<circle cx="487.50" cy="77.30" r="1.16" fill="#008bfb"/>
<circle cx="490.24" cy="75.30" r="1.16" fill="#008bfb"/>
<circle cx="491.07" cy="75.30" r="1.16" fill="#008bfb"/>
<circle cx="490.34" cy="77.30" r="1.16" fill="#008bfb"/>
<circle cx="490.74" cy="77.30" r="1.16" fill="#008bfb"/>
<circle cx="490.41" cy="79.30" r="1.16" fill="#008bfb"/>
<circle cx="490.85" cy="79.30" r="1.16" fill="#008bfb"/>
<circle cx="492.50" cy="77.30" r="1.16" fill="#008bfb"/>
<circle cx="496.78" cy="75.30" r="1.16" fill="#0074f0"/>
<circle cx="497.25" cy="75.30" r="1.16" fill="#0074f0"/>
<circle cx="496.72" cy="77.30" r="1.16" fill="#0074f0"/>
<circle cx="497.36" cy="77.30" r="1.16" fill="#0074f0"/>
<circle cx="496.60" cy="79.30" r="1.16" fill="#0074f0"/>
<circle cx="497.39" cy="79.30" r="1.16" fill="#0074f0"/>
<circle cx="501.41" cy="73.30" r="1.16" fill="#8443c6"/>
<circle cx="502.14" cy="73.30" r="1.16" fill="#8443c6"/>
<circle cx="501.74" cy="74.63" r="1.16" fill="#8443c6"/>
<circle cx="502.00" cy="74.63" r="1.16" fill="#8443c6"/>
<circle cx="501.67" cy="75.97" r="1.16" fill="#8443c6"/>
<circle cx="502.40" cy="75.97" r="1.16" fill="#8443c6"/>
<circle cx="501.69" cy="77.30" r="1.16" fill="#8443c6"/>
<circle cx="502.34" cy="77.30" r="1.16" fill="#8443c6"/>
<circle cx="501.43" cy="78.63" r="1.16" fill="#8443c6"/>
<circle cx="502.22" cy="78.63" r="1.16" fill="#8443c6"/>
<circle cx="501.64" cy="79.97" r="1.16" fill="#8443c6"/>
<circle cx="502.17" cy="79.97" r="1.16" fill="#8443c6"/>
<circle cx="501.57" cy="81.30" r="1.16" fill="#8443c6"/>
<circle cx="502.32" cy="81.30" r="1.16" fill="#8443c6"/>
<circle cx="506.47" cy="72.30" r="1.16" fill="#9b23ad"/>
<circle cx="507.02" cy="72.30" r="1.16" fill="#9b23ad"/>
<circle cx="506.64" cy="73.97" r="1.16" fill="#9b23ad"/>
<circle cx="507.39" cy="73.97" r="1.16" fill="#9b23ad"/>
<circle cx="506.73" cy="75.63" r="1.16" fill="#9b23ad"/>
<circle cx="507.27" cy="75.63" r="1.16" fill="#9b23ad"/>
<circle cx="506.52" cy="77.30" r="1.16" fill="#9b23ad"/>
<circle cx="507.36" cy="77.30" r="1.16" fill="#9b23ad"/>
<circle cx="506.42" cy="78.97" r="1.16" fill="#9b23ad"/>
<circle cx="507.10" cy="78.97" r="1.16" fill="#9b23ad"/>
<circle cx="506.72" cy="80.63" r="1.16" fill="#9b23ad"/>
<circle cx="507.36" cy="80.63" r="1.16" fill="#9b23ad"/>
<circle cx="506.56" cy="82.30" r="1.16" fill="#9b23ad"/>
<circle cx="507.36" cy="82.30" r="1.16" fill="#9b23ad"/>
<circle cx="509.44" cy="77.42" r="1.16" fill="#d6008e"/>
<circle cx="509.93" cy="76.85" r="1.16" fill="#d5008f"/>
<circle cx="510.62" cy="77.30" r="1.16" fill="#db008a"/>
<circle cx="511.61" cy="76.54" r="1.16" fill="#e00085"/>
<circle cx="511.11" cy="77.11" r="1.16" fill="#e8007e"/>
<circle cx="509.51" cy="77.21" r="1.16" fill="#df0086"/>
<circle cx="510.49" cy="78.13" r="1.16" fill="#e10084"/>
<circle cx="511.07" cy="77.18" r="1.16" fill="#de0087"/>
<circle cx="511.90" cy="77.30" r="1.16" fill="#ff0051"/>
<circle cx="517.38" cy="74.30" r="1.16" fill="#ff0051"/>
<circle cx="517.92" cy="74.30" r="1.16" fill="#ff0051"/>
<circle cx="517.26" cy="75.80" r="1.16" fill="#ff0051"/>
<circle cx="517.66" cy="75.80" r="1.16" fill="#ff0051"/>
<circle cx="517.24" cy="77.30" r="1.16" fill="#ff0051"/>
<circle cx="517.65" cy="77.30" r="1.16" fill="#ff0051"/>
<circle cx="517.14" cy="78.80" r="1.16" fill="#ff0051"/>
<circle cx="517.61" cy="78.80" r="1.16" fill="#ff0051"/>
<circle cx="517.28" cy="80.30" r="1.16" fill="#ff0051"/>
<circle cx="517.99" cy="80.30" r="1.16" fill="#ff0051"/>
<circle cx="525.02" cy="77.54" r="1.16" fill="#fc0062"/>
<circle cx="522.87" cy="77.17" r="1.16" fill="#fd005e"/>
<circle cx="520.96" cy="76.44" r="1.16" fill="#ff0057"/>
<circle cx="528.48" cy="78.00" r="1.16" fill="#ff005a"/>
<circle cx="518.31" cy="76.88" r="1.16" fill="#ff0055"/>
<circle cx="528.70" cy="77.40" r="1.16" fill="#ff005b"/>
<circle cx="525.55" cy="76.48" r="1.16" fill="#ff0058"/>
<circle cx="522.02" cy="78.50" r="1.16" fill="#fe005d"/>
<circle cx="525.30" cy="77.49" r="1.16" fill="#ff005b"/>
<circle cx="523.07" cy="79.04" r="1.16" fill="#ff0057"/>
<circle cx="522.62" cy="77.32" r="1.16" fill="#ff0053"/>
<circle cx="526.22" cy="77.76" r="1.16" fill="#ff0052"/>
<circle cx="519.29" cy="77.54" r="1.16" fill="#ff005a"/>
<circle cx="523.00" cy="79.07" r="1.16" fill="#ff0052"/>
<circle cx="522.30" cy="77.71" r="1.16" fill="#ff0056"/>
<circle cx="525.66" cy="76.86" r="1.16" fill="#ff0056"/>
<circle cx="521.84" cy="76.10" r="1.16" fill="#ff0059"/>
<circle cx="525.14" cy="76.99" r="1.16" fill="#fe005c"/>
<circle cx="528.87" cy="77.93" r="1.16" fill="#fd005e"/>
<circle cx="528.03" cy="77.47" r="1.16" fill="#fd005e"/>
<circle cx="525.12" cy="78.27" r="1.16" fill="#ff0053"/>
<circle cx="525.37" cy="77.86" r="1.16" fill="#fd005e"/>
<circle cx="487.77" cy="77.23" r="1.16" fill="#0084f9"/>
<circle cx="504.90" cy="77.07" r="1.16" fill="#4665e4"/>
<circle cx="500.93" cy="76.56" r="1.16" fill="#6f52d4"/>
<circle cx="493.19" cy="76.26" r="1.16" fill="#4565e5"/>
<circle cx="494.64" cy="78.43" r="1.16" fill="#0070ed"/>
<circle cx="488.79" cy="76.44" r="1.16" fill="#0089fa"/>
<circle cx="496.38" cy="77.94" r="1.16" fill="#0088fa"/>
<circle cx="493.27" cy="77.25" r="1.16" fill="#784dcf"/>
<circle cx="505.44" cy="77.90" r="1.16" fill="#4e62e2"/>
<circle cx="497.93" cy="76.53" r="1.16" fill="#4864e4"/>
<circle cx="490.15" cy="76.91" r="1.16" fill="#6f53d4"/>
<circle cx="497.79" cy="77.93" r="1.16" fill="#0a6eec"/>
<circle cx="492.31" cy="77.31" r="1.16" fill="#3e67e6"/>
<circle cx="491.59" cy="78.07" r="1.16" fill="#8245c7"/>
<circle cx="490.44" cy="76.77" r="1.16" fill="#6c54d6"/>
<circle cx="500.71" cy="76.66" r="1.16" fill="#4166e5"/>
<circle cx="491.52" cy="78.10" r="1.16" fill="#4266e5"/>
<circle cx="496.71" cy="76.30" r="1.16" fill="#0072ef"/>
<circle cx="495.99" cy="76.90" r="1.16" fill="#0080f7"/>
<circle cx="472.75" cy="93.60" r="1.16" fill="#ff0051"/>
<circle cx="478.75" cy="93.60" r="1.16" fill="#ff0051"/>
<circle cx="480.50" cy="93.60" r="1.16" fill="#ff0051"/>
<circle cx="482.50" cy="93.60" r="1.16" fill="#ff0051"/>
<circle cx="488.75" cy="93.60" r="1.16" fill="#bb00a0"/>
<circle cx="493.26" cy="94.30" r="1.16" fill="#d20091"/>
<circle cx="497.68" cy="93.98" r="1.16" fill="#cd0095"/>
<circle cx="492.82" cy="92.68" r="1.16" fill="#ca0097"/>
<circle cx="491.91" cy="92.56" r="1.16" fill="#cd0095"/>
<circle cx="493.25" cy="92.50" r="1.16" fill="#bd009e"/>
<circle cx="497.63" cy="91.98" r="1.16" fill="#d00092"/>
<circle cx="493.99" cy="93.89" r="1.16" fill="#c0009c"/>
<circle cx="492.73" cy="95.02" r="1.16" fill="#b40aa3"/>
<circle cx="497.41" cy="94.92" r="1.16" fill="#c0009d"/>
<circle cx="498.48" cy="92.42" r="1.16" fill="#b20ca4"/>
<circle cx="495.21" cy="91.51" r="1.16" fill="#ce0094"/>
<circle cx="495.51" cy="95.05" r="1.16" fill="#b901a1"/>
<circle cx="492.09" cy="94.63" r="1.16" fill="#b507a2"/>
<circle cx="494.76" cy="91.88" r="1.16" fill="#c5009a"/>
<circle cx="495.08" cy="92.14" r="1.16" fill="#ad13a6"/>
<circle cx="494.21" cy="94.79" r="1.16" fill="#b30ba3"/>
<circle cx="493.46" cy="94.03" r="1.16" fill="#c70098"/>
<circle cx="497.41" cy="94.10" r="1.16" fill="#cf0093"/>
<circle cx="492.96" cy="94.98" r="1.16" fill="#ad14a6"/>
<circle cx="496.45" cy="89.60" r="1.16" fill="#c80098"/>
<circle cx="497.04" cy="89.60" r="1.16" fill="#c80098"/>
<circle cx="496.71" cy="90.93" r="1.16" fill="#c80098"/>
<circle cx="497.20" cy="90.93" r="1.16" fill="#c80098"/>
<circle cx="496.77" cy="92.27" r="1.16" fill="#c80098"/>
<circle cx="497.39" cy="92.27" r="1.16" fill="#c80098"/>
<circle cx="496.78" cy="93.60" r="1.16" fill="#c80098"/>
<circle cx="497.25" cy="93.60" r="1.16" fill="#c80098"/>
<circle cx="496.54" cy="94.93" r="1.16" fill="#c80098"/>
<circle cx="497.38" cy="94.93" r="1.16" fill="#c80098"/>
<circle cx="496.69" cy="96.27" r="1.16" fill="#c80098"/>
<circle cx="497.08" cy="96.27" r="1.16" fill="#c80098"/>
<circle cx="496.62" cy="97.60" r="1.16" fill="#c80098"/>
<circle cx="497.01" cy="97.60" r="1.16" fill="#c80098"/>
<circle cx="500.76" cy="90.60" r="1.16" fill="#8443c6"/>
<circle cx="501.61" cy="90.60" r="1.16" fill="#8443c6"/>
<circle cx="501.04" cy="92.10" r="1.16" fill="#8443c6"/>
<circle cx="501.69" cy="92.10" r="1.16" fill="#8443c6"/>
<circle cx="501.05" cy="93.60" r="1.16" fill="#8443c6"/>
<circle cx="501.40" cy="93.60" r="1.16" fill="#8443c6"/>
<circle cx="501.05" cy="95.10" r="1.16" fill="#8443c6"/>
<circle cx="501.74" cy="95.10" r="1.16" fill="#8443c6"/>
<circle cx="501.02" cy="96.60" r="1.16" fill="#8443c6"/>
<circle cx="501.54" cy="96.60" r="1.16" fill="#8443c6"/>
<circle cx="508.37" cy="88.60" r="1.16" fill="#008bfb"/>
<circle cx="508.88" cy="88.60" r="1.16" fill="#008bfb"/>
<circle cx="508.50" cy="90.27" r="1.16" fill="#008bfb"/>
<circle cx="509.23" cy="90.27" r="1.16" fill="#008bfb"/>
<circle cx="508.30" cy="91.93" r="1.16" fill="#008bfb"/>
<circle cx="509.18" cy="91.93" r="1.16" fill="#008bfb"/>
<circle cx="508.61" cy="93.60" r="1.16" fill="#008bfb"/>
<circle cx="508.99" cy="93.60" r="1.16" fill="#008bfb"/>
<circle cx="508.59" cy="95.27" r="1.16" fill="#008bfb"/>
<circle cx="508.91" cy="95.27" r="1.16" fill="#008bfb"/>
<circle cx="508.37" cy="96.93" r="1.16" fill="#008bfb"/>
<circle cx="509.08" cy="96.93" r="1.16" fill="#008bfb"/>
<circle cx="508.60" cy="98.60" r="1.16" fill="#008bfb"/>
<circle cx="509.06" cy="98.60" r="1.16" fill="#008bfb"/>
<circle cx="506.52" cy="94.61" r="1.16" fill="#0083f8"/>
<circle cx="518.24" cy="92.82" r="1.16" fill="#0086f9"/>
<circle cx="506.53" cy="92.86" r="1.16" fill="#0085f9"/>
<circle cx="511.99" cy="94.17" r="1.16" fill="#007ff6"/>
<circle cx="510.68" cy="95.02" r="1.16" fill="#0081f8"/>
<circle cx="510.86" cy="92.53" r="1.16" fill="#007df5"/>
<circle cx="516.17" cy="92.06" r="1.16" fill="#0081f7"/>
<circle cx="511.43" cy="93.32" r="1.16" fill="#0080f7"/>
<circle cx="508.79" cy="92.93" r="1.16" fill="#0083f8"/>
<circle cx="520.38" cy="92.61" r="1.16" fill="#007ff6"/>
<circle cx="517.25" cy="92.59" r="1.16" fill="#0081f8"/>
<circle cx="515.56" cy="94.34" r="1.16" fill="#0083f8"/>
<circle cx="510.33" cy="93.61" r="1.16" fill="#0087fa"/>
<circle cx="512.74" cy="93.24" r="1.16" fill="#0089fa"/>
<circle cx="508.95" cy="93.14" r="1.16" fill="#0085f9"/>
<circle cx="514.58" cy="94.52" r="1.16" fill="#0087fa"/>
<circle cx="514.43" cy="92.99" r="1.16" fill="#0087fa"/>
<circle cx="507.38" cy="94.78" r="1.16" fill="#007df6"/>
<circle cx="519.12" cy="92.72" r="1.16" fill="#0089fa"/>
<circle cx="506.77" cy="93.12" r="1.16" fill="#0085f9"/>
<circle cx="505.13" cy="93.44" r="1.16" fill="#0081f7"/>
<circle cx="519.18" cy="92.77" r="1.16" fill="#008bfb"/>
<circle cx="518.51" cy="93.26" r="1.16" fill="#0086fa"/>
<circle cx="507.63" cy="92.99" r="1.16" fill="#0087fa"/>
<circle cx="509.37" cy="92.79" r="1.16" fill="#0083f8"/>
<circle cx="518.83" cy="93.08" r="1.16" fill="#0085f9"/>
<circle cx="513.22" cy="94.95" r="1.16" fill="#0080f7"/>
<circle cx="521.75" cy="92.93" r="1.16" fill="#007ff7"/>
<circle cx="510.01" cy="93.84" r="1.16" fill="#0083f8"/>
<circle cx="514.77" cy="92.94" r="1.16" fill="#008afb"/>
<circle cx="505.13" cy="94.47" r="1.16" fill="#007ef6"/>
<circle cx="512.82" cy="92.02" r="1.16" fill="#007ff6"/>
<circle cx="515.30" cy="90.60" r="1.16" fill="#008bfb"/>
<circle cx="515.89" cy="90.60" r="1.16" fill="#008bfb"/>
<circle cx="515.36" cy="92.10" r="1.16" fill="#008bfb"/>
<circle cx="515.76" cy="92.10" r="1.16" fill="#008bfb"/>
<circle cx="515.19" cy="93.60" r="1.16" fill="#008bfb"/>
<circle cx="516.03" cy="93.60" r="1.16" fill="#008bfb"/>
<circle cx="515.39" cy="95.10" r="1.16" fill="#008bfb"/>
<circle cx="516.09" cy="95.10" r="1.16" fill="#008bfb"/>
<circle cx="515.27" cy="96.60" r="1.16" fill="#008bfb"/>
<circle cx="516.09" cy="96.60" r="1.16" fill="#008bfb"/>
<circle cx="542.60" cy="93.60" r="1.16" fill="#008bfb"/>
<circle cx="549.50" cy="93.60" r="1.16" fill="#008bfb"/>
<circle cx="478.75" cy="109.90" r="1.16" fill="#008bfb"/>
<circle cx="490.46" cy="105.90" r="1.16" fill="#008bfb"/>
<circle cx="490.90" cy="105.90" r="1.16" fill="#008bfb"/>
<circle cx="490.46" cy="107.23" r="1.16" fill="#008bfb"/>
<circle cx="490.77" cy="107.23" r="1.16" fill="#008bfb"/>
<circle cx="490.13" cy="108.57" r="1.16" fill="#008bfb"/>
<circle cx="491.03" cy="108.57" r="1.16" fill="#008bfb"/>
<circle cx="490.16" cy="109.90" r="1.16" fill="#008bfb"/>
<circle cx="490.91" cy="109.90" r="1.16" fill="#008bfb"/>
<circle cx="490.39" cy="111.23" r="1.16" fill="#008bfb"/>
<circle cx="490.97" cy="111.23" r="1.16" fill="#008bfb"/>
<circle cx="490.19" cy="112.57" r="1.16" fill="#008bfb"/>
<circle cx="491.01" cy="112.57" r="1.16" fill="#008bfb"/>
<circle cx="490.12" cy="113.90" r="1.16" fill="#008bfb"/>
<circle cx="490.92" cy="113.90" r="1.16" fill="#008bfb"/>
<circle cx="494.18" cy="110.01" r="1.16" fill="#0086fa"/>
<circle cx="494.98" cy="110.36" r="1.16" fill="#007ff7"/>
<circle cx="494.17" cy="110.95" r="1.16" fill="#0083f8"/>
<circle cx="493.60" cy="109.91" r="1.16" fill="#0087fa"/>
<circle cx="489.23" cy="109.16" r="1.16" fill="#008afb"/>
<circle cx="491.96" cy="109.55" r="1.16" fill="#007ef6"/>
<circle cx="487.41" cy="110.52" r="1.16" fill="#0088fa"/>
<circle cx="489.59" cy="109.22" r="1.16" fill="#007df5"/>
<circle cx="492.17" cy="109.79" r="1.16" fill="#0088fa"/>
<circle cx="487.38" cy="109.61" r="1.16" fill="#007df5"/>
<circle cx="496.90" cy="109.90" r="1.16" fill="#008bfb"/>
<circle cx="500.93" cy="106.90" r="1.16" fill="#6359da"/>
<circle cx="501.62" cy="106.90" r="1.16" fill="#6359da"/>
<circle cx="501.10" cy="108.40" r="1.16" fill="#6359da"/>
<circle cx="501.37" cy="108.40" r="1.16" fill="#6359da"/>
<circle cx="500.88" cy="109.90" r="1.16" fill="#6359da"/>
<circle cx="501.52" cy="109.90" r="1.16" fill="#6359da"/>
<circle cx="500.84" cy="111.40" r="1.16" fill="#6359da"/>
<circle cx="501.50" cy="111.40" r="1.16" fill="#6359da"/>
<circle cx="501.02" cy="112.90" r="1.16" fill="#6359da"/>
<circle cx="501.40" cy="112.90" r="1.16" fill="#6359da"/>
<circle cx="507.28" cy="106.90" r="1.16" fill="#8443c6"/>
<circle cx="507.72" cy="106.90" r="1.16" fill="#8443c6"/>
<circle cx="507.26" cy="108.40" r="1.16" fill="#8443c6"/>
<circle cx="507.67" cy="108.40" r="1.16" fill="#8443c6"/>
<circle cx="507.32" cy="109.90" r="1.16" fill="#8443c6"/>
<circle cx="507.77" cy="109.90" r="1.16" fill="#8443c6"/>
<circle cx="507.33" cy="111.40" r="1.16" fill="#8443c6"/>
<circle cx="507.99" cy="111.40" r="1.16" fill="#8443c6"/>
<circle cx="507.23" cy="112.90" r="1.16" fill="#8443c6"/>
<circle cx="507.61" cy="112.90" r="1.16" fill="#8443c6"/>
<circle cx="513.66" cy="111.55" r="1.16" fill="#fc0061"/>
<circle cx="517.59" cy="109.83" r="1.16" fill="#ff0054"/>
<circle cx="519.07" cy="110.17" r="1.16" fill="#fb0063"/>
<circle cx="511.03" cy="108.71" r="1.16" fill="#f00074"/>
<circle cx="517.21" cy="110.98" r="1.16" fill="#ff005b"/>
<circle cx="518.87" cy="108.75" r="1.16" fill="#ea007b"/>
<circle cx="512.55" cy="108.44" r="1.16" fill="#fb0063"/>
<circle cx="519.30" cy="110.81" r="1.16" fill="#ed0078"/>
<circle cx="516.64" cy="110.47" r="1.16" fill="#fc0060"/>
<circle cx="514.12" cy="108.94" r="1.16" fill="#ff0056"/>
<circle cx="519.04" cy="110.42" r="1.16" fill="#fa0065"/>
<circle cx="510.33" cy="109.42" r="1.16" fill="#f10072"/>
<circle cx="512.43" cy="109.06" r="1.16" fill="#fd0060"/>
<circle cx="516.80" cy="108.84" r="1.16" fill="#ff0056"/>
<circle cx="510.01" cy="110.81" r="1.16" fill="#fb0064"/>
<circle cx="516.45" cy="109.15" r="1.16" fill="#fd005f"/>
<circle cx="518.76" cy="109.16" r="1.16" fill="#ee0077"/>
<circle cx="517.88" cy="109.19" r="1.16" fill="#ed0078"/>
<circle cx="514.92" cy="108.66" r="1.16" fill="#f00073"/>
<circle cx="512.84" cy="108.60" r="1.16" fill="#ff0059"/>
<circle cx="515.65" cy="110.47" r="1.16" fill="#f30070"/>
<circle cx="517.75" cy="111.24" r="1.16" fill="#ff0051"/>
<circle cx="510.77" cy="106.90" r="1.16" fill="#f20072"/>
<circle cx="511.47" cy="106.90" r="1.16" fill="#f20072"/>
<circle cx="510.79" cy="108.40" r="1.16" fill="#f20072"/>
<circle cx="511.54" cy="108.40" r="1.16" fill="#f20072"/>
<circle cx="511.01" cy="109.90" r="1.16" fill="#f20072"/>
<circle cx="511.59" cy="109.90" r="1.16" fill="#f20072"/>
<circle cx="510.89" cy="111.40" r="1.16" fill="#f20072"/>
<circle cx="511.74" cy="111.40" r="1.16" fill="#f20072"/>
<circle cx="511.00" cy="112.90" r="1.16" fill="#f20072"/>
<circle cx="511.75" cy="112.90" r="1.16" fill="#f20072"/>
<circle cx="522.13" cy="110.17" r="1.16" fill="#ed0078"/>
<circle cx="522.68" cy="110.18" r="1.16" fill="#f10072"/>
<circle cx="523.12" cy="109.26" r="1.16" fill="#f80069"/>
<circle cx="523.04" cy="109.86" r="1.16" fill="#ee0076"/>
<circle cx="520.95" cy="109.73" r="1.16" fill="#fc0061"/>
<circle cx="522.16" cy="109.34" r="1.16" fill="#f4006e"/>
<circle cx="521.54" cy="109.31" r="1.16" fill="#fb0063"/>
<circle cx="522.36" cy="109.56" r="1.16" fill="#e9007c"/>
<circle cx="508.28" cy="109.10" r="1.16" fill="#0084f9"/>
<circle cx="495.88" cy="110.59" r="1.16" fill="#7d49cb"/>
<circle cx="505.18" cy="109.25" r="1.16" fill="#7052d4"/>
<circle cx="490.65" cy="109.28" r="1.16" fill="#0084f9"/>
<circle cx="501.27" cy="110.16" r="1.16" fill="#4b63e3"/>
<circle cx="508.96" cy="110.32" r="1.16" fill="#625adb"/>
<circle cx="493.46" cy="110.73" r="1.16" fill="#7b4bcd"/>
<circle cx="506.57" cy="109.06" r="1.16" fill="#5c5cdd"/>
<circle cx="500.39" cy="110.01" r="1.16" fill="#007bf4"/>
<circle cx="505.46" cy="110.57" r="1.16" fill="#6658d9"/>
<circle cx="496.04" cy="110.47" r="1.16" fill="#0086f9"/>
<circle cx="503.61" cy="108.75" r="1.16" fill="#008afb"/>
<circle cx="492.09" cy="110.18" r="1.16" fill="#8244c7"/>
<circle cx="499.35" cy="110.32" r="1.16" fill="#4166e5"/>
<circle cx="506.83" cy="110.83" r="1.16" fill="#6d54d5"/>
<circle cx="496.63" cy="108.83" r="1.16" fill="#774dcf"/>
<circle cx="483.10" cy="126.20" r="1.16" fill="#008bfb"/>
<circle cx="486.90" cy="126.20" r="1.16" fill="#008bfb"/>
<circle cx="492.71" cy="123.20" r="1.16" fill="#008bfb"/>
<circle cx="493.50" cy="123.20" r="1.16" fill="#008bfb"/>
<circle cx="492.95" cy="124.70" r="1.16" fill="#008bfb"/>
<circle cx="493.27" cy="124.70" r="1.16" fill="#008bfb"/>
<circle cx="492.68" cy="126.20" r="1.16" fill="#008bfb"/>
<circle cx="493.37" cy="126.20" r="1.16" fill="#008bfb"/>
<circle cx="492.94" cy="127.70" r="1.16" fill="#008bfb"/>
<circle cx="493.54" cy="127.70" r="1.16" fill="#008bfb"/>
<circle cx="493.00" cy="129.20" r="1.16" fill="#008bfb"/>
<circle cx="493.31" cy="129.20" r="1.16" fill="#008bfb"/>
<circle cx="498.50" cy="122.20" r="1.16" fill="#007cf5"/>
<circle cx="499.20" cy="122.20" r="1.16" fill="#007cf5"/>
<circle cx="498.40" cy="123.53" r="1.16" fill="#007cf5"/>
<circle cx="499.08" cy="123.53" r="1.16" fill="#007cf5"/>
<circle cx="498.34" cy="124.87" r="1.16" fill="#007cf5"/>
<circle cx="499.19" cy="124.87" r="1.16" fill="#007cf5"/>
<circle cx="498.43" cy="126.20" r="1.16" fill="#007cf5"/>
<circle cx="499.04" cy="126.20" r="1.16" fill="#007cf5"/>
<circle cx="498.51" cy="127.53" r="1.16" fill="#007cf5"/>
<circle cx="498.98" cy="127.53" r="1.16" fill="#007cf5"/>
<circle cx="498.58" cy="128.87" r="1.16" fill="#007cf5"/>
<circle cx="499.03" cy="128.87" r="1.16" fill="#007cf5"/>
<circle cx="498.42" cy="130.20" r="1.16" fill="#007cf5"/>
<circle cx="499.14" cy="130.20" r="1.16" fill="#007cf5"/>
<circle cx="503.33" cy="126.90" r="1.16" fill="#972ab2"/>
<circle cx="504.05" cy="125.94" r="1.16" fill="#9036bb"/>
<circle cx="504.32" cy="125.07" r="1.16" fill="#9035ba"/>
<circle cx="502.64" cy="125.82" r="1.16" fill="#7b4bcd"/>
<circle cx="501.44" cy="126.99" r="1.16" fill="#972ab1"/>
<circle cx="504.93" cy="126.72" r="1.16" fill="#972ab2"/>
<circle cx="504.13" cy="125.30" r="1.16" fill="#9134b9"/>
<circle cx="504.35" cy="126.84" r="1.16" fill="#8245c8"/>
<circle cx="503.50" cy="125.85" r="1.16" fill="#883fc2"/>
<circle cx="503.65" cy="126.74" r="1.16" fill="#7b4acc"/>
<circle cx="503.20" cy="124.69" r="1.16" fill="#7f47ca"/>
<circle cx="504.12" cy="127.32" r="1.16" fill="#8146c8"/>
<circle cx="503.82" cy="125.27" r="1.16" fill="#8a3cc0"/>
<circle cx="505.89" cy="123.20" r="1.16" fill="#c80098"/>
<circle cx="506.38" cy="123.20" r="1.16" fill="#c80098"/>
<circle cx="505.92" cy="124.70" r="1.16" fill="#c80098"/>
<circle cx="506.57" cy="124.70" r="1.16" fill="#c80098"/>
<circle cx="506.09" cy="126.20" r="1.16" fill="#c80098"/>
<circle cx="506.39" cy="126.20" r="1.16" fill="#c80098"/>
<circle cx="505.87" cy="127.70" r="1.16" fill="#c80098"/>
<circle cx="506.35" cy="127.70" r="1.16" fill="#c80098"/>
<circle cx="505.83" cy="129.20" r="1.16" fill="#c80098"/>
<circle cx="506.46" cy="129.20" r="1.16" fill="#c80098"/>
<circle cx="511.28" cy="127.09" r="1.16" fill="#d9008b"/>
<circle cx="509.93" cy="126.27" r="1.16" fill="#df0086"/>
<circle cx="511.84" cy="126.93" r="1.16" fill="#d5008e"/>
<circle cx="509.63" cy="126.28" r="1.16" fill="#e30083"/>
<circle cx="510.12" cy="127.13" r="1.16" fill="#d7008d"/>
<circle cx="509.84" cy="127.15" r="1.16" fill="#d9008c"/>
<circle cx="508.69" cy="126.44" r="1.16" fill="#d8008c"/>
<circle cx="510.18" cy="125.12" r="1.16" fill="#d9008c"/>
<circle cx="516.17" cy="127.14" r="1.16" fill="#ff005a"/>
<circle cx="518.16" cy="126.66" r="1.16" fill="#fd005f"/>
<circle cx="520.83" cy="126.40" r="1.16" fill="#ff0059"/>
<circle cx="514.24" cy="125.63" r="1.16" fill="#ff005a"/>
<circle cx="520.68" cy="126.64" r="1.16" fill="#f90066"/>
<circle cx="519.61" cy="125.40" r="1.16" fill="#ff005a"/>
<circle cx="515.14" cy="124.99" r="1.16" fill="#ff0056"/>
<circle cx="517.27" cy="126.61" r="1.16" fill="#ff0058"/>
<circle cx="518.06" cy="125.90" r="1.16" fill="#fc0060"/>
<circle cx="517.59" cy="125.21" r="1.16" fill="#fc0061"/>
<circle cx="519.63" cy="125.76" r="1.16" fill="#ff0057"/>
<circle cx="518.68" cy="126.09" r="1.16" fill="#ff0056"/>
<circle cx="516.15" cy="124.55" r="1.16" fill="#ff0054"/>
<circle cx="519.18" cy="126.92" r="1.16" fill="#ff0053"/>
<circle cx="516.71" cy="125.93" r="1.16" fill="#ff005a"/>
<circle cx="520.07" cy="125.65" r="1.16" fill="#ff0057"/>
<circle cx="520.69" cy="125.67" r="1.16" fill="#f90067"/>
<circle cx="514.93" cy="126.58" r="1.16" fill="#fb0062"/>
<circle cx="520.62" cy="125.30" r="1.16" fill="#ff0053"/>
<circle cx="524.24" cy="123.20" r="1.16" fill="#ff0051"/>
<circle cx="525.07" cy="123.20" r="1.16" fill="#ff0051"/>
<circle cx="524.24" cy="124.70" r="1.16" fill="#ff0051"/>
<circle cx="524.74" cy="124.70" r="1.16" fill="#ff0051"/>
<circle cx="524.37" cy="126.20" r="1.16" fill="#ff0051"/>
<circle cx="524.82" cy="126.20" r="1.16" fill="#ff0051"/>
<circle cx="524.48" cy="127.70" r="1.16" fill="#ff0051"/>
<circle cx="525.03" cy="127.70" r="1.16" fill="#ff0051"/>
<circle cx="524.20" cy="129.20" r="1.16" fill="#ff0051"/>
<circle cx="524.90" cy="129.20" r="1.16" fill="#ff0051"/>
<circle cx="524.90" cy="126.20" r="1.16" fill="#ff0051"/>
<circle cx="525.00" cy="126.20" r="1.16" fill="#ff0051"/>
<circle cx="524.93" cy="126.20" r="1.16" fill="#ff0051"/>
<circle cx="523.97" cy="126.20" r="1.16" fill="#ff0051"/>
<circle cx="522.24" cy="126.20" r="1.16" fill="#ff0051"/>
<circle cx="525.69" cy="126.20" r="1.16" fill="#ff0051"/>
<circle cx="524.31" cy="126.20" r="1.16" fill="#ff0051"/>
<circle cx="527.10" cy="126.20" r="1.16" fill="#ff0051"/>
<circle cx="499.47" cy="126.30" r="1.16" fill="#6956d7"/>
<circle cx="504.54" cy="125.65" r="1.16" fill="#883fc2"/>
<circle cx="493.12" cy="126.71" r="1.16" fill="#0077f2"/>
<circle cx="493.34" cy="126.69" r="1.16" fill="#9829b1"/>
<circle cx="501.55" cy="126.90" r="1.16" fill="#216cea"/>
<circle cx="496.22" cy="126.57" r="1.16" fill="#8542c5"/>
<circle cx="496.49" cy="125.91" r="1.16" fill="#0077f2"/>
<circle cx="496.44" cy="127.04" r="1.16" fill="#008afb"/>
<circle cx="493.29" cy="125.71" r="1.16" fill="#8245c7"/>
<circle cx="500.41" cy="126.92" r="1.16" fill="#744fd1"/>
<circle cx="504.55" cy="126.36" r="1.16" fill="#0089fa"/>
<circle cx="494.33" cy="126.04" r="1.16" fill="#0082f8"/>
<circle cx="497.03" cy="125.65" r="1.16" fill="#9926af"/>
<circle cx="493.64" cy="142.78" r="1.16" fill="#008bfb"/>
<circle cx="491.90" cy="141.32" r="1.16" fill="#008bfb"/>
<circle cx="491.05" cy="142.56" r="1.16" fill="#008bfb"/>
<circle cx="491.86" cy="143.06" r="1.16" fill="#008bfb"/>
<circle cx="493.48" cy="142.37" r="1.16" fill="#008bfb"/>
<circle cx="494.86" cy="138.50" r="1.16" fill="#008bfb"/>
<circle cx="495.30" cy="138.50" r="1.16" fill="#008bfb"/>
<circle cx="494.61" cy="139.83" r="1.16" fill="#008bfb"/>
<circle cx="495.37" cy="139.83" r="1.16" fill="#008bfb"/>
<circle cx="494.85" cy="141.17" r="1.16" fill="#008bfb"/>
<circle cx="495.49" cy="141.17" r="1.16" fill="#008bfb"/>
<circle cx="494.65" cy="142.50" r="1.16" fill="#008bfb"/>
<circle cx="495.21" cy="142.50" r="1.16" fill="#008bfb"/>
<circle cx="494.60" cy="143.83" r="1.16" fill="#008bfb"/>
<circle cx="495.22" cy="143.83" r="1.16" fill="#008bfb"/>
<circle cx="494.59" cy="145.17" r="1.16" fill="#008bfb"/>
<circle cx="495.47" cy="145.17" r="1.16" fill="#008bfb"/>
<circle cx="494.75" cy="146.50" r="1.16" fill="#008bfb"/>
<circle cx="495.12" cy="146.50" r="1.16" fill="#008bfb"/>
<circle cx="497.50" cy="142.50" r="1.16" fill="#008bfb"/>
<circle cx="502.04" cy="138.50" r="1.16" fill="#007cf5"/>
<circle cx="502.67" cy="138.50" r="1.16" fill="#007cf5"/>
<circle cx="502.39" cy="139.83" r="1.16" fill="#007cf5"/>
<circle cx="502.74" cy="139.83" r="1.16" fill="#007cf5"/>
<circle cx="502.32" cy="141.17" r="1.16" fill="#007cf5"/>
<circle cx="502.69" cy="141.17" r="1.16" fill="#007cf5"/>
<circle cx="502.08" cy="142.50" r="1.16" fill="#007cf5"/>
<circle cx="502.98" cy="142.50" r="1.16" fill="#007cf5"/>
<circle cx="502.03" cy="143.83" r="1.16" fill="#007cf5"/>
<circle cx="502.80" cy="143.83" r="1.16" fill="#007cf5"/>
<circle cx="502.21" cy="145.17" r="1.16" fill="#007cf5"/>
<circle cx="502.74" cy="145.17" r="1.16" fill="#007cf5"/>
<circle cx="502.30" cy="146.50" r="1.16" fill="#007cf5"/>
<circle cx="502.94" cy="146.50" r="1.16" fill="#007cf5"/>
<circle cx="505.84" cy="139.50" r="1.16" fill="#ab15a7"/>
<circle cx="506.47" cy="139.50" r="1.16" fill="#ab15a7"/>
<circle cx="505.94" cy="141.00" r="1.16" fill="#ab15a7"/>
<circle cx="506.54" cy="141.00" r="1.16" fill="#ab15a7"/>
<circle cx="506.00" cy="142.50" r="1.16" fill="#ab15a7"/>
<circle cx="506.66" cy="142.50" r="1.16" fill="#ab15a7"/>
<circle cx="505.89" cy="144.00" r="1.16" fill="#ab15a7"/>
<circle cx="506.73" cy="144.00" r="1.16" fill="#ab15a7"/>
<circle cx="505.93" cy="145.50" r="1.16" fill="#ab15a7"/>
<circle cx="506.36" cy="145.50" r="1.16" fill="#ab15a7"/>
<circle cx="510.00" cy="142.50" r="1.16" fill="#ff0051"/>
<circle cx="515.14" cy="142.61" r="1.16" fill="#c2009b"/>
<circle cx="518.00" cy="142.74" r="1.16" fill="#cf0093"/>
<circle cx="514.28" cy="141.35" r="1.16" fill="#c60099"/>
<circle cx="516.51" cy="143.13" r="1.16" fill="#d5008f"/>
<circle cx="512.70" cy="143.09" r="1.16" fill="#d6008e"/>
<circle cx="516.76" cy="142.57" r="1.16" fill="#db008a"/>
<circle cx="518.52" cy="142.68" r="1.16" fill="#cc0095"/>
<circle cx="515.88" cy="143.65" r="1.16" fill="#d5008f"/>
<circle cx="517.35" cy="141.95" r="1.16" fill="#d20091"/>
<circle cx="513.97" cy="142.73" r="1.16" fill="#bb009f"/>
<circle cx="515.84" cy="143.38" r="1.16" fill="#dd0088"/>
<circle cx="515.53" cy="143.97" r="1.16" fill="#c3009b"/>
<circle cx="512.57" cy="142.61" r="1.16" fill="#c90097"/>
<circle cx="514.97" cy="142.85" r="1.16" fill="#d8008d"/>
<circle cx="517.89" cy="142.05" r="1.16" fill="#d20091"/>
<circle cx="516.44" cy="143.14" r="1.16" fill="#d20091"/>
<circle cx="531.23" cy="143.10" r="1.16" fill="#d5008f"/>
<circle cx="531.87" cy="142.02" r="1.16" fill="#d5008f"/>
<circle cx="531.64" cy="142.43" r="1.16" fill="#d5008f"/>
<circle cx="537.30" cy="142.50" r="1.16" fill="#ff0051"/>
<circle cx="491.72" cy="141.72" r="1.16" fill="#4166e5"/>
<circle cx="492.12" cy="142.85" r="1.16" fill="#246cea"/>
<circle cx="498.37" cy="142.29" r="1.16" fill="#9134b9"/>
<circle cx="507.96" cy="142.77" r="1.16" fill="#2d6be9"/>
<circle cx="493.02" cy="142.61" r="1.16" fill="#5b5ddd"/>
<circle cx="505.95" cy="141.84" r="1.16" fill="#8f36bb"/>
<circle cx="497.88" cy="141.93" r="1.16" fill="#146eec"/>
<circle cx="506.60" cy="142.51" r="1.16" fill="#7c4acc"/>
<circle cx="508.31" cy="141.55" r="1.16" fill="#7c49cc"/>
<circle cx="497.23" cy="141.86" r="1.16" fill="#a020ab"/>
<circle cx="495.34" cy="142.30" r="1.16" fill="#6956d7"/>
<circle cx="493.04" cy="142.14" r="1.16" fill="#007cf5"/>
<circle cx="501.01" cy="142.88" r="1.16" fill="#ba00a0"/>
<circle cx="511.10" cy="142.23" r="1.16" fill="#b507a2"/>
<circle cx="492.29" cy="141.86" r="1.16" fill="#7a4bcd"/>
<circle cx="505.02" cy="142.73" r="1.16" fill="#0079f3"/>
<circle cx="485.00" cy="158.80" r="1.16" fill="#008bfb"/>
<circle cx="487.00" cy="158.80" r="1.16" fill="#008bfb"/>
<circle cx="488.75" cy="158.80" r="1.16" fill="#008bfb"/>
<circle cx="492.50" cy="158.80" r="1.16" fill="#008bfb"/>
<circle cx="494.00" cy="158.80" r="1.16" fill="#008bfb"/>
<circle cx="500.56" cy="158.77" r="1.16" fill="#0088fa"/>
<circle cx="503.21" cy="159.52" r="1.16" fill="#008afb"/>
<circle cx="500.99" cy="159.56" r="1.16" fill="#0085f9"/>
<circle cx="502.47" cy="160.40" r="1.16" fill="#0085f9"/>
<circle cx="500.45" cy="160.00" r="1.16" fill="#0086fa"/>
<circle cx="501.98" cy="159.14" r="1.16" fill="#0085f9"/>
<circle cx="502.82" cy="158.67" r="1.16" fill="#0085f9"/>
<circle cx="500.66" cy="159.69" r="1.16" fill="#0084f9"/>
<circle cx="501.47" cy="157.43" r="1.16" fill="#0084f9"/>
<circle cx="499.10" cy="157.98" r="1.16" fill="#008afb"/>
<circle cx="500.65" cy="158.44" r="1.16" fill="#0085f9"/>
<circle cx="498.79" cy="158.47" r="1.16" fill="#0085f9"/>
<circle cx="497.68" cy="158.62" r="1.16" fill="#008afa"/>
<circle cx="503.28" cy="158.21" r="1.16" fill="#008afb"/>
<circle cx="498.34" cy="158.09" r="1.16" fill="#0086f9"/>
<circle cx="498.37" cy="157.67" r="1.16" fill="#0089fa"/>
<circle cx="497.82" cy="159.30" r="1.16" fill="#0085f9"/>
<circle cx="501.49" cy="158.16" r="1.16" fill="#008afb"/>
<circle cx="502.86" cy="157.99" r="1.16" fill="#0087fa"/>
<circle cx="504.91" cy="158.27" r="1.16" fill="#0086f9"/>
<circle cx="500.78" cy="158.93" r="1.16" fill="#0088fa"/>
<circle cx="502.76" cy="158.87" r="1.16" fill="#008afb"/>
<circle cx="502.33" cy="153.80" r="1.16" fill="#008bfb"/>
<circle cx="502.70" cy="153.80" r="1.16" fill="#008bfb"/>
<circle cx="502.14" cy="155.47" r="1.16" fill="#008bfb"/>
<circle cx="502.79" cy="155.47" r="1.16" fill="#008bfb"/>
<circle cx="502.24" cy="157.13" r="1.16" fill="#008bfb"/>
<circle cx="502.90" cy="157.13" r="1.16" fill="#008bfb"/>
<circle cx="502.05" cy="158.80" r="1.16" fill="#008bfb"/>
<circle cx="502.75" cy="158.80" r="1.16" fill="#008bfb"/>
<circle cx="502.25" cy="160.47" r="1.16" fill="#008bfb"/>
<circle cx="502.79" cy="160.47" r="1.16" fill="#008bfb"/>
<circle cx="502.10" cy="162.13" r="1.16" fill="#008bfb"/>
<circle cx="502.92" cy="162.13" r="1.16" fill="#008bfb"/>
<circle cx="502.39" cy="163.80" r="1.16" fill="#008bfb"/>
<circle cx="502.86" cy="163.80" r="1.16" fill="#008bfb"/>
<circle cx="510.22" cy="157.47" r="1.16" fill="#fe005d"/>
<circle cx="511.77" cy="158.27" r="1.16" fill="#fe005e"/>
<circle cx="509.68" cy="158.08" r="1.16" fill="#ff005a"/>
<circle cx="508.74" cy="160.14" r="1.16" fill="#ff0055"/>
<circle cx="508.81" cy="157.40" r="1.16" fill="#f90067"/>
<circle cx="511.94" cy="158.59" r="1.16" fill="#fa0065"/>
<circle cx="507.19" cy="159.41" r="1.16" fill="#fb0063"/>
<circle cx="512.61" cy="158.47" r="1.16" fill="#ff0059"/>
<circle cx="509.05" cy="159.33" r="1.16" fill="#fa0064"/>
<circle cx="508.56" cy="157.64" r="1.16" fill="#f90066"/>
<circle cx="510.39" cy="160.64" r="1.16" fill="#f90067"/>
<circle cx="512.35" cy="158.27" r="1.16" fill="#fb0064"/>
<circle cx="507.09" cy="158.48" r="1.16" fill="#fa0065"/>
<circle cx="509.97" cy="158.64" r="1.16" fill="#fb0064"/>
<circle cx="512.38" cy="159.01" r="1.16" fill="#ff0056"/>
<circle cx="508.39" cy="159.46" r="1.16" fill="#ff0058"/>
<circle cx="511.70" cy="157.89" r="1.16" fill="#ff0052"/>
<circle cx="509.73" cy="157.19" r="1.16" fill="#ff0053"/>
<circle cx="508.80" cy="160.08" r="1.16" fill="#fb0063"/>
<circle cx="515.73" cy="158.83" r="1.16" fill="#ff005b"/>
<circle cx="521.74" cy="159.27" r="1.16" fill="#fd005f"/>
<circle cx="522.60" cy="158.84" r="1.16" fill="#fa0064"/>
<circle cx="520.84" cy="158.26" r="1.16" fill="#ff005b"/>
<circle cx="516.58" cy="158.15" r="1.16" fill="#fc0061"/>
<circle cx="521.64" cy="157.21" r="1.16" fill="#fd005e"/>
<circle cx="519.02" cy="160.15" r="1.16" fill="#fa0064"/>
<circle cx="520.15" cy="160.02" r="1.16" fill="#fd005e"/>
<circle cx="524.56" cy="158.27" r="1.16" fill="#fe005c"/>
<circle cx="518.05" cy="158.10" r="1.16" fill="#f90066"/>
<circle cx="522.77" cy="159.25" r="1.16" fill="#ff0055"/>
<circle cx="519.77" cy="157.56" r="1.16" fill="#ff0059"/>
<circle cx="524.34" cy="158.93" r="1.16" fill="#fc0061"/>
<circle cx="520.23" cy="160.18" r="1.16" fill="#ff0055"/>
<circle cx="521.27" cy="159.64" r="1.16" fill="#f90066"/>
<circle cx="516.37" cy="157.55" r="1.16" fill="#fe005d"/>
<circle cx="519.90" cy="156.89" r="1.16" fill="#ff0055"/>
<circle cx="520.47" cy="159.68" r="1.16" fill="#ff0052"/>
<circle cx="522.64" cy="159.53" r="1.16" fill="#ff0059"/>
<circle cx="486.25" cy="175.10" r="1.16" fill="#008bfb"/>
<circle cx="492.34" cy="175.62" r="1.16" fill="#008bfb"/>
<circle cx="491.07" cy="175.59" r="1.16" fill="#008bfb"/>
<circle cx="492.38" cy="175.91" r="1.16" fill="#008bfb"/>
<circle cx="494.39" cy="175.08" r="1.16" fill="#008bfb"/>
<circle cx="490.25" cy="174.52" r="1.16" fill="#008bfb"/>
<circle cx="492.74" cy="175.81" r="1.16" fill="#008bfb"/>
<circle cx="500.96" cy="173.10" r="1.16" fill="#007cf5"/>
<circle cx="501.50" cy="173.10" r="1.16" fill="#007cf5"/>
<circle cx="500.95" cy="175.10" r="1.16" fill="#007cf5"/>
<circle cx="501.64" cy="175.10" r="1.16" fill="#007cf5"/>
<circle cx="501.10" cy="177.10" r="1.16" fill="#007cf5"/>
<circle cx="501.49" cy="177.10" r="1.16" fill="#007cf5"/>
<circle cx="504.77" cy="170.10" r="1.16" fill="#8443c6"/>
<circle cx="505.24" cy="170.10" r="1.16" fill="#8443c6"/>
<circle cx="504.60" cy="171.77" r="1.16" fill="#8443c6"/>
<circle cx="505.12" cy="171.77" r="1.16" fill="#8443c6"/>
<circle cx="504.66" cy="173.43" r="1.16" fill="#8443c6"/>
<circle cx="505.34" cy="173.43" r="1.16" fill="#8443c6"/>
<circle cx="504.70" cy="175.10" r="1.16" fill="#8443c6"/>
<circle cx="505.28" cy="175.10" r="1.16" fill="#8443c6"/>
<circle cx="504.81" cy="176.77" r="1.16" fill="#8443c6"/>
<circle cx="505.28" cy="176.77" r="1.16" fill="#8443c6"/>
<circle cx="504.78" cy="178.43" r="1.16" fill="#8443c6"/>
<circle cx="505.32" cy="178.43" r="1.16" fill="#8443c6"/>
<circle cx="504.88" cy="180.10" r="1.16" fill="#8443c6"/>
<circle cx="505.23" cy="180.10" r="1.16" fill="#8443c6"/>
<circle cx="509.21" cy="175.60" r="1.16" fill="#972bb2"/>
<circle cx="510.97" cy="174.85" r="1.16" fill="#9430b6"/>
<circle cx="509.73" cy="175.22" r="1.16" fill="#972bb2"/>
<circle cx="508.37" cy="175.87" r="1.16" fill="#9b23ad"/>
<circle cx="510.55" cy="174.97" r="1.16" fill="#9d22ac"/>
<circle cx="508.43" cy="174.58" r="1.16" fill="#a61ba9"/>
<circle cx="510.41" cy="174.78" r="1.16" fill="#9927af"/>
<circle cx="509.80" cy="174.28" r="1.16" fill="#9f20ab"/>
<circle cx="516.22" cy="175.75" r="1.16" fill="#c70098"/>
<circle cx="511.85" cy="175.27" r="1.16" fill="#ca0096"/>
<circle cx="514.74" cy="177.25" r="1.16" fill="#c2009b"/>
<circle cx="511.77" cy="177.09" r="1.16" fill="#c90097"/>
<circle cx="515.69" cy="175.55" r="1.16" fill="#d20091"/>
<circle cx="514.26" cy="176.52" r="1.16" fill="#cc0095"/>
<circle cx="516.01" cy="176.06" r="1.16" fill="#d4008f"/>
<circle cx="513.33" cy="173.22" r="1.16" fill="#c0009c"/>
<circle cx="513.53" cy="175.48" r="1.16" fill="#cd0094"/>
<circle cx="513.58" cy="178.24" r="1.16" fill="#c60099"/>
<circle cx="511.29" cy="175.20" r="1.16" fill="#cc0095"/>
<circle cx="512.46" cy="176.36" r="1.16" fill="#c0009d"/>
<circle cx="515.77" cy="174.87" r="1.16" fill="#d30090"/>
<circle cx="514.32" cy="176.49" r="1.16" fill="#c0009c"/>
<circle cx="515.66" cy="177.22" r="1.16" fill="#bf009d"/>
<circle cx="514.15" cy="172.91" r="1.16" fill="#d20091"/>
<circle cx="513.35" cy="171.60" r="1.16" fill="#c80098"/>
<circle cx="513.96" cy="171.60" r="1.16" fill="#c80098"/>
<circle cx="513.31" cy="173.35" r="1.16" fill="#c80098"/>
<circle cx="513.76" cy="173.35" r="1.16" fill="#c80098"/>
<circle cx="513.25" cy="175.10" r="1.16" fill="#c80098"/>
<circle cx="513.62" cy="175.10" r="1.16" fill="#c80098"/>
<circle cx="513.04" cy="176.85" r="1.16" fill="#c80098"/>
<circle cx="513.82" cy="176.85" r="1.16" fill="#c80098"/>
<circle cx="513.30" cy="178.60" r="1.16" fill="#c80098"/>
<circle cx="513.72" cy="178.60" r="1.16" fill="#c80098"/>
<circle cx="519.40" cy="175.10" r="1.16" fill="#d5008f"/>
<circle cx="530.00" cy="175.10" r="1.16" fill="#ff0051"/>
<circle cx="486.90" cy="191.40" r="1.16" fill="#ff0051"/>
<circle cx="488.50" cy="191.40" r="1.16" fill="#ff0051"/>
<circle cx="490.00" cy="191.40" r="1.16" fill="#ff0051"/>
<circle cx="493.10" cy="191.40" r="1.16" fill="#ff0051"/>
<circle cx="497.50" cy="191.40" r="1.16" fill="#ff0051"/>
<circle cx="500.06" cy="190.00" r="1.16" fill="#e9007c"/>
<circle cx="501.64" cy="193.53" r="1.16" fill="#f90066"/>
<circle cx="503.88" cy="192.35" r="1.16" fill="#fa0065"/>
<circle cx="503.36" cy="190.17" r="1.16" fill="#fc0061"/>
<circle cx="502.56" cy="192.20" r="1.16" fill="#f10072"/>
<circle cx="501.97" cy="193.35" r="1.16" fill="#fd005e"/>
<circle cx="500.85" cy="192.89" r="1.16" fill="#f3006f"/>
<circle cx="500.27" cy="192.38" r="1.16" fill="#ff0059"/>
<circle cx="501.91" cy="191.00" r="1.16" fill="#e60080"/>
<circle cx="500.85" cy="191.54" r="1.16" fill="#ef0076"/>
<circle cx="502.88" cy="192.20" r="1.16" fill="#e10084"/>
<circle cx="503.39" cy="191.19" r="1.16" fill="#ed0077"/>
<circle cx="500.81" cy="191.85" r="1.16" fill="#f90066"/>
<circle cx="503.44" cy="192.78" r="1.16" fill="#ea007b"/>
<circle cx="502.40" cy="192.06" r="1.16" fill="#ec0079"/>
<circle cx="500.04" cy="192.10" r="1.16" fill="#ff0058"/>
<circle cx="506.59" cy="186.40" r="1.16" fill="#8443c6"/>
<circle cx="507.37" cy="186.40" r="1.16" fill="#8443c6"/>
<circle cx="506.42" cy="188.07" r="1.16" fill="#8443c6"/>
<circle cx="507.23" cy="188.07" r="1.16" fill="#8443c6"/>
<circle cx="506.56" cy="189.73" r="1.16" fill="#8443c6"/>
<circle cx="507.26" cy="189.73" r="1.16" fill="#8443c6"/>
<circle cx="506.54" cy="191.40" r="1.16" fill="#8443c6"/>
<circle cx="507.29" cy="191.40" r="1.16" fill="#8443c6"/>
<circle cx="506.48" cy="193.07" r="1.16" fill="#8443c6"/>
<circle cx="507.11" cy="193.07" r="1.16" fill="#8443c6"/>
<circle cx="506.56" cy="194.73" r="1.16" fill="#8443c6"/>
<circle cx="507.17" cy="194.73" r="1.16" fill="#8443c6"/>
<circle cx="506.57" cy="196.40" r="1.16" fill="#8443c6"/>
<circle cx="507.38" cy="196.40" r="1.16" fill="#8443c6"/>
<circle cx="517.71" cy="191.70" r="1.16" fill="#0088fa"/>
<circle cx="517.97" cy="192.66" r="1.16" fill="#007bf5"/>
<circle cx="524.35" cy="191.66" r="1.16" fill="#0083f8"/>
<circle cx="523.06" cy="192.91" r="1.16" fill="#0075f1"/>
<circle cx="511.72" cy="191.94" r="1.16" fill="#0087fa"/>
<circle cx="513.99" cy="192.46" r="1.16" fill="#0077f2"/>
<circle cx="518.88" cy="190.58" r="1.16" fill="#0080f7"/>
<circle cx="514.62" cy="190.45" r="1.16" fill="#0086fa"/>
<circle cx="524.24" cy="192.59" r="1.16" fill="#0087fa"/>
<circle cx="522.70" cy="192.21" r="1.16" fill="#007bf4"/>
<circle cx="513.82" cy="191.52" r="1.16" fill="#0079f3"/>
<circle cx="520.52" cy="193.13" r="1.16" fill="#0089fa"/>
<circle cx="514.97" cy="190.86" r="1.16" fill="#0082f8"/>
<circle cx="524.79" cy="192.60" r="1.16" fill="#0078f3"/>
<circle cx="519.86" cy="192.56" r="1.16" fill="#0078f3"/>
<circle cx="513.21" cy="191.85" r="1.16" fill="#0075f1"/>
<circle cx="512.49" cy="191.22" r="1.16" fill="#0083f8"/>
<circle cx="522.81" cy="191.28" r="1.16" fill="#0088fa"/>
<circle cx="515.62" cy="192.04" r="1.16" fill="#007ff6"/>
<circle cx="510.41" cy="192.23" r="1.16" fill="#0085f9"/>
<circle cx="510.53" cy="191.74" r="1.16" fill="#007cf5"/>
<circle cx="519.11" cy="189.58" r="1.16" fill="#008afb"/>
<circle cx="520.86" cy="191.43" r="1.16" fill="#008afb"/>
<circle cx="518.40" cy="189.44" r="1.16" fill="#0081f7"/>
<circle cx="520.64" cy="190.31" r="1.16" fill="#0082f8"/>
<circle cx="520.79" cy="190.52" r="1.16" fill="#007df6"/>
<circle cx="510.84" cy="191.97" r="1.16" fill="#0086f9"/>
<circle cx="516.49" cy="193.70" r="1.16" fill="#007af4"/>
<circle cx="512.77" cy="192.42" r="1.16" fill="#0082f8"/>
<circle cx="517.43" cy="190.30" r="1.16" fill="#0087fa"/>
<circle cx="524.79" cy="191.12" r="1.16" fill="#0086fa"/>
<circle cx="522.04" cy="190.02" r="1.16" fill="#0082f8"/>
<circle cx="513.55" cy="188.40" r="1.16" fill="#008bfb"/>
<circle cx="514.11" cy="188.40" r="1.16" fill="#008bfb"/>
<circle cx="513.89" cy="189.90" r="1.16" fill="#008bfb"/>
<circle cx="514.30" cy="189.90" r="1.16" fill="#008bfb"/>
<circle cx="513.76" cy="191.40" r="1.16" fill="#008bfb"/>
<circle cx="514.16" cy="191.40" r="1.16" fill="#008bfb"/>
<circle cx="513.65" cy="192.90" r="1.16" fill="#008bfb"/>
<circle cx="514.12" cy="192.90" r="1.16" fill="#008bfb"/>
<circle cx="513.84" cy="194.40" r="1.16" fill="#008bfb"/>
<circle cx="514.10" cy="194.40" r="1.16" fill="#008bfb"/>
<circle cx="517.88" cy="188.40" r="1.16" fill="#008bfb"/>
<circle cx="518.48" cy="188.40" r="1.16" fill="#008bfb"/>
<circle cx="517.58" cy="189.90" r="1.16" fill="#008bfb"/>
<circle cx="518.21" cy="189.90" r="1.16" fill="#008bfb"/>
<circle cx="517.57" cy="191.40" r="1.16" fill="#008bfb"/>
<circle cx="518.11" cy="191.40" r="1.16" fill="#008bfb"/>
<circle cx="517.69" cy="192.90" r="1.16" fill="#008bfb"/>
<circle cx="518.31" cy="192.90" r="1.16" fill="#008bfb"/>
<circle cx="517.85" cy="194.40" r="1.16" fill="#008bfb"/>
<circle cx="518.29" cy="194.40" r="1.16" fill="#008bfb"/>
<circle cx="526.00" cy="191.40" r="1.16" fill="#008bfb"/>
<circle cx="485.00" cy="207.70" r="1.16" fill="#008bfb"/>
<circle cx="494.62" cy="207.56" r="1.16" fill="#fb0064"/>
<circle cx="493.92" cy="207.52" r="1.16" fill="#ff0055"/>
<circle cx="494.16" cy="208.53" r="1.16" fill="#ff0055"/>
<circle cx="498.72" cy="207.84" r="1.16" fill="#fc0060"/>
<circle cx="497.60" cy="206.93" r="1.16" fill="#fe005c"/>
<circle cx="497.91" cy="207.77" r="1.16" fill="#ff0056"/>
<circle cx="494.65" cy="208.44" r="1.16" fill="#fa0064"/>
<circle cx="495.42" cy="207.93" r="1.16" fill="#ff0053"/>
<circle cx="501.20" cy="206.61" r="1.16" fill="#8046c9"/>
<circle cx="502.47" cy="207.06" r="1.16" fill="#007ef6"/>
<circle cx="509.91" cy="208.87" r="1.16" fill="#136eec"/>
<circle cx="509.94" cy="209.26" r="1.16" fill="#0073ef"/>
<circle cx="500.75" cy="208.70" r="1.16" fill="#6a56d7"/>
<circle cx="502.65" cy="204.69" r="1.16" fill="#0076f1"/>
<circle cx="509.32" cy="208.52" r="1.16" fill="#7052d4"/>
<circle cx="506.97" cy="206.22" r="1.16" fill="#8e38bc"/>
<circle cx="504.72" cy="211.02" r="1.16" fill="#6558d9"/>
<circle cx="506.81" cy="210.14" r="1.16" fill="#9927af"/>
<circle cx="507.14" cy="210.49" r="1.16" fill="#2a6be9"/>
<circle cx="503.15" cy="206.14" r="1.16" fill="#086fec"/>
<circle cx="508.95" cy="206.86" r="1.16" fill="#0079f3"/>
<circle cx="500.91" cy="208.74" r="1.16" fill="#9430b6"/>
<circle cx="504.24" cy="205.14" r="1.16" fill="#7f47ca"/>
<circle cx="508.49" cy="207.22" r="1.16" fill="#4366e5"/>
<circle cx="503.74" cy="207.95" r="1.16" fill="#6e53d5"/>
<circle cx="509.25" cy="206.93" r="1.16" fill="#972ab2"/>
<circle cx="506.13" cy="207.40" r="1.16" fill="#8a3dc1"/>
<circle cx="502.39" cy="207.98" r="1.16" fill="#9233b8"/>
<circle cx="508.34" cy="209.62" r="1.16" fill="#5360e1"/>
<circle cx="506.45" cy="209.62" r="1.16" fill="#0079f3"/>
<circle cx="509.65" cy="208.99" r="1.16" fill="#4764e4"/>
<circle cx="505.99" cy="210.92" r="1.16" fill="#008afb"/>
<circle cx="502.74" cy="210.04" r="1.16" fill="#0087fa"/>
<circle cx="506.98" cy="206.40" r="1.16" fill="#0079f3"/>
<circle cx="500.50" cy="206.75" r="1.16" fill="#036fec"/>
<circle cx="506.53" cy="209.82" r="1.16" fill="#6259da"/>
<circle cx="501.53" cy="207.83" r="1.16" fill="#9430b6"/>
<circle cx="502.35" cy="208.86" r="1.16" fill="#007bf4"/>
<circle cx="503.02" cy="207.98" r="1.16" fill="#883ec2"/>
<circle cx="505.38" cy="205.33" r="1.16" fill="#5d5cdd"/>
<circle cx="500.53" cy="208.73" r="1.16" fill="#595ede"/>
<circle cx="503.34" cy="208.55" r="1.16" fill="#0070ed"/>
<circle cx="504.92" cy="208.39" r="1.16" fill="#8443c6"/>
<circle cx="501.92" cy="210.27" r="1.16" fill="#8a3cc0"/>
<circle cx="501.88" cy="209.96" r="1.16" fill="#0077f2"/>
<circle cx="508.46" cy="206.20" r="1.16" fill="#8c3abe"/>
<circle cx="504.85" cy="202.70" r="1.16" fill="#236cea"/>
<circle cx="505.32" cy="202.70" r="1.16" fill="#236cea"/>
<circle cx="504.77" cy="204.37" r="1.16" fill="#236cea"/>
<circle cx="505.40" cy="204.37" r="1.16" fill="#236cea"/>
<circle cx="504.75" cy="206.03" r="1.16" fill="#236cea"/>
<circle cx="505.23" cy="206.03" r="1.16" fill="#236cea"/>
<circle cx="504.81" cy="207.70" r="1.16" fill="#236cea"/>
<circle cx="505.46" cy="207.70" r="1.16" fill="#236cea"/>
<circle cx="504.71" cy="209.37" r="1.16" fill="#236cea"/>
<circle cx="505.44" cy="209.37" r="1.16" fill="#236cea"/>
<circle cx="504.64" cy="211.03" r="1.16" fill="#236cea"/>
<circle cx="505.28" cy="211.03" r="1.16" fill="#236cea"/>
<circle cx="504.77" cy="212.70" r="1.16" fill="#236cea"/>
<circle cx="505.23" cy="212.70" r="1.16" fill="#236cea"/>
<circle cx="518.10" cy="207.70" r="1.16" fill="#008bfb"/>
<circle cx="521.58" cy="208.12" r="1.16" fill="#008bfb"/>
<circle cx="520.80" cy="208.39" r="1.16" fill="#008bfb"/>
<circle cx="520.07" cy="208.03" r="1.16" fill="#008bfb"/>
<circle cx="536.94" cy="208.48" r="1.16" fill="#d5008f"/>
<circle cx="537.49" cy="206.97" r="1.16" fill="#d5008f"/>
<circle cx="536.23" cy="208.29" r="1.16" fill="#d5008f"/>
<circle cx="542.32" cy="207.98" r="1.16" fill="#d5008f"/>
<circle cx="543.43" cy="207.75" r="1.16" fill="#d5008f"/>
<circle cx="543.20" cy="206.87" r="1.16" fill="#d5008f"/>
<circle cx="481.90" cy="224.00" r="1.16" fill="#008bfb"/>
<circle cx="496.25" cy="224.00" r="1.16" fill="#008bfb"/>
<circle cx="498.14" cy="226.00" r="1.16" fill="#6459da"/>
<circle cx="502.05" cy="222.17" r="1.16" fill="#8442c5"/>
<circle cx="500.38" cy="224.52" r="1.16" fill="#0079f3"/>
<circle cx="502.34" cy="226.26" r="1.16" fill="#6956d8"/>
<circle cx="503.19" cy="224.39" r="1.16" fill="#605adb"/>
<circle cx="503.34" cy="222.32" r="1.16" fill="#4365e5"/>
<circle cx="503.16" cy="225.34" r="1.16" fill="#893ec1"/>
<circle cx="502.69" cy="225.06" r="1.16" fill="#6c55d6"/>
<circle cx="499.52" cy="225.59" r="1.16" fill="#8046c9"/>
<circle cx="499.56" cy="223.27" r="1.16" fill="#4b63e3"/>
<circle cx="502.73" cy="221.40" r="1.16" fill="#0075f1"/>
<circle cx="503.92" cy="225.24" r="1.16" fill="#4764e4"/>
<circle cx="499.16" cy="221.35" r="1.16" fill="#0074f0"/>
<circle cx="503.70" cy="221.97" r="1.16" fill="#8343c6"/>
<circle cx="499.23" cy="225.65" r="1.16" fill="#0070ed"/>
<circle cx="502.54" cy="225.72" r="1.16" fill="#5b5dde"/>
<circle cx="499.62" cy="223.98" r="1.16" fill="#096fec"/>
<circle cx="504.21" cy="223.83" r="1.16" fill="#6359da"/>
<circle cx="500.12" cy="223.57" r="1.16" fill="#883fc2"/>
<circle cx="503.69" cy="225.61" r="1.16" fill="#8c3abe"/>
<circle cx="504.34" cy="222.02" r="1.16" fill="#256cea"/>
<circle cx="498.67" cy="225.60" r="1.16" fill="#0074f0"/>
<circle cx="507.32" cy="220.50" r="1.16" fill="#d5008f"/>
<circle cx="507.68" cy="220.50" r="1.16" fill="#d5008f"/>
<circle cx="507.08" cy="222.25" r="1.16" fill="#d5008f"/>
<circle cx="507.73" cy="222.25" r="1.16" fill="#d5008f"/>
<circle cx="507.36" cy="224.00" r="1.16" fill="#d5008f"/>
<circle cx="507.70" cy="224.00" r="1.16" fill="#d5008f"/>
<circle cx="507.08" cy="225.75" r="1.16" fill="#d5008f"/>
<circle cx="507.91" cy="225.75" r="1.16" fill="#d5008f"/>
<circle cx="507.10" cy="227.50" r="1.16" fill="#d5008f"/>
<circle cx="507.83" cy="227.50" r="1.16" fill="#d5008f"/>
<circle cx="510.43" cy="224.40" r="1.16" fill="#da008a"/>
<circle cx="509.68" cy="223.46" r="1.16" fill="#de0087"/>
<circle cx="509.68" cy="223.64" r="1.16" fill="#db008a"/>
<circle cx="511.84" cy="223.85" r="1.16" fill="#d8008c"/>
<circle cx="510.03" cy="223.93" r="1.16" fill="#df0087"/>
<circle cx="510.73" cy="224.09" r="1.16" fill="#d8008c"/>
<circle cx="512.13" cy="223.76" r="1.16" fill="#ff0055"/>
<circle cx="515.64" cy="225.13" r="1.16" fill="#fb0062"/>
<circle cx="515.84" cy="223.33" r="1.16" fill="#fc0060"/>
<circle cx="512.95" cy="221.67" r="1.16" fill="#fe005c"/>
<circle cx="515.92" cy="222.73" r="1.16" fill="#ff0052"/>
<circle cx="512.56" cy="222.64" r="1.16" fill="#ff005b"/>
<circle cx="510.60" cy="223.41" r="1.16" fill="#ff0056"/>
<circle cx="511.87" cy="225.15" r="1.16" fill="#fc0061"/>
<circle cx="514.70" cy="224.98" r="1.16" fill="#ff005b"/>
<circle cx="512.88" cy="222.42" r="1.16" fill="#fa0065"/>
<circle cx="513.20" cy="223.08" r="1.16" fill="#ff0055"/>
<circle cx="510.71" cy="222.48" r="1.16" fill="#fd0060"/>
<circle cx="513.42" cy="225.36" r="1.16" fill="#ff0059"/>
<circle cx="511.60" cy="222.09" r="1.16" fill="#ff0059"/>
<circle cx="510.73" cy="225.05" r="1.16" fill="#ff0059"/>
<circle cx="515.64" cy="223.78" r="1.16" fill="#fe005d"/>
<circle cx="514.00" cy="221.97" r="1.16" fill="#ff0054"/>
<circle cx="513.71" cy="225.03" r="1.16" fill="#f90066"/>
<circle cx="511.76" cy="222.36" r="1.16" fill="#fc0060"/>
<circle cx="519.53" cy="224.76" r="1.16" fill="#ff0051"/>
<circle cx="520.25" cy="223.85" r="1.16" fill="#ff0051"/>
<circle cx="518.28" cy="224.20" r="1.16" fill="#ff0051"/>
<circle cx="518.82" cy="224.36" r="1.16" fill="#ff0051"/>
<circle cx="521.53" cy="224.05" r="1.16" fill="#ff0051"/>
<circle cx="526.65" cy="222.90" r="1.16" fill="#f10073"/>
<circle cx="524.75" cy="224.11" r="1.16" fill="#d5008e"/>
<circle cx="527.91" cy="224.72" r="1.16" fill="#f4006e"/>
<circle cx="525.64" cy="224.45" r="1.16" fill="#ec0078"/>
<circle cx="529.78" cy="224.65" r="1.16" fill="#ee0076"/>
<circle cx="528.69" cy="223.47" r="1.16" fill="#ff0056"/>
<circle cx="527.78" cy="222.75" r="1.16" fill="#f80069"/>
<circle cx="525.85" cy="224.39" r="1.16" fill="#dc0089"/>
<circle cx="525.61" cy="225.11" r="1.16" fill="#f5006d"/>
<circle cx="526.70" cy="224.52" r="1.16" fill="#dc0089"/>
<circle cx="478.27" cy="240.18" r="1.16" fill="#ff0051"/>
<circle cx="480.13" cy="240.40" r="1.16" fill="#ff0051"/>
<circle cx="479.11" cy="240.80" r="1.16" fill="#ff0051"/>
<circle cx="481.03" cy="239.52" r="1.16" fill="#ff0051"/>
<circle cx="478.02" cy="239.95" r="1.16" fill="#ff0051"/>
<circle cx="483.04" cy="240.15" r="1.16" fill="#ff0051"/>
<circle cx="478.05" cy="240.20" r="1.16" fill="#ff0051"/>
<circle cx="479.42" cy="240.17" r="1.16" fill="#ff0051"/>
<circle cx="493.10" cy="240.30" r="1.16" fill="#ff0051"/>
<circle cx="500.99" cy="238.25" r="1.16" fill="#cc0095"/>
<circle cx="505.31" cy="240.14" r="1.16" fill="#bf009d"/>
<circle cx="502.45" cy="241.65" r="1.16" fill="#aa17a7"/>
<circle cx="502.18" cy="241.83" r="1.16" fill="#b10da4"/>
<circle cx="506.22" cy="240.16" r="1.16" fill="#9b23ad"/>
<circle cx="503.03" cy="243.20" r="1.16" fill="#a71aa9"/>
<circle cx="502.76" cy="240.73" r="1.16" fill="#cf0093"/>
<circle cx="500.09" cy="241.20" r="1.16" fill="#a01fab"/>
<circle cx="504.42" cy="243.08" r="1.16" fill="#c2009b"/>
<circle cx="500.14" cy="239.36" r="1.16" fill="#b901a0"/>
<circle cx="505.61" cy="239.98" r="1.16" fill="#ab15a7"/>
<circle cx="504.67" cy="241.71" r="1.16" fill="#d40090"/>
<circle cx="503.87" cy="242.19" r="1.16" fill="#cf0093"/>
<circle cx="501.21" cy="237.73" r="1.16" fill="#cc0095"/>
<circle cx="503.90" cy="242.89" r="1.16" fill="#cd0094"/>
<circle cx="500.76" cy="239.17" r="1.16" fill="#cd0094"/>
<circle cx="503.47" cy="242.47" r="1.16" fill="#d00092"/>
<circle cx="500.09" cy="239.27" r="1.16" fill="#a020ab"/>
<circle cx="501.42" cy="239.65" r="1.16" fill="#d10092"/>
<circle cx="501.36" cy="240.25" r="1.16" fill="#b605a2"/>
<circle cx="505.96" cy="241.07" r="1.16" fill="#b506a2"/>
<circle cx="500.55" cy="239.20" r="1.16" fill="#a31daa"/>
<circle cx="503.90" cy="235.30" r="1.16" fill="#bb00a0"/>
<circle cx="504.22" cy="235.30" r="1.16" fill="#bb00a0"/>
<circle cx="503.57" cy="236.97" r="1.16" fill="#bb00a0"/>
<circle cx="504.11" cy="236.97" r="1.16" fill="#bb00a0"/>
<circle cx="503.56" cy="238.63" r="1.16" fill="#bb00a0"/>
<circle cx="504.34" cy="238.63" r="1.16" fill="#bb00a0"/>
<circle cx="503.70" cy="240.30" r="1.16" fill="#bb00a0"/>
<circle cx="504.33" cy="240.30" r="1.16" fill="#bb00a0"/>
<circle cx="503.79" cy="241.97" r="1.16" fill="#bb00a0"/>
<circle cx="504.18" cy="241.97" r="1.16" fill="#bb00a0"/>
<circle cx="503.74" cy="243.63" r="1.16" fill="#bb00a0"/>
<circle cx="504.34" cy="243.63" r="1.16" fill="#bb00a0"/>
<circle cx="503.89" cy="245.30" r="1.16" fill="#bb00a0"/>
<circle cx="504.27" cy="245.30" r="1.16" fill="#bb00a0"/>
<circle cx="509.95" cy="239.12" r="1.16" fill="#5c5ddd"/>
<circle cx="516.56" cy="239.46" r="1.16" fill="#6e53d5"/>
<circle cx="517.98" cy="239.90" r="1.16" fill="#0085f9"/>
<circle cx="517.90" cy="239.45" r="1.16" fill="#8344c7"/>
<circle cx="511.95" cy="240.30" r="1.16" fill="#006fed"/>
<circle cx="508.33" cy="239.81" r="1.16" fill="#0086f9"/>
<circle cx="512.97" cy="238.01" r="1.16" fill="#4764e4"/>
<circle cx="513.56" cy="242.73" r="1.16" fill="#6d54d5"/>
<circle cx="514.43" cy="241.86" r="1.16" fill="#0073ef"/>
<circle cx="516.63" cy="240.80" r="1.16" fill="#6f53d4"/>
<circle cx="517.33" cy="240.94" r="1.16" fill="#794cce"/>
<circle cx="507.65" cy="241.63" r="1.16" fill="#1c6deb"/>
<circle cx="513.17" cy="238.71" r="1.16" fill="#0078f3"/>
<circle cx="513.76" cy="239.51" r="1.16" fill="#008afb"/>
<circle cx="511.34" cy="238.58" r="1.16" fill="#8343c6"/>
<circle cx="508.53" cy="241.08" r="1.16" fill="#6558d9"/>
<circle cx="518.74" cy="241.00" r="1.16" fill="#5f5bdc"/>
<circle cx="514.46" cy="242.39" r="1.16" fill="#7151d3"/>
<circle cx="513.19" cy="243.08" r="1.16" fill="#3e67e6"/>
<circle cx="512.11" cy="239.16" r="1.16" fill="#4a63e3"/>
<circle cx="513.73" cy="239.23" r="1.16" fill="#126eec"/>
<circle cx="512.20" cy="242.34" r="1.16" fill="#0084f9"/>
<circle cx="508.31" cy="240.32" r="1.16" fill="#3669e8"/>
<circle cx="507.85" cy="240.13" r="1.16" fill="#0083f8"/>
<circle cx="509.67" cy="241.44" r="1.16" fill="#008afa"/>
<circle cx="509.83" cy="240.25" r="1.16" fill="#6e53d5"/>
<circle cx="516.31" cy="240.36" r="1.16" fill="#286bea"/>
<circle cx="516.61" cy="240.46" r="1.16" fill="#6857d8"/>
<circle cx="512.44" cy="238.18" r="1.16" fill="#7b4acd"/>
<circle cx="509.90" cy="240.60" r="1.16" fill="#555fe0"/>
<circle cx="513.06" cy="239.49" r="1.16" fill="#0087fa"/>
<circle cx="512.44" cy="237.93" r="1.16" fill="#3369e8"/>
<circle cx="510.68" cy="236.30" r="1.16" fill="#236cea"/>
<circle cx="511.13" cy="236.30" r="1.16" fill="#236cea"/>
<circle cx="510.64" cy="237.63" r="1.16" fill="#236cea"/>
<circle cx="511.28" cy="237.63" r="1.16" fill="#236cea"/>
<circle cx="510.61" cy="238.97" r="1.16" fill="#236cea"/>
<circle cx="511.48" cy="238.97" r="1.16" fill="#236cea"/>
<circle cx="510.62" cy="240.30" r="1.16" fill="#236cea"/>
<circle cx="511.13" cy="240.30" r="1.16" fill="#236cea"/>
<circle cx="510.51" cy="241.63" r="1.16" fill="#236cea"/>
<circle cx="511.13" cy="241.63" r="1.16" fill="#236cea"/>
<circle cx="510.67" cy="242.97" r="1.16" fill="#236cea"/>
<circle cx="511.11" cy="242.97" r="1.16" fill="#236cea"/>
<circle cx="510.68" cy="244.30" r="1.16" fill="#236cea"/>
<circle cx="511.47" cy="244.30" r="1.16" fill="#236cea"/>
<circle cx="526.00" cy="240.30" r="1.16" fill="#008bfb"/>
<circle cx="534.00" cy="240.30" r="1.16" fill="#008bfb"/>
<circle cx="487.50" cy="256.60" r="1.16" fill="#008bfb"/>
<circle cx="493.00" cy="256.60" r="1.16" fill="#008bfb"/>
<circle cx="494.50" cy="256.60" r="1.16" fill="#008bfb"/>
<circle cx="499.00" cy="254.60" r="1.16" fill="#008bfb"/>
<circle cx="499.78" cy="254.60" r="1.16" fill="#008bfb"/>
<circle cx="499.11" cy="256.60" r="1.16" fill="#008bfb"/>
<circle cx="499.57" cy="256.60" r="1.16" fill="#008bfb"/>
<circle cx="499.07" cy="258.60" r="1.16" fill="#008bfb"/>
<circle cx="499.51" cy="258.60" r="1.16" fill="#008bfb"/>
<circle cx="499.40" cy="259.10" r="1.16" fill="#ff0051"/>
<circle cx="504.08" cy="251.60" r="1.16" fill="#8443c6"/>
<circle cx="504.54" cy="251.60" r="1.16" fill="#8443c6"/>
<circle cx="503.95" cy="253.27" r="1.16" fill="#8443c6"/>
<circle cx="504.68" cy="253.27" r="1.16" fill="#8443c6"/>
<circle cx="504.05" cy="254.93" r="1.16" fill="#8443c6"/>
<circle cx="504.57" cy="254.93" r="1.16" fill="#8443c6"/>
<circle cx="503.96" cy="256.60" r="1.16" fill="#8443c6"/>
<circle cx="504.61" cy="256.60" r="1.16" fill="#8443c6"/>
<circle cx="504.28" cy="258.27" r="1.16" fill="#8443c6"/>
<circle cx="504.89" cy="258.27" r="1.16" fill="#8443c6"/>
<circle cx="504.02" cy="259.93" r="1.16" fill="#8443c6"/>
<circle cx="504.51" cy="259.93" r="1.16" fill="#8443c6"/>
<circle cx="504.09" cy="261.60" r="1.16" fill="#8443c6"/>
<circle cx="504.85" cy="261.60" r="1.16" fill="#8443c6"/>
<circle cx="508.06" cy="258.78" r="1.16" fill="#f20071"/>
<circle cx="508.28" cy="254.65" r="1.16" fill="#ed0078"/>
<circle cx="510.25" cy="255.38" r="1.16" fill="#f10073"/>
<circle cx="511.67" cy="256.59" r="1.16" fill="#e40082"/>
<circle cx="506.92" cy="257.88" r="1.16" fill="#e8007d"/>
<circle cx="509.20" cy="257.61" r="1.16" fill="#ff0052"/>
<circle cx="510.15" cy="258.06" r="1.16" fill="#f90066"/>
<circle cx="512.25" cy="256.49" r="1.16" fill="#ea007b"/>
<circle cx="510.31" cy="257.31" r="1.16" fill="#e7007e"/>
<circle cx="510.68" cy="256.37" r="1.16" fill="#f10073"/>
<circle cx="509.90" cy="255.81" r="1.16" fill="#f00074"/>
<circle cx="513.64" cy="256.05" r="1.16" fill="#f4006e"/>
<circle cx="506.28" cy="255.97" r="1.16" fill="#fe005c"/>
<circle cx="510.03" cy="257.70" r="1.16" fill="#ff0056"/>
<circle cx="511.43" cy="258.78" r="1.16" fill="#ff0059"/>
<circle cx="507.80" cy="257.14" r="1.16" fill="#e10085"/>
<circle cx="511.03" cy="258.68" r="1.16" fill="#fc0060"/>
<circle cx="512.89" cy="256.86" r="1.16" fill="#fe005e"/>
<circle cx="508.00" cy="255.64" r="1.16" fill="#e40081"/>
<circle cx="507.24" cy="257.65" r="1.16" fill="#e50081"/>
<circle cx="512.04" cy="255.58" r="1.16" fill="#ff005a"/>
<circle cx="513.51" cy="255.14" r="1.16" fill="#f80068"/>
<circle cx="518.96" cy="256.54" r="1.16" fill="#ff0051"/>
<circle cx="518.45" cy="257.01" r="1.16" fill="#ff0051"/>
<circle cx="517.39" cy="256.66" r="1.16" fill="#ff0051"/>
<circle cx="517.45" cy="256.38" r="1.16" fill="#ff0051"/>
<circle cx="518.05" cy="256.18" r="1.16" fill="#ff0051"/>
<circle cx="521.14" cy="254.60" r="1.16" fill="#d5008f"/>
<circle cx="521.76" cy="254.60" r="1.16" fill="#d5008f"/>
<circle cx="521.40" cy="256.60" r="1.16" fill="#d5008f"/>
<circle cx="521.83" cy="256.60" r="1.16" fill="#d5008f"/>
<circle cx="521.44" cy="258.60" r="1.16" fill="#d5008f"/>
<circle cx="522.04" cy="258.60" r="1.16" fill="#d5008f"/>
<circle cx="490.60" cy="272.90" r="1.16" fill="#ff0051"/>
<circle cx="497.50" cy="272.90" r="1.16" fill="#e9007c"/>
<circle cx="502.82" cy="273.70" r="1.16" fill="#d20091"/>
<circle cx="504.19" cy="275.03" r="1.16" fill="#d7008d"/>
<circle cx="502.07" cy="275.07" r="1.16" fill="#c80098"/>
<circle cx="504.23" cy="274.92" r="1.16" fill="#ce0094"/>
<circle cx="503.57" cy="270.87" r="1.16" fill="#d20091"/>
<circle cx="505.28" cy="271.52" r="1.16" fill="#cd0094"/>
<circle cx="500.87" cy="271.54" r="1.16" fill="#ce0094"/>
<circle cx="505.36" cy="273.26" r="1.16" fill="#d5008f"/>
<circle cx="504.51" cy="273.56" r="1.16" fill="#df0086"/>
<circle cx="501.90" cy="273.06" r="1.16" fill="#de0088"/>
<circle cx="501.74" cy="274.95" r="1.16" fill="#d20091"/>
<circle cx="502.54" cy="272.32" r="1.16" fill="#cb0096"/>
<circle cx="501.97" cy="273.96" r="1.16" fill="#dc0089"/>
<circle cx="503.15" cy="270.42" r="1.16" fill="#d7008d"/>
<circle cx="503.65" cy="273.51" r="1.16" fill="#cf0093"/>
<circle cx="500.34" cy="272.99" r="1.16" fill="#cf0093"/>
<circle cx="504.62" cy="274.35" r="1.16" fill="#ca0097"/>
<circle cx="504.27" cy="272.68" r="1.16" fill="#d30090"/>
<circle cx="502.57" cy="274.99" r="1.16" fill="#cb0096"/>
<circle cx="506.78" cy="267.90" r="1.16" fill="#008bfb"/>
<circle cx="507.37" cy="267.90" r="1.16" fill="#008bfb"/>
<circle cx="506.57" cy="269.57" r="1.16" fill="#008bfb"/>
<circle cx="507.39" cy="269.57" r="1.16" fill="#008bfb"/>
<circle cx="506.72" cy="271.23" r="1.16" fill="#008bfb"/>
<circle cx="507.27" cy="271.23" r="1.16" fill="#008bfb"/>
<circle cx="506.61" cy="272.90" r="1.16" fill="#008bfb"/>
<circle cx="507.29" cy="272.90" r="1.16" fill="#008bfb"/>
<circle cx="506.63" cy="274.57" r="1.16" fill="#008bfb"/>
<circle cx="507.32" cy="274.57" r="1.16" fill="#008bfb"/>
<circle cx="506.49" cy="276.23" r="1.16" fill="#008bfb"/>
<circle cx="507.17" cy="276.23" r="1.16" fill="#008bfb"/>
<circle cx="506.51" cy="277.90" r="1.16" fill="#008bfb"/>
<circle cx="507.00" cy="277.90" r="1.16" fill="#008bfb"/>
<circle cx="509.78" cy="269.90" r="1.16" fill="#008bfb"/>
<circle cx="510.34" cy="269.90" r="1.16" fill="#008bfb"/>
<circle cx="509.60" cy="271.40" r="1.16" fill="#008bfb"/>
<circle cx="510.43" cy="271.40" r="1.16" fill="#008bfb"/>
<circle cx="509.79" cy="272.90" r="1.16" fill="#008bfb"/>
<circle cx="510.41" cy="272.90" r="1.16" fill="#008bfb"/>
<circle cx="509.73" cy="274.40" r="1.16" fill="#008bfb"/>
<circle cx="510.22" cy="274.40" r="1.16" fill="#008bfb"/>
<circle cx="509.76" cy="275.90" r="1.16" fill="#008bfb"/>
<circle cx="510.20" cy="275.90" r="1.16" fill="#008bfb"/>
<circle cx="517.09" cy="273.51" r="1.16" fill="#008bfb"/>
<circle cx="519.14" cy="273.31" r="1.16" fill="#008bfb"/>
<circle cx="516.20" cy="272.50" r="1.16" fill="#008bfb"/>
<circle cx="514.29" cy="273.29" r="1.16" fill="#008bfb"/>
<circle cx="514.22" cy="272.48" r="1.16" fill="#008bfb"/>
<circle cx="515.82" cy="273.10" r="1.16" fill="#008bfb"/>
<circle cx="515.11" cy="272.87" r="1.16" fill="#008bfb"/>
<circle cx="516.96" cy="272.67" r="1.16" fill="#008bfb"/>
<circle cx="517.89" cy="269.90" r="1.16" fill="#008bfb"/>
<circle cx="518.24" cy="269.90" r="1.16" fill="#008bfb"/>
<circle cx="517.78" cy="271.40" r="1.16" fill="#008bfb"/>
<circle cx="518.27" cy="271.40" r="1.16" fill="#008bfb"/>
<circle cx="517.78" cy="272.90" r="1.16" fill="#008bfb"/>
<circle cx="518.26" cy="272.90" r="1.16" fill="#008bfb"/>
<circle cx="517.82" cy="274.40" r="1.16" fill="#008bfb"/>
<circle cx="518.50" cy="274.40" r="1.16" fill="#008bfb"/>
<circle cx="517.78" cy="275.90" r="1.16" fill="#008bfb"/>
<circle cx="518.40" cy="275.90" r="1.16" fill="#008bfb"/>
<circle cx="520.70" cy="272.90" r="1.16" fill="#008bfb"/>
<circle cx="451.60" cy="289.20" r="1.16" fill="#ff0051"/>
<circle cx="475.60" cy="289.20" r="1.16" fill="#ff0051"/>
<circle cx="498.10" cy="289.20" r="1.16" fill="#ff0051"/>
<circle cx="502.66" cy="289.61" r="1.16" fill="#fa0065"/>
<circle cx="502.99" cy="289.91" r="1.16" fill="#fe005d"/>
<circle cx="505.35" cy="289.00" r="1.16" fill="#e10085"/>
<circle cx="503.13" cy="287.83" r="1.16" fill="#f20072"/>
<circle cx="505.54" cy="288.93" r="1.16" fill="#f30070"/>
<circle cx="502.91" cy="289.88" r="1.16" fill="#ea007b"/>
<circle cx="503.39" cy="290.19" r="1.16" fill="#fa0065"/>
<circle cx="504.28" cy="290.00" r="1.16" fill="#de0088"/>
<circle cx="512.09" cy="289.78" r="1.16" fill="#6a56d7"/>
<circle cx="508.25" cy="288.79" r="1.16" fill="#0077f2"/>
<circle cx="509.58" cy="288.96" r="1.16" fill="#625adb"/>
<circle cx="509.92" cy="290.31" r="1.16" fill="#5f5bdc"/>
<circle cx="514.96" cy="287.48" r="1.16" fill="#6d54d5"/>
<circle cx="512.44" cy="291.35" r="1.16" fill="#0073ef"/>
<circle cx="507.58" cy="290.75" r="1.16" fill="#6a55d7"/>
<circle cx="508.23" cy="291.81" r="1.16" fill="#4e62e2"/>
<circle cx="507.60" cy="288.96" r="1.16" fill="#0070ed"/>
<circle cx="512.46" cy="292.72" r="1.16" fill="#764ed0"/>
<circle cx="510.76" cy="285.47" r="1.16" fill="#8c3abe"/>
<circle cx="513.72" cy="291.27" r="1.16" fill="#764ed0"/>
<circle cx="505.78" cy="288.14" r="1.16" fill="#555fe0"/>
<circle cx="511.02" cy="286.60" r="1.16" fill="#8740c4"/>
<circle cx="509.92" cy="291.43" r="1.16" fill="#8740c3"/>
<circle cx="507.56" cy="286.89" r="1.16" fill="#6459da"/>
<circle cx="506.21" cy="286.27" r="1.16" fill="#007af4"/>
<circle cx="512.82" cy="291.65" r="1.16" fill="#4166e5"/>
<circle cx="509.68" cy="289.89" r="1.16" fill="#2c6be9"/>
<circle cx="508.38" cy="288.25" r="1.16" fill="#176eeb"/>
<circle cx="511.98" cy="289.64" r="1.16" fill="#0076f1"/>
<circle cx="505.98" cy="290.67" r="1.16" fill="#555fe0"/>
<circle cx="513.58" cy="290.60" r="1.16" fill="#6558d9"/>
<circle cx="507.55" cy="290.04" r="1.16" fill="#5260e1"/>
<circle cx="512.48" cy="287.36" r="1.16" fill="#8f36bb"/>
<circle cx="514.49" cy="291.85" r="1.16" fill="#4166e5"/>
<circle cx="506.94" cy="288.83" r="1.16" fill="#7b4acd"/>
<circle cx="511.53" cy="285.08" r="1.16" fill="#0070ed"/>
<circle cx="514.61" cy="289.38" r="1.16" fill="#0079f3"/>
<circle cx="510.72" cy="291.77" r="1.16" fill="#893ec1"/>
<circle cx="506.16" cy="290.50" r="1.16" fill="#0076f2"/>
<circle cx="511.39" cy="289.56" r="1.16" fill="#007bf4"/>
<circle cx="506.75" cy="288.65" r="1.16" fill="#744fd1"/>
<circle cx="514.88" cy="288.06" r="1.16" fill="#1f6deb"/>
<circle cx="511.89" cy="288.83" r="1.16" fill="#6658d9"/>
<circle cx="508.84" cy="284.20" r="1.16" fill="#236cea"/>
<circle cx="509.40" cy="284.20" r="1.16" fill="#236cea"/>
<circle cx="508.67" cy="285.87" r="1.16" fill="#236cea"/>
<circle cx="509.25" cy="285.87" r="1.16" fill="#236cea"/>
<circle cx="508.78" cy="287.53" r="1.16" fill="#236cea"/>
<circle cx="509.34" cy="287.53" r="1.16" fill="#236cea"/>
<circle cx="508.77" cy="289.20" r="1.16" fill="#236cea"/>
<circle cx="509.29" cy="289.20" r="1.16" fill="#236cea"/>
<circle cx="508.79" cy="290.87" r="1.16" fill="#236cea"/>
<circle cx="509.19" cy="290.87" r="1.16" fill="#236cea"/>
<circle cx="508.82" cy="292.53" r="1.16" fill="#236cea"/>
<circle cx="509.26" cy="292.53" r="1.16" fill="#236cea"/>
<circle cx="508.67" cy="294.20" r="1.16" fill="#236cea"/>
<circle cx="509.12" cy="294.20" r="1.16" fill="#236cea"/>
<circle cx="518.75" cy="289.20" r="1.16" fill="#008bfb"/>
<circle cx="520.50" cy="289.20" r="1.16" fill="#008bfb"/>
<circle cx="484.40" cy="305.50" r="1.16" fill="#008bfb"/>
<circle cx="491.90" cy="305.50" r="1.16" fill="#008bfb"/>
<circle cx="493.70" cy="305.50" r="1.16" fill="#008bfb"/>
<circle cx="495.60" cy="305.50" r="1.16" fill="#008bfb"/>
<circle cx="501.65" cy="305.68" r="1.16" fill="#0082f8"/>
<circle cx="499.15" cy="304.05" r="1.16" fill="#0083f8"/>
<circle cx="500.06" cy="304.29" r="1.16" fill="#007ff6"/>
<circle cx="497.66" cy="306.26" r="1.16" fill="#007ef6"/>
<circle cx="498.01" cy="306.58" r="1.16" fill="#007df6"/>
<circle cx="499.27" cy="305.28" r="1.16" fill="#007ff6"/>
<circle cx="497.80" cy="306.21" r="1.16" fill="#008afb"/>
<circle cx="500.63" cy="303.91" r="1.16" fill="#0084f9"/>
<circle cx="501.04" cy="305.62" r="1.16" fill="#0086f9"/>
<circle cx="498.82" cy="304.26" r="1.16" fill="#0087fa"/>
<circle cx="498.57" cy="304.75" r="1.16" fill="#0089fa"/>
<circle cx="498.47" cy="305.24" r="1.16" fill="#0089fa"/>
<circle cx="501.12" cy="304.86" r="1.16" fill="#0080f7"/>
<circle cx="509.53" cy="307.55" r="1.16" fill="#e8007e"/>
<circle cx="506.97" cy="307.05" r="1.16" fill="#7c49cc"/>
<circle cx="513.12" cy="306.93" r="1.16" fill="#f90066"/>
<circle cx="506.85" cy="302.64" r="1.16" fill="#e7007e"/>
<circle cx="504.75" cy="308.06" r="1.16" fill="#ab16a7"/>
<circle cx="513.27" cy="302.78" r="1.16" fill="#a31daa"/>
<circle cx="512.58" cy="302.56" r="1.16" fill="#e7007f"/>
<circle cx="507.42" cy="306.07" r="1.16" fill="#9233b8"/>
<circle cx="505.53" cy="308.30" r="1.16" fill="#e6007f"/>
<circle cx="503.92" cy="302.94" r="1.16" fill="#883fc2"/>
<circle cx="504.96" cy="303.99" r="1.16" fill="#cc0095"/>
<circle cx="506.39" cy="309.08" r="1.16" fill="#8343c6"/>
<circle cx="508.73" cy="306.77" r="1.16" fill="#ed0077"/>
<circle cx="508.46" cy="306.77" r="1.16" fill="#8f37bc"/>
<circle cx="506.06" cy="308.30" r="1.16" fill="#7a4bce"/>
<circle cx="509.27" cy="309.50" r="1.16" fill="#f90066"/>
<circle cx="504.89" cy="308.93" r="1.16" fill="#c3009b"/>
<circle cx="504.12" cy="307.47" r="1.16" fill="#cd0094"/>
<circle cx="514.81" cy="303.56" r="1.16" fill="#f20071"/>
<circle cx="506.42" cy="301.75" r="1.16" fill="#8f36bb"/>
<circle cx="512.19" cy="308.50" r="1.16" fill="#e7007e"/>
<circle cx="510.73" cy="304.88" r="1.16" fill="#a61ba9"/>
<circle cx="507.22" cy="301.75" r="1.16" fill="#8d39be"/>
<circle cx="505.56" cy="308.58" r="1.16" fill="#f80068"/>
<circle cx="506.00" cy="309.02" r="1.16" fill="#8d39bd"/>
<circle cx="510.75" cy="302.24" r="1.16" fill="#d30090"/>
<circle cx="514.80" cy="306.72" r="1.16" fill="#e20084"/>
<circle cx="510.75" cy="308.29" r="1.16" fill="#c70098"/>
<circle cx="513.64" cy="306.86" r="1.16" fill="#e50080"/>
<circle cx="505.46" cy="307.63" r="1.16" fill="#fb0062"/>
<circle cx="503.27" cy="305.19" r="1.16" fill="#e30083"/>
<circle cx="512.60" cy="307.64" r="1.16" fill="#a818a8"/>
<circle cx="508.38" cy="307.88" r="1.16" fill="#fc0060"/>
<circle cx="503.98" cy="302.50" r="1.16" fill="#f4006f"/>
<circle cx="502.95" cy="303.27" r="1.16" fill="#b10da4"/>
<circle cx="502.62" cy="307.64" r="1.16" fill="#7a4bcd"/>
<circle cx="503.43" cy="305.50" r="1.16" fill="#b604a2"/>
<circle cx="511.88" cy="308.23" r="1.16" fill="#794cce"/>
<circle cx="514.27" cy="303.09" r="1.16" fill="#b20ca4"/>
<circle cx="505.54" cy="303.05" r="1.16" fill="#8343c6"/>
<circle cx="512.53" cy="304.27" r="1.16" fill="#ad13a6"/>
<circle cx="513.64" cy="304.83" r="1.16" fill="#8e38bc"/>
<circle cx="505.56" cy="300.50" r="1.16" fill="#bb00a0"/>
<circle cx="506.24" cy="300.50" r="1.16" fill="#bb00a0"/>
<circle cx="505.52" cy="302.17" r="1.16" fill="#bb00a0"/>
<circle cx="506.37" cy="302.17" r="1.16" fill="#bb00a0"/>
<circle cx="505.65" cy="303.83" r="1.16" fill="#bb00a0"/>
<circle cx="506.37" cy="303.83" r="1.16" fill="#bb00a0"/>
<circle cx="505.68" cy="305.50" r="1.16" fill="#bb00a0"/>
<circle cx="506.12" cy="305.50" r="1.16" fill="#bb00a0"/>
<circle cx="505.90" cy="307.17" r="1.16" fill="#bb00a0"/>
<circle cx="506.40" cy="307.17" r="1.16" fill="#bb00a0"/>
<circle cx="505.73" cy="308.83" r="1.16" fill="#bb00a0"/>
<circle cx="506.16" cy="308.83" r="1.16" fill="#bb00a0"/>
<circle cx="505.76" cy="310.50" r="1.16" fill="#bb00a0"/>
<circle cx="506.31" cy="310.50" r="1.16" fill="#bb00a0"/>
<circle cx="509.78" cy="301.50" r="1.16" fill="#e00086"/>
<circle cx="510.12" cy="301.50" r="1.16" fill="#e00086"/>
<circle cx="509.77" cy="302.83" r="1.16" fill="#e00086"/>
<circle cx="510.48" cy="302.83" r="1.16" fill="#e00086"/>
<circle cx="509.82" cy="304.17" r="1.16" fill="#e00086"/>
<circle cx="510.36" cy="304.17" r="1.16" fill="#e00086"/>
<circle cx="509.58" cy="305.50" r="1.16" fill="#e00086"/>
<circle cx="510.35" cy="305.50" r="1.16" fill="#e00086"/>
<circle cx="509.77" cy="306.83" r="1.16" fill="#e00086"/>
<circle cx="510.20" cy="306.83" r="1.16" fill="#e00086"/>
<circle cx="509.86" cy="308.17" r="1.16" fill="#e00086"/>
<circle cx="510.21" cy="308.17" r="1.16" fill="#e00086"/>
<circle cx="509.53" cy="309.50" r="1.16" fill="#e00086"/>
<circle cx="510.29" cy="309.50" r="1.16" fill="#e00086"/>
<circle cx="518.00" cy="305.50" r="1.16" fill="#ff0051"/>
<circle cx="525.30" cy="305.50" r="1.16" fill="#ff0051"/>
<circle cx="530.00" cy="305.50" r="1.16" fill="#008bfb"/>
<circle cx="534.20" cy="305.50" r="1.16" fill="#ff0051"/>
<circle cx="504.30" cy="322.52" r="1.16" fill="#fc0062"/>
<circle cx="500.49" cy="323.91" r="1.16" fill="#ff0052"/>
<circle cx="500.87" cy="321.73" r="1.16" fill="#fc0061"/>
<circle cx="502.56" cy="323.73" r="1.16" fill="#fd0060"/>
<circle cx="503.67" cy="321.80" r="1.16" fill="#ff0058"/>
<circle cx="502.97" cy="322.42" r="1.16" fill="#fb0063"/>
<circle cx="504.75" cy="320.35" r="1.16" fill="#fb0063"/>
<circle cx="498.33" cy="322.44" r="1.16" fill="#fe005d"/>
<circle cx="504.83" cy="320.77" r="1.16" fill="#fa0065"/>
<circle cx="497.59" cy="321.21" r="1.16" fill="#ff0055"/>
<circle cx="500.19" cy="321.90" r="1.16" fill="#fc0061"/>
<circle cx="499.63" cy="322.88" r="1.16" fill="#f90067"/>
<circle cx="501.67" cy="324.30" r="1.16" fill="#fc0060"/>
<circle cx="501.17" cy="322.66" r="1.16" fill="#fc0061"/>
<circle cx="498.95" cy="323.25" r="1.16" fill="#f90067"/>
<circle cx="499.24" cy="321.70" r="1.16" fill="#f90066"/>
<circle cx="497.82" cy="323.01" r="1.16" fill="#ff0055"/>
<circle cx="501.45" cy="324.46" r="1.16" fill="#ff0055"/>
<circle cx="503.01" cy="321.19" r="1.16" fill="#ff0057"/>
<circle cx="500.09" cy="321.03" r="1.16" fill="#fb0063"/>
<circle cx="497.51" cy="322.69" r="1.16" fill="#ff0056"/>
<circle cx="503.81" cy="321.47" r="1.16" fill="#ff0058"/>
<circle cx="501.99" cy="320.56" r="1.16" fill="#fe005d"/>
<circle cx="498.33" cy="322.98" r="1.16" fill="#ff0058"/>
<circle cx="497.82" cy="322.47" r="1.16" fill="#ff0058"/>
<circle cx="497.93" cy="323.42" r="1.16" fill="#ff0051"/>
<circle cx="501.16" cy="321.03" r="1.16" fill="#f90067"/>
<circle cx="503.24" cy="322.80" r="1.16" fill="#fb0063"/>
<circle cx="498.01" cy="321.47" r="1.16" fill="#ff0056"/>
<circle cx="499.91" cy="322.26" r="1.16" fill="#ff0058"/>
<circle cx="498.86" cy="322.12" r="1.16" fill="#fa0064"/>
<circle cx="503.51" cy="321.70" r="1.16" fill="#ff0053"/>
<circle cx="500.75" cy="321.25" r="1.16" fill="#fe005e"/>
<circle cx="500.81" cy="323.40" r="1.16" fill="#fc0061"/>
<circle cx="497.62" cy="322.26" r="1.16" fill="#fa0064"/>
<circle cx="505.16" cy="317.80" r="1.16" fill="#d5008f"/>
<circle cx="505.84" cy="317.80" r="1.16" fill="#d5008f"/>
<circle cx="505.29" cy="319.13" r="1.16" fill="#d5008f"/>
<circle cx="505.79" cy="319.13" r="1.16" fill="#d5008f"/>
<circle cx="505.46" cy="320.47" r="1.16" fill="#d5008f"/>
<circle cx="505.82" cy="320.47" r="1.16" fill="#d5008f"/>
<circle cx="505.47" cy="321.80" r="1.16" fill="#d5008f"/>
<circle cx="505.81" cy="321.80" r="1.16" fill="#d5008f"/>
<circle cx="505.11" cy="323.13" r="1.16" fill="#d5008f"/>
<circle cx="506.04" cy="323.13" r="1.16" fill="#d5008f"/>
<circle cx="505.26" cy="324.47" r="1.16" fill="#d5008f"/>
<circle cx="505.71" cy="324.47" r="1.16" fill="#d5008f"/>
<circle cx="505.35" cy="325.80" r="1.16" fill="#d5008f"/>
<circle cx="506.01" cy="325.80" r="1.16" fill="#d5008f"/>
<circle cx="508.62" cy="322.20" r="1.16" fill="#9b24ae"/>
<circle cx="507.47" cy="322.02" r="1.16" fill="#9a25ae"/>
<circle cx="507.63" cy="322.44" r="1.16" fill="#3d67e6"/>
<circle cx="511.08" cy="321.87" r="1.16" fill="#8a3cc0"/>
<circle cx="509.68" cy="322.29" r="1.16" fill="#3f66e6"/>
<circle cx="512.79" cy="321.84" r="1.16" fill="#8641c4"/>
<circle cx="511.85" cy="321.81" r="1.16" fill="#9332b7"/>
<circle cx="511.48" cy="321.34" r="1.16" fill="#3c67e6"/>
<circle cx="511.53" cy="322.54" r="1.16" fill="#6359da"/>
<circle cx="507.89" cy="322.15" r="1.16" fill="#9829b1"/>
<circle cx="510.54" cy="320.90" r="1.16" fill="#754fd1"/>
<circle cx="509.36" cy="321.09" r="1.16" fill="#8245c7"/>
<circle cx="510.10" cy="321.62" r="1.16" fill="#7f47ca"/>
<circle cx="514.55" cy="318.80" r="1.16" fill="#008bfb"/>
<circle cx="515.46" cy="318.80" r="1.16" fill="#008bfb"/>
<circle cx="514.64" cy="320.30" r="1.16" fill="#008bfb"/>
<circle cx="515.23" cy="320.30" r="1.16" fill="#008bfb"/>
<circle cx="514.85" cy="321.80" r="1.16" fill="#008bfb"/>
<circle cx="515.33" cy="321.80" r="1.16" fill="#008bfb"/>
<circle cx="514.90" cy="323.30" r="1.16" fill="#008bfb"/>
<circle cx="515.41" cy="323.30" r="1.16" fill="#008bfb"/>
<circle cx="514.80" cy="324.80" r="1.16" fill="#008bfb"/>
<circle cx="515.49" cy="324.80" r="1.16" fill="#008bfb"/>
<circle cx="517.87" cy="320.04" r="1.16" fill="#008bfb"/>
<circle cx="516.37" cy="321.96" r="1.16" fill="#008bfb"/>
<circle cx="519.87" cy="322.37" r="1.16" fill="#008bfb"/>
<circle cx="513.03" cy="321.67" r="1.16" fill="#008bfb"/>
<circle cx="514.66" cy="323.35" r="1.16" fill="#008bfb"/>
<circle cx="518.88" cy="323.42" r="1.16" fill="#008bfb"/>
<circle cx="513.19" cy="321.62" r="1.16" fill="#008bfb"/>
<circle cx="519.66" cy="321.86" r="1.16" fill="#008bfb"/>
<circle cx="518.00" cy="321.86" r="1.16" fill="#008bfb"/>
<circle cx="514.49" cy="323.46" r="1.16" fill="#008bfb"/>
<circle cx="519.21" cy="322.80" r="1.16" fill="#008bfb"/>
<circle cx="514.63" cy="322.81" r="1.16" fill="#008bfb"/>
<circle cx="514.43" cy="322.55" r="1.16" fill="#008bfb"/>
<circle cx="465.00" cy="338.10" r="1.16" fill="#ff0051"/>
<circle cx="502.50" cy="338.10" r="1.16" fill="#ff0051"/>
<circle cx="505.71" cy="338.27" r="1.16" fill="#565fdf"/>
<circle cx="509.25" cy="340.52" r="1.16" fill="#952eb4"/>
<circle cx="506.03" cy="337.00" r="1.16" fill="#0070ed"/>
<circle cx="513.24" cy="340.74" r="1.16" fill="#0070ed"/>
<circle cx="506.95" cy="338.26" r="1.16" fill="#007af4"/>
<circle cx="509.89" cy="339.41" r="1.16" fill="#0072ee"/>
<circle cx="506.14" cy="339.48" r="1.16" fill="#b10ea4"/>
<circle cx="504.33" cy="339.49" r="1.16" fill="#a41caa"/>
<circle cx="510.96" cy="341.83" r="1.16" fill="#136eec"/>
<circle cx="505.04" cy="341.33" r="1.16" fill="#6359da"/>
<circle cx="510.37" cy="338.36" r="1.16" fill="#7b4acd"/>
<circle cx="503.25" cy="335.83" r="1.16" fill="#007df5"/>
<circle cx="512.29" cy="335.40" r="1.16" fill="#4d62e2"/>
<circle cx="504.42" cy="338.96" r="1.16" fill="#893ec2"/>
<circle cx="511.61" cy="339.78" r="1.16" fill="#952eb4"/>
<circle cx="505.05" cy="337.74" r="1.16" fill="#b506a2"/>
<circle cx="507.67" cy="341.14" r="1.16" fill="#754ed0"/>
<circle cx="506.37" cy="341.53" r="1.16" fill="#007ff6"/>
<circle cx="509.91" cy="340.34" r="1.16" fill="#9d22ac"/>
<circle cx="503.64" cy="338.74" r="1.16" fill="#3868e7"/>
<circle cx="510.13" cy="334.31" r="1.16" fill="#6658d9"/>
<circle cx="508.26" cy="335.84" r="1.16" fill="#296bea"/>
<circle cx="510.92" cy="338.65" r="1.16" fill="#5161e1"/>
<circle cx="507.88" cy="339.28" r="1.16" fill="#7e48ca"/>
<circle cx="510.32" cy="341.66" r="1.16" fill="#b704a1"/>
<circle cx="504.47" cy="337.98" r="1.16" fill="#7a4bce"/>
<circle cx="504.35" cy="336.63" r="1.16" fill="#0075f1"/>
<circle cx="507.27" cy="336.62" r="1.16" fill="#007df6"/>
<circle cx="510.54" cy="340.11" r="1.16" fill="#0070ed"/>
<circle cx="504.72" cy="336.92" r="1.16" fill="#9134b9"/>
<circle cx="504.26" cy="339.36" r="1.16" fill="#b20ca4"/>
<circle cx="505.81" cy="336.04" r="1.16" fill="#7d49cc"/>
<circle cx="512.07" cy="336.11" r="1.16" fill="#007ff6"/>
<circle cx="507.55" cy="337.19" r="1.16" fill="#0079f3"/>
<circle cx="511.63" cy="335.06" r="1.16" fill="#873fc3"/>
<circle cx="505.86" cy="335.12" r="1.16" fill="#5061e1"/>
<circle cx="507.26" cy="336.80" r="1.16" fill="#8443c6"/>
<circle cx="508.02" cy="336.29" r="1.16" fill="#0073ef"/>
<circle cx="507.24" cy="333.10" r="1.16" fill="#4b63e3"/>
<circle cx="507.94" cy="333.10" r="1.16" fill="#4b63e3"/>
<circle cx="507.34" cy="334.77" r="1.16" fill="#4b63e3"/>
<circle cx="507.70" cy="334.77" r="1.16" fill="#4b63e3"/>
<circle cx="507.27" cy="336.43" r="1.16" fill="#4b63e3"/>
<circle cx="507.74" cy="336.43" r="1.16" fill="#4b63e3"/>
<circle cx="507.26" cy="338.10" r="1.16" fill="#4b63e3"/>
<circle cx="507.63" cy="338.10" r="1.16" fill="#4b63e3"/>
<circle cx="507.31" cy="339.77" r="1.16" fill="#4b63e3"/>
<circle cx="507.77" cy="339.77" r="1.16" fill="#4b63e3"/>
<circle cx="507.30" cy="341.43" r="1.16" fill="#4b63e3"/>
<circle cx="507.95" cy="341.43" r="1.16" fill="#4b63e3"/>
<circle cx="507.05" cy="343.10" r="1.16" fill="#4b63e3"/>
<circle cx="507.94" cy="343.10" r="1.16" fill="#4b63e3"/>
<circle cx="518.78" cy="337.80" r="1.16" fill="#008bfb"/>
<circle cx="518.34" cy="337.52" r="1.16" fill="#008bfb"/>
<circle cx="515.54" cy="338.07" r="1.16" fill="#008bfb"/>
<circle cx="516.00" cy="338.81" r="1.16" fill="#008bfb"/>
<circle cx="516.05" cy="337.44" r="1.16" fill="#008bfb"/>
<circle cx="515.01" cy="337.90" r="1.16" fill="#008bfb"/>
<circle cx="520.50" cy="338.10" r="1.16" fill="#008bfb"/>
</svg></body></html>
